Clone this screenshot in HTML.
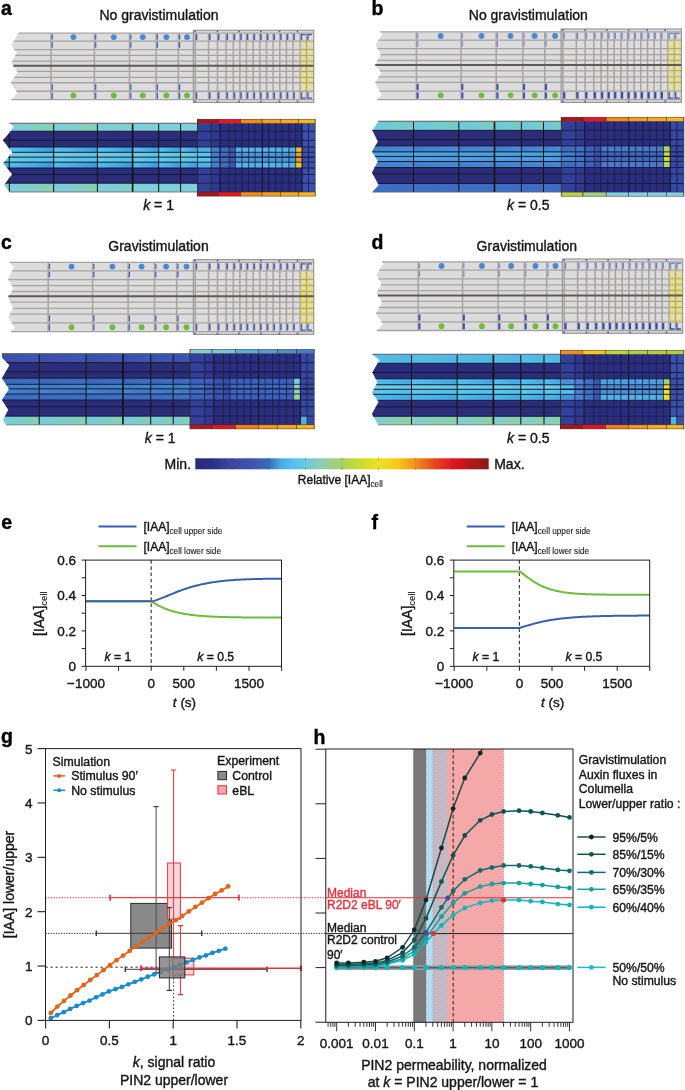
<!DOCTYPE html><html><head><meta charset="utf-8"><style>html,body{margin:0;padding:0;background:#fff}svg{display:block;will-change:transform}</style></head><body><svg width="685" height="1090" viewBox="0 0 685 1090" font-family="Liberation Sans, sans-serif">
<rect x="0" y="0" width="685" height="1090" fill="#ffffff" />
<text x="1" y="15" font-size="19.5" text-anchor="start" fill="#000" stroke="#000" stroke-width="0.38" font-weight="bold">a</text>
<text x="371.5" y="15" font-size="19.5" text-anchor="start" fill="#000" stroke="#000" stroke-width="0.38" font-weight="bold">b</text>
<text x="1" y="248.7" font-size="19.5" text-anchor="start" fill="#000" stroke="#000" stroke-width="0.38" font-weight="bold">c</text>
<text x="371.5" y="248.7" font-size="19.5" text-anchor="start" fill="#000" stroke="#000" stroke-width="0.38" font-weight="bold">d</text>
<text x="1.2" y="528.6" font-size="19.5" text-anchor="start" fill="#000" stroke="#000" stroke-width="0.38" font-weight="bold">e</text>
<text x="371.5" y="528.6" font-size="19.5" text-anchor="start" fill="#000" stroke="#000" stroke-width="0.38" font-weight="bold">f</text>
<text x="1" y="743" font-size="19.5" text-anchor="start" fill="#000" stroke="#000" stroke-width="0.38" font-weight="bold">g</text>
<text x="313.5" y="743.9" font-size="19.5" text-anchor="start" fill="#000" stroke="#000" stroke-width="0.38" font-weight="bold">h</text>
<text x="159" y="19.7" font-size="14" text-anchor="middle" fill="#161616" stroke="#161616" stroke-width="0.38" >No gravistimulation</text>
<text x="528.3" y="19.7" font-size="14" text-anchor="middle" fill="#161616" stroke="#161616" stroke-width="0.38" >No gravistimulation</text>
<text x="158.5" y="251.3" font-size="14" text-anchor="middle" fill="#161616" stroke="#161616" stroke-width="0.38" >Gravistimulation</text>
<text x="526.8" y="251.3" font-size="14" text-anchor="middle" fill="#161616" stroke="#161616" stroke-width="0.38" >Gravistimulation</text>
<polygon points="18.4,33.06 11.4,45 16.6,53 11.4,62.7 17.5,72.3 11,82.8 17.5,93.3 11.4,99.66 193.4,99.66 193.4,33.06" fill="#dcdcdc"/>
<rect x="193.4" y="30.26" width="120.3" height="72.2" fill="#dcdcdc" />
<line x1="18.4" y1="33.06" x2="313.7" y2="33.06" stroke="#a7a3a3" stroke-width="1.3" />
<line x1="13.65" y1="41.16" x2="313.7" y2="41.16" stroke="#a7a3a3" stroke-width="1.3" />
<line x1="14.36" y1="49.56" x2="313.7" y2="49.56" stroke="#a7a3a3" stroke-width="1.3" />
<line x1="15.28" y1="55.46" x2="313.7" y2="55.46" stroke="#a7a3a3" stroke-width="1.3" />
<line x1="12.28" y1="61.06" x2="313.7" y2="61.06" stroke="#a7a3a3" stroke-width="1.3" />
<line x1="16.9" y1="71.36" x2="313.7" y2="71.36" stroke="#a7a3a3" stroke-width="1.3" />
<line x1="14.37" y1="77.36" x2="313.7" y2="77.36" stroke="#a7a3a3" stroke-width="1.3" />
<line x1="11.02" y1="82.76" x2="313.7" y2="82.76" stroke="#a7a3a3" stroke-width="1.3" />
<line x1="16.24" y1="91.26" x2="313.7" y2="91.26" stroke="#a7a3a3" stroke-width="1.3" />
<line x1="11.4" y1="99.66" x2="313.7" y2="99.66" stroke="#a7a3a3" stroke-width="1.3" />
<line x1="51" y1="33.06" x2="51" y2="99.66" stroke="#a7a3a3" stroke-width="1.5" />
<line x1="94.4" y1="33.06" x2="94.4" y2="99.66" stroke="#a7a3a3" stroke-width="1.5" />
<line x1="129.5" y1="33.06" x2="129.5" y2="99.66" stroke="#a7a3a3" stroke-width="1.5" />
<line x1="156.1" y1="33.06" x2="156.1" y2="99.66" stroke="#a7a3a3" stroke-width="1.5" />
<line x1="178.3" y1="33.06" x2="178.3" y2="99.66" stroke="#a7a3a3" stroke-width="1.5" />
<line x1="195.3" y1="33.06" x2="195.3" y2="99.66" stroke="#a7a3a3" stroke-width="1.5" />
<line x1="208.6" y1="33.06" x2="208.6" y2="99.66" stroke="#a7a3a3" stroke-width="1.5" />
<line x1="217.5" y1="33.06" x2="217.5" y2="99.66" stroke="#a7a3a3" stroke-width="1.5" />
<line x1="226.1" y1="33.06" x2="226.1" y2="99.66" stroke="#a7a3a3" stroke-width="1.5" />
<line x1="233.3" y1="33.06" x2="233.3" y2="99.66" stroke="#a7a3a3" stroke-width="1.5" />
<line x1="239.9" y1="33.06" x2="239.9" y2="99.66" stroke="#a7a3a3" stroke-width="1.5" />
<line x1="246.4" y1="33.06" x2="246.4" y2="99.66" stroke="#a7a3a3" stroke-width="1.5" />
<line x1="253.2" y1="33.06" x2="253.2" y2="99.66" stroke="#a7a3a3" stroke-width="1.5" />
<line x1="259.8" y1="33.06" x2="259.8" y2="99.66" stroke="#a7a3a3" stroke-width="1.5" />
<line x1="266.5" y1="33.06" x2="266.5" y2="99.66" stroke="#a7a3a3" stroke-width="1.5" />
<line x1="273.1" y1="33.06" x2="273.1" y2="99.66" stroke="#a7a3a3" stroke-width="1.5" />
<line x1="279.8" y1="33.06" x2="279.8" y2="99.66" stroke="#a7a3a3" stroke-width="1.5" />
<line x1="286.4" y1="33.06" x2="286.4" y2="99.66" stroke="#a7a3a3" stroke-width="1.5" />
<line x1="293" y1="33.06" x2="293" y2="99.66" stroke="#a7a3a3" stroke-width="1.5" />
<line x1="300.1" y1="33.06" x2="300.1" y2="99.66" stroke="#a7a3a3" stroke-width="1.5" />
<line x1="306.5" y1="33.06" x2="306.5" y2="99.66" stroke="#a7a3a3" stroke-width="1.5" />
<rect x="193.4" y="30.26" width="120.3" height="72.2" fill="none" stroke="#9a9696" stroke-width="1.2"/>
<rect x="301.25" y="42.31" width="4.1" height="6.1" fill="none" stroke="#ece040" stroke-width="0.95"/>
<rect x="301.25" y="50.71" width="4.1" height="3.6" fill="none" stroke="#ece040" stroke-width="0.95"/>
<rect x="301.25" y="56.61" width="4.1" height="3.3" fill="none" stroke="#ece040" stroke-width="0.95"/>
<rect x="301.25" y="62.21" width="4.1" height="2.3" fill="none" stroke="#ece040" stroke-width="0.95"/>
<rect x="301.25" y="66.81" width="4.1" height="3.4" fill="none" stroke="#ece040" stroke-width="0.95"/>
<rect x="301.25" y="72.51" width="4.1" height="3.7" fill="none" stroke="#ece040" stroke-width="0.95"/>
<rect x="301.25" y="78.51" width="4.1" height="3.1" fill="none" stroke="#ece040" stroke-width="0.95"/>
<rect x="301.25" y="83.91" width="4.1" height="6.2" fill="none" stroke="#ece040" stroke-width="0.95"/>
<rect x="307.65" y="42.31" width="4.2" height="6.1" fill="none" stroke="#ece040" stroke-width="0.95"/>
<rect x="307.65" y="50.71" width="4.2" height="3.6" fill="none" stroke="#ece040" stroke-width="0.95"/>
<rect x="307.65" y="56.61" width="4.2" height="3.3" fill="none" stroke="#ece040" stroke-width="0.95"/>
<rect x="307.65" y="62.21" width="4.2" height="2.3" fill="none" stroke="#ece040" stroke-width="0.95"/>
<rect x="307.65" y="66.81" width="4.2" height="3.4" fill="none" stroke="#ece040" stroke-width="0.95"/>
<rect x="307.65" y="72.51" width="4.2" height="3.7" fill="none" stroke="#ece040" stroke-width="0.95"/>
<rect x="307.65" y="78.51" width="4.2" height="3.1" fill="none" stroke="#ece040" stroke-width="0.95"/>
<rect x="307.65" y="83.91" width="4.2" height="6.2" fill="none" stroke="#ece040" stroke-width="0.95"/>
<line x1="13.28" y1="65.66" x2="313.7" y2="65.66" stroke="#5e5a5a" stroke-width="2" />
<line x1="52.3" y1="34.56" x2="52.3" y2="39.56" stroke="#4656b4" stroke-width="1.2" />
<line x1="52.3" y1="42.16" x2="52.3" y2="47.66" stroke="#4656b4" stroke-width="1.2" />
<line x1="52.3" y1="84.26" x2="52.3" y2="90.26" stroke="#4656b4" stroke-width="1.2" />
<line x1="52.3" y1="92.76" x2="52.3" y2="98.76" stroke="#4656b4" stroke-width="1.2" />
<line x1="95.7" y1="34.56" x2="95.7" y2="39.56" stroke="#4656b4" stroke-width="1.2" />
<line x1="95.7" y1="42.16" x2="95.7" y2="47.66" stroke="#4656b4" stroke-width="1.2" />
<line x1="95.7" y1="84.26" x2="95.7" y2="90.26" stroke="#4656b4" stroke-width="1.2" />
<line x1="95.7" y1="92.76" x2="95.7" y2="98.76" stroke="#4656b4" stroke-width="1.2" />
<line x1="130.8" y1="34.56" x2="130.8" y2="39.56" stroke="#4656b4" stroke-width="1.2" />
<line x1="130.8" y1="42.16" x2="130.8" y2="47.66" stroke="#4656b4" stroke-width="1.2" />
<line x1="130.8" y1="84.26" x2="130.8" y2="90.26" stroke="#4656b4" stroke-width="1.2" />
<line x1="130.8" y1="92.76" x2="130.8" y2="98.76" stroke="#4656b4" stroke-width="1.2" />
<line x1="157.4" y1="34.56" x2="157.4" y2="39.56" stroke="#4656b4" stroke-width="1.2" />
<line x1="157.4" y1="42.16" x2="157.4" y2="47.66" stroke="#4656b4" stroke-width="1.2" />
<line x1="157.4" y1="84.26" x2="157.4" y2="90.26" stroke="#4656b4" stroke-width="1.2" />
<line x1="157.4" y1="92.76" x2="157.4" y2="98.76" stroke="#4656b4" stroke-width="1.2" />
<line x1="179.6" y1="34.56" x2="179.6" y2="39.56" stroke="#4656b4" stroke-width="1.2" />
<line x1="179.6" y1="42.16" x2="179.6" y2="47.66" stroke="#4656b4" stroke-width="1.2" />
<line x1="179.6" y1="84.26" x2="179.6" y2="90.26" stroke="#4656b4" stroke-width="1.2" />
<line x1="179.6" y1="92.76" x2="179.6" y2="98.76" stroke="#4656b4" stroke-width="1.2" />
<line x1="196.5" y1="34.06" x2="196.5" y2="40.06" stroke="#4656b4" stroke-width="1.5" />
<line x1="196.5" y1="92.26" x2="196.5" y2="98.76" stroke="#4656b4" stroke-width="1.5" />
<line x1="209.8" y1="34.06" x2="209.8" y2="40.06" stroke="#4656b4" stroke-width="1.5" />
<line x1="209.8" y1="92.26" x2="209.8" y2="98.76" stroke="#4656b4" stroke-width="1.5" />
<line x1="218.7" y1="34.06" x2="218.7" y2="40.06" stroke="#4656b4" stroke-width="1.5" />
<line x1="218.7" y1="92.26" x2="218.7" y2="98.76" stroke="#4656b4" stroke-width="1.5" />
<line x1="227.3" y1="34.06" x2="227.3" y2="40.06" stroke="#4656b4" stroke-width="1.5" />
<line x1="227.3" y1="92.26" x2="227.3" y2="98.76" stroke="#4656b4" stroke-width="1.5" />
<line x1="234.5" y1="34.06" x2="234.5" y2="40.06" stroke="#4656b4" stroke-width="1.5" />
<line x1="234.5" y1="92.26" x2="234.5" y2="98.76" stroke="#4656b4" stroke-width="1.5" />
<line x1="241.1" y1="34.06" x2="241.1" y2="40.06" stroke="#4656b4" stroke-width="1.5" />
<line x1="241.1" y1="92.26" x2="241.1" y2="98.76" stroke="#4656b4" stroke-width="1.5" />
<line x1="247.6" y1="34.06" x2="247.6" y2="40.06" stroke="#4656b4" stroke-width="1.5" />
<line x1="247.6" y1="92.26" x2="247.6" y2="98.76" stroke="#4656b4" stroke-width="1.5" />
<line x1="254.4" y1="34.06" x2="254.4" y2="40.06" stroke="#4656b4" stroke-width="1.5" />
<line x1="254.4" y1="92.26" x2="254.4" y2="98.76" stroke="#4656b4" stroke-width="1.5" />
<line x1="261" y1="34.06" x2="261" y2="40.06" stroke="#4656b4" stroke-width="1.5" />
<line x1="261" y1="92.26" x2="261" y2="98.76" stroke="#4656b4" stroke-width="1.5" />
<line x1="267.7" y1="34.06" x2="267.7" y2="40.06" stroke="#4656b4" stroke-width="1.5" />
<line x1="267.7" y1="92.26" x2="267.7" y2="98.76" stroke="#4656b4" stroke-width="1.5" />
<line x1="274.3" y1="34.06" x2="274.3" y2="40.06" stroke="#4656b4" stroke-width="1.5" />
<line x1="274.3" y1="92.26" x2="274.3" y2="98.76" stroke="#4656b4" stroke-width="1.5" />
<line x1="281" y1="34.06" x2="281" y2="40.06" stroke="#4656b4" stroke-width="1.5" />
<line x1="281" y1="92.26" x2="281" y2="98.76" stroke="#4656b4" stroke-width="1.5" />
<line x1="287.6" y1="34.06" x2="287.6" y2="40.06" stroke="#4656b4" stroke-width="1.5" />
<line x1="287.6" y1="92.26" x2="287.6" y2="98.76" stroke="#4656b4" stroke-width="1.5" />
<line x1="294.2" y1="34.06" x2="294.2" y2="40.06" stroke="#4656b4" stroke-width="1.5" />
<line x1="294.2" y1="92.26" x2="294.2" y2="98.76" stroke="#4656b4" stroke-width="1.5" />
<path d="M301.5,40.16 V34.56 H305.5" stroke="#4656b4" stroke-width="1.3" fill="none"/>
<path d="M301.5,92.26 V98.16 H305.5" stroke="#4656b4" stroke-width="1.3" fill="none"/>
<path d="M307.9,40.16 V34.56 H311.9" stroke="#4656b4" stroke-width="1.3" fill="none"/>
<path d="M307.9,92.26 V98.16 H311.9" stroke="#4656b4" stroke-width="1.3" fill="none"/>
<rect x="194.3" y="30.56" width="1.6" height="1.6" fill="#4656b4" />
<rect x="194.3" y="100.66" width="1.6" height="1.6" fill="#4656b4" />
<rect x="216.7" y="30.56" width="1.6" height="1.6" fill="#4656b4" />
<rect x="216.7" y="100.66" width="1.6" height="1.6" fill="#4656b4" />
<rect x="238.3" y="30.56" width="1.6" height="1.6" fill="#4656b4" />
<rect x="238.3" y="100.66" width="1.6" height="1.6" fill="#4656b4" />
<rect x="260.2" y="30.56" width="1.6" height="1.6" fill="#4656b4" />
<rect x="260.2" y="100.66" width="1.6" height="1.6" fill="#4656b4" />
<rect x="278.7" y="30.56" width="1.6" height="1.6" fill="#4656b4" />
<rect x="278.7" y="100.66" width="1.6" height="1.6" fill="#4656b4" />
<rect x="296.7" y="30.56" width="1.6" height="1.6" fill="#4656b4" />
<rect x="296.7" y="100.66" width="1.6" height="1.6" fill="#4656b4" />
<circle cx="73.4" cy="37.11" r="2.9" fill="#4a88d2"/>
<circle cx="73.4" cy="95.46" r="2.9" fill="#6cbd3c"/>
<circle cx="113.8" cy="37.11" r="2.9" fill="#4a88d2"/>
<circle cx="113.8" cy="95.46" r="2.9" fill="#6cbd3c"/>
<circle cx="142.8" cy="37.11" r="2.9" fill="#4a88d2"/>
<circle cx="142.8" cy="95.46" r="2.9" fill="#6cbd3c"/>
<circle cx="166.4" cy="37.11" r="2.9" fill="#4a88d2"/>
<circle cx="166.4" cy="95.46" r="2.9" fill="#6cbd3c"/>
<circle cx="187" cy="37.11" r="2.9" fill="#4a88d2"/>
<circle cx="187" cy="95.46" r="2.9" fill="#6cbd3c"/>
<polygon points="379.9,31.8 382.5,33.8 375.5,45.1 380.8,53.9 375.1,64.8 381.2,72.7 375.1,82.8 381.6,95 377.3,99.6 561.1,99.6 561.1,31.8" fill="#dcdcdc"/>
<rect x="561.1" y="29" width="120.3" height="73.4" fill="#dcdcdc" />
<line x1="379.9" y1="31.8" x2="681.4" y2="31.8" stroke="#a7a3a3" stroke-width="1.3" />
<line x1="378.63" y1="40.05" x2="681.4" y2="40.05" stroke="#a7a3a3" stroke-width="1.3" />
<line x1="377.61" y1="48.6" x2="681.4" y2="48.6" stroke="#a7a3a3" stroke-width="1.3" />
<line x1="380.43" y1="54.6" x2="681.4" y2="54.6" stroke="#a7a3a3" stroke-width="1.3" />
<line x1="377.45" y1="60.3" x2="681.4" y2="60.3" stroke="#a7a3a3" stroke-width="1.3" />
<line x1="379.73" y1="70.79" x2="681.4" y2="70.79" stroke="#a7a3a3" stroke-width="1.3" />
<line x1="378.66" y1="76.9" x2="681.4" y2="76.9" stroke="#a7a3a3" stroke-width="1.3" />
<line x1="375.34" y1="82.4" x2="681.4" y2="82.4" stroke="#a7a3a3" stroke-width="1.3" />
<line x1="379.49" y1="91.05" x2="681.4" y2="91.05" stroke="#a7a3a3" stroke-width="1.3" />
<line x1="377.3" y1="99.6" x2="681.4" y2="99.6" stroke="#a7a3a3" stroke-width="1.3" />
<line x1="416.4" y1="31.8" x2="416.4" y2="99.6" stroke="#a7a3a3" stroke-width="1.5" />
<line x1="461.1" y1="31.8" x2="461.1" y2="99.6" stroke="#a7a3a3" stroke-width="1.5" />
<line x1="496.2" y1="31.8" x2="496.2" y2="99.6" stroke="#a7a3a3" stroke-width="1.5" />
<line x1="522.8" y1="31.8" x2="522.8" y2="99.6" stroke="#a7a3a3" stroke-width="1.5" />
<line x1="544.8" y1="31.8" x2="544.8" y2="99.6" stroke="#a7a3a3" stroke-width="1.5" />
<line x1="563" y1="31.8" x2="563" y2="99.6" stroke="#a7a3a3" stroke-width="1.5" />
<line x1="576.3" y1="31.8" x2="576.3" y2="99.6" stroke="#a7a3a3" stroke-width="1.5" />
<line x1="585.2" y1="31.8" x2="585.2" y2="99.6" stroke="#a7a3a3" stroke-width="1.5" />
<line x1="593.8" y1="31.8" x2="593.8" y2="99.6" stroke="#a7a3a3" stroke-width="1.5" />
<line x1="601" y1="31.8" x2="601" y2="99.6" stroke="#a7a3a3" stroke-width="1.5" />
<line x1="607.6" y1="31.8" x2="607.6" y2="99.6" stroke="#a7a3a3" stroke-width="1.5" />
<line x1="614.1" y1="31.8" x2="614.1" y2="99.6" stroke="#a7a3a3" stroke-width="1.5" />
<line x1="620.9" y1="31.8" x2="620.9" y2="99.6" stroke="#a7a3a3" stroke-width="1.5" />
<line x1="627.5" y1="31.8" x2="627.5" y2="99.6" stroke="#a7a3a3" stroke-width="1.5" />
<line x1="634.2" y1="31.8" x2="634.2" y2="99.6" stroke="#a7a3a3" stroke-width="1.5" />
<line x1="640.8" y1="31.8" x2="640.8" y2="99.6" stroke="#a7a3a3" stroke-width="1.5" />
<line x1="647.5" y1="31.8" x2="647.5" y2="99.6" stroke="#a7a3a3" stroke-width="1.5" />
<line x1="654.1" y1="31.8" x2="654.1" y2="99.6" stroke="#a7a3a3" stroke-width="1.5" />
<line x1="660.7" y1="31.8" x2="660.7" y2="99.6" stroke="#a7a3a3" stroke-width="1.5" />
<line x1="667.8" y1="31.8" x2="667.8" y2="99.6" stroke="#a7a3a3" stroke-width="1.5" />
<line x1="674.2" y1="31.8" x2="674.2" y2="99.6" stroke="#a7a3a3" stroke-width="1.5" />
<rect x="561.1" y="29" width="120.3" height="73.4" fill="none" stroke="#9a9696" stroke-width="1.2"/>
<rect x="668.95" y="41.2" width="4.1" height="6.25" fill="none" stroke="#ece040" stroke-width="0.95"/>
<rect x="668.95" y="49.75" width="4.1" height="3.71" fill="none" stroke="#ece040" stroke-width="0.95"/>
<rect x="668.95" y="55.75" width="4.1" height="3.4" fill="none" stroke="#ece040" stroke-width="0.95"/>
<rect x="668.95" y="61.45" width="4.1" height="2.38" fill="none" stroke="#ece040" stroke-width="0.95"/>
<rect x="668.95" y="66.14" width="4.1" height="3.5" fill="none" stroke="#ece040" stroke-width="0.95"/>
<rect x="668.95" y="71.94" width="4.1" height="3.81" fill="none" stroke="#ece040" stroke-width="0.95"/>
<rect x="668.95" y="78.05" width="4.1" height="3.2" fill="none" stroke="#ece040" stroke-width="0.95"/>
<rect x="668.95" y="83.55" width="4.1" height="6.35" fill="none" stroke="#ece040" stroke-width="0.95"/>
<rect x="675.35" y="41.2" width="4.2" height="6.25" fill="none" stroke="#ece040" stroke-width="0.95"/>
<rect x="675.35" y="49.75" width="4.2" height="3.71" fill="none" stroke="#ece040" stroke-width="0.95"/>
<rect x="675.35" y="55.75" width="4.2" height="3.4" fill="none" stroke="#ece040" stroke-width="0.95"/>
<rect x="675.35" y="61.45" width="4.2" height="2.38" fill="none" stroke="#ece040" stroke-width="0.95"/>
<rect x="675.35" y="66.14" width="4.2" height="3.5" fill="none" stroke="#ece040" stroke-width="0.95"/>
<rect x="675.35" y="71.94" width="4.2" height="3.81" fill="none" stroke="#ece040" stroke-width="0.95"/>
<rect x="675.35" y="78.05" width="4.2" height="3.2" fill="none" stroke="#ece040" stroke-width="0.95"/>
<rect x="675.35" y="83.55" width="4.2" height="6.35" fill="none" stroke="#ece040" stroke-width="0.95"/>
<line x1="375.24" y1="64.99" x2="681.4" y2="64.99" stroke="#5e5a5a" stroke-width="2" />
<line x1="417.7" y1="33.3" x2="417.7" y2="38.3" stroke="#7080cc" stroke-width="1" />
<line x1="417.7" y1="41.05" x2="417.7" y2="46.55" stroke="#7080cc" stroke-width="1" />
<line x1="417.7" y1="83.9" x2="417.7" y2="89.9" stroke="#3a4ab0" stroke-width="1.9" />
<line x1="417.7" y1="92.55" x2="417.7" y2="98.55" stroke="#3a4ab0" stroke-width="1.9" />
<line x1="462.4" y1="33.3" x2="462.4" y2="38.3" stroke="#7080cc" stroke-width="1" />
<line x1="462.4" y1="41.05" x2="462.4" y2="46.55" stroke="#7080cc" stroke-width="1" />
<line x1="462.4" y1="83.9" x2="462.4" y2="89.9" stroke="#3a4ab0" stroke-width="1.9" />
<line x1="462.4" y1="92.55" x2="462.4" y2="98.55" stroke="#3a4ab0" stroke-width="1.9" />
<line x1="497.5" y1="33.3" x2="497.5" y2="38.3" stroke="#7080cc" stroke-width="1" />
<line x1="497.5" y1="41.05" x2="497.5" y2="46.55" stroke="#7080cc" stroke-width="1" />
<line x1="497.5" y1="83.9" x2="497.5" y2="89.9" stroke="#3a4ab0" stroke-width="1.9" />
<line x1="497.5" y1="92.55" x2="497.5" y2="98.55" stroke="#3a4ab0" stroke-width="1.9" />
<line x1="524.1" y1="33.3" x2="524.1" y2="38.3" stroke="#7080cc" stroke-width="1" />
<line x1="524.1" y1="41.05" x2="524.1" y2="46.55" stroke="#7080cc" stroke-width="1" />
<line x1="524.1" y1="83.9" x2="524.1" y2="89.9" stroke="#3a4ab0" stroke-width="1.9" />
<line x1="524.1" y1="92.55" x2="524.1" y2="98.55" stroke="#3a4ab0" stroke-width="1.9" />
<line x1="546.1" y1="33.3" x2="546.1" y2="38.3" stroke="#7080cc" stroke-width="1" />
<line x1="546.1" y1="41.05" x2="546.1" y2="46.55" stroke="#7080cc" stroke-width="1" />
<line x1="546.1" y1="83.9" x2="546.1" y2="89.9" stroke="#3a4ab0" stroke-width="1.9" />
<line x1="546.1" y1="92.55" x2="546.1" y2="98.55" stroke="#3a4ab0" stroke-width="1.9" />
<line x1="564.2" y1="32.8" x2="564.2" y2="38.8" stroke="#7080cc" stroke-width="1.3" />
<line x1="564.2" y1="92.05" x2="564.2" y2="98.55" stroke="#3a4ab0" stroke-width="2.2" />
<line x1="577.5" y1="32.8" x2="577.5" y2="38.8" stroke="#7080cc" stroke-width="1.3" />
<line x1="577.5" y1="92.05" x2="577.5" y2="98.55" stroke="#3a4ab0" stroke-width="2.2" />
<line x1="586.4" y1="32.8" x2="586.4" y2="38.8" stroke="#7080cc" stroke-width="1.3" />
<line x1="586.4" y1="92.05" x2="586.4" y2="98.55" stroke="#3a4ab0" stroke-width="2.2" />
<line x1="595" y1="32.8" x2="595" y2="38.8" stroke="#7080cc" stroke-width="1.3" />
<line x1="595" y1="92.05" x2="595" y2="98.55" stroke="#3a4ab0" stroke-width="2.2" />
<line x1="602.2" y1="32.8" x2="602.2" y2="38.8" stroke="#7080cc" stroke-width="1.3" />
<line x1="602.2" y1="92.05" x2="602.2" y2="98.55" stroke="#3a4ab0" stroke-width="2.2" />
<line x1="608.8" y1="32.8" x2="608.8" y2="38.8" stroke="#7080cc" stroke-width="1.3" />
<line x1="608.8" y1="92.05" x2="608.8" y2="98.55" stroke="#3a4ab0" stroke-width="2.2" />
<line x1="615.3" y1="32.8" x2="615.3" y2="38.8" stroke="#7080cc" stroke-width="1.3" />
<line x1="615.3" y1="92.05" x2="615.3" y2="98.55" stroke="#3a4ab0" stroke-width="2.2" />
<line x1="622.1" y1="32.8" x2="622.1" y2="38.8" stroke="#7080cc" stroke-width="1.3" />
<line x1="622.1" y1="92.05" x2="622.1" y2="98.55" stroke="#3a4ab0" stroke-width="2.2" />
<line x1="628.7" y1="32.8" x2="628.7" y2="38.8" stroke="#7080cc" stroke-width="1.3" />
<line x1="628.7" y1="92.05" x2="628.7" y2="98.55" stroke="#3a4ab0" stroke-width="2.2" />
<line x1="635.4" y1="32.8" x2="635.4" y2="38.8" stroke="#7080cc" stroke-width="1.3" />
<line x1="635.4" y1="92.05" x2="635.4" y2="98.55" stroke="#3a4ab0" stroke-width="2.2" />
<line x1="642" y1="32.8" x2="642" y2="38.8" stroke="#7080cc" stroke-width="1.3" />
<line x1="642" y1="92.05" x2="642" y2="98.55" stroke="#3a4ab0" stroke-width="2.2" />
<line x1="648.7" y1="32.8" x2="648.7" y2="38.8" stroke="#7080cc" stroke-width="1.3" />
<line x1="648.7" y1="92.05" x2="648.7" y2="98.55" stroke="#3a4ab0" stroke-width="2.2" />
<line x1="655.3" y1="32.8" x2="655.3" y2="38.8" stroke="#7080cc" stroke-width="1.3" />
<line x1="655.3" y1="92.05" x2="655.3" y2="98.55" stroke="#3a4ab0" stroke-width="2.2" />
<line x1="661.9" y1="32.8" x2="661.9" y2="38.8" stroke="#7080cc" stroke-width="1.3" />
<line x1="661.9" y1="92.05" x2="661.9" y2="98.55" stroke="#3a4ab0" stroke-width="2.2" />
<path d="M669.2,39.05 V33.3 H673.2" stroke="#7080cc" stroke-width="1.3" fill="none"/>
<path d="M669.2,92.05 V98.1 H673.2" stroke="#3a4ab0" stroke-width="1.3" fill="none"/>
<path d="M675.6,39.05 V33.3 H679.6" stroke="#7080cc" stroke-width="1.3" fill="none"/>
<path d="M675.6,92.05 V98.1 H679.6" stroke="#3a4ab0" stroke-width="1.3" fill="none"/>
<rect x="562" y="29.3" width="1.6" height="1.6" fill="#4656b4" />
<rect x="562" y="100.6" width="1.6" height="1.6" fill="#4656b4" />
<rect x="584.4" y="29.3" width="1.6" height="1.6" fill="#4656b4" />
<rect x="584.4" y="100.6" width="1.6" height="1.6" fill="#4656b4" />
<rect x="606" y="29.3" width="1.6" height="1.6" fill="#4656b4" />
<rect x="606" y="100.6" width="1.6" height="1.6" fill="#4656b4" />
<rect x="627.9" y="29.3" width="1.6" height="1.6" fill="#4656b4" />
<rect x="627.9" y="100.6" width="1.6" height="1.6" fill="#4656b4" />
<rect x="646.4" y="29.3" width="1.6" height="1.6" fill="#4656b4" />
<rect x="646.4" y="100.6" width="1.6" height="1.6" fill="#4656b4" />
<rect x="664.4" y="29.3" width="1.6" height="1.6" fill="#4656b4" />
<rect x="664.4" y="100.6" width="1.6" height="1.6" fill="#4656b4" />
<circle cx="440.7" cy="35.92" r="2.9" fill="#4a88d2"/>
<circle cx="440.7" cy="95.32" r="2.9" fill="#6cbd3c"/>
<circle cx="481.5" cy="35.92" r="2.9" fill="#4a88d2"/>
<circle cx="481.5" cy="95.32" r="2.9" fill="#6cbd3c"/>
<circle cx="510.5" cy="35.92" r="2.9" fill="#4a88d2"/>
<circle cx="510.5" cy="95.32" r="2.9" fill="#6cbd3c"/>
<circle cx="534.6" cy="35.92" r="2.9" fill="#4a88d2"/>
<circle cx="534.6" cy="95.32" r="2.9" fill="#6cbd3c"/>
<circle cx="555.1" cy="35.92" r="2.9" fill="#4a88d2"/>
<circle cx="555.1" cy="95.32" r="2.9" fill="#6cbd3c"/>
<polygon points="9.6,262.4 14,267.3 7.9,279.1 13.6,288.7 7.9,297 13.1,308 8.3,317.2 14.9,327.7 10.9,331.6 193.4,331.6 193.4,262.4" fill="#dcdcdc"/>
<rect x="193.4" y="259.6" width="120.3" height="74.8" fill="#dcdcdc" />
<line x1="9.6" y1="262.4" x2="313.7" y2="262.4" stroke="#a7a3a3" stroke-width="1.3" />
<line x1="12.18" y1="270.82" x2="313.7" y2="270.82" stroke="#a7a3a3" stroke-width="1.3" />
<line x1="8.16" y1="279.54" x2="313.7" y2="279.54" stroke="#a7a3a3" stroke-width="1.3" />
<line x1="11.8" y1="285.67" x2="313.7" y2="285.67" stroke="#a7a3a3" stroke-width="1.3" />
<line x1="11.68" y1="291.49" x2="313.7" y2="291.49" stroke="#a7a3a3" stroke-width="1.3" />
<line x1="10.36" y1="302.2" x2="313.7" y2="302.2" stroke="#a7a3a3" stroke-width="1.3" />
<line x1="12.88" y1="308.43" x2="313.7" y2="308.43" stroke="#a7a3a3" stroke-width="1.3" />
<line x1="9.95" y1="314.04" x2="313.7" y2="314.04" stroke="#a7a3a3" stroke-width="1.3" />
<line x1="11.87" y1="322.87" x2="313.7" y2="322.87" stroke="#a7a3a3" stroke-width="1.3" />
<line x1="10.9" y1="331.6" x2="313.7" y2="331.6" stroke="#a7a3a3" stroke-width="1.3" />
<line x1="48.2" y1="262.4" x2="48.2" y2="331.6" stroke="#a7a3a3" stroke-width="1.5" />
<line x1="92.6" y1="262.4" x2="92.6" y2="331.6" stroke="#a7a3a3" stroke-width="1.5" />
<line x1="128.1" y1="262.4" x2="128.1" y2="331.6" stroke="#a7a3a3" stroke-width="1.5" />
<line x1="154.5" y1="262.4" x2="154.5" y2="331.6" stroke="#a7a3a3" stroke-width="1.5" />
<line x1="176.7" y1="262.4" x2="176.7" y2="331.6" stroke="#a7a3a3" stroke-width="1.5" />
<line x1="195.3" y1="262.4" x2="195.3" y2="331.6" stroke="#a7a3a3" stroke-width="1.5" />
<line x1="208.6" y1="262.4" x2="208.6" y2="331.6" stroke="#a7a3a3" stroke-width="1.5" />
<line x1="217.5" y1="262.4" x2="217.5" y2="331.6" stroke="#a7a3a3" stroke-width="1.5" />
<line x1="226.1" y1="262.4" x2="226.1" y2="331.6" stroke="#a7a3a3" stroke-width="1.5" />
<line x1="233.3" y1="262.4" x2="233.3" y2="331.6" stroke="#a7a3a3" stroke-width="1.5" />
<line x1="239.9" y1="262.4" x2="239.9" y2="331.6" stroke="#a7a3a3" stroke-width="1.5" />
<line x1="246.4" y1="262.4" x2="246.4" y2="331.6" stroke="#a7a3a3" stroke-width="1.5" />
<line x1="253.2" y1="262.4" x2="253.2" y2="331.6" stroke="#a7a3a3" stroke-width="1.5" />
<line x1="259.8" y1="262.4" x2="259.8" y2="331.6" stroke="#a7a3a3" stroke-width="1.5" />
<line x1="266.5" y1="262.4" x2="266.5" y2="331.6" stroke="#a7a3a3" stroke-width="1.5" />
<line x1="273.1" y1="262.4" x2="273.1" y2="331.6" stroke="#a7a3a3" stroke-width="1.5" />
<line x1="279.8" y1="262.4" x2="279.8" y2="331.6" stroke="#a7a3a3" stroke-width="1.5" />
<line x1="286.4" y1="262.4" x2="286.4" y2="331.6" stroke="#a7a3a3" stroke-width="1.5" />
<line x1="293" y1="262.4" x2="293" y2="331.6" stroke="#a7a3a3" stroke-width="1.5" />
<line x1="300.1" y1="262.4" x2="300.1" y2="331.6" stroke="#a7a3a3" stroke-width="1.5" />
<line x1="306.5" y1="262.4" x2="306.5" y2="331.6" stroke="#a7a3a3" stroke-width="1.5" />
<rect x="193.4" y="259.6" width="120.3" height="74.8" fill="none" stroke="#9a9696" stroke-width="1.2"/>
<rect x="301.25" y="271.97" width="4.1" height="6.43" fill="none" stroke="#ece040" stroke-width="0.95"/>
<rect x="300.85" y="277.39" width="4.9" height="1.4" fill="#f2da2a" />
<rect x="301.25" y="280.69" width="4.1" height="3.83" fill="none" stroke="#ece040" stroke-width="0.95"/>
<rect x="300.85" y="283.52" width="4.9" height="1.4" fill="#f2da2a" />
<rect x="301.25" y="286.82" width="4.1" height="3.52" fill="none" stroke="#ece040" stroke-width="0.95"/>
<rect x="300.85" y="289.34" width="4.9" height="1.4" fill="#f2da2a" />
<rect x="301.25" y="292.64" width="4.1" height="2.48" fill="none" stroke="#ece040" stroke-width="0.95"/>
<rect x="300.85" y="294.12" width="4.9" height="1.4" fill="#f2da2a" />
<rect x="301.25" y="297.42" width="4.1" height="3.62" fill="none" stroke="#ece040" stroke-width="0.95"/>
<rect x="300.85" y="300.05" width="4.9" height="1.4" fill="#f2da2a" />
<rect x="301.25" y="303.35" width="4.1" height="3.93" fill="none" stroke="#ece040" stroke-width="0.95"/>
<rect x="300.85" y="306.28" width="4.9" height="1.4" fill="#f2da2a" />
<rect x="301.25" y="309.58" width="4.1" height="3.31" fill="none" stroke="#ece040" stroke-width="0.95"/>
<rect x="300.85" y="311.89" width="4.9" height="1.4" fill="#f2da2a" />
<rect x="301.25" y="315.19" width="4.1" height="6.53" fill="none" stroke="#ece040" stroke-width="0.95"/>
<rect x="300.85" y="320.72" width="4.9" height="1.4" fill="#f2da2a" />
<rect x="307.65" y="271.97" width="4.2" height="6.43" fill="none" stroke="#ece040" stroke-width="0.95"/>
<rect x="307.25" y="277.39" width="5" height="1.4" fill="#f2da2a" />
<rect x="307.65" y="280.69" width="4.2" height="3.83" fill="none" stroke="#ece040" stroke-width="0.95"/>
<rect x="307.25" y="283.52" width="5" height="1.4" fill="#f2da2a" />
<rect x="307.65" y="286.82" width="4.2" height="3.52" fill="none" stroke="#ece040" stroke-width="0.95"/>
<rect x="307.25" y="289.34" width="5" height="1.4" fill="#f2da2a" />
<rect x="307.65" y="292.64" width="4.2" height="2.48" fill="none" stroke="#ece040" stroke-width="0.95"/>
<rect x="307.25" y="294.12" width="5" height="1.4" fill="#f2da2a" />
<rect x="307.65" y="297.42" width="4.2" height="3.62" fill="none" stroke="#ece040" stroke-width="0.95"/>
<rect x="307.25" y="300.05" width="5" height="1.4" fill="#f2da2a" />
<rect x="307.65" y="303.35" width="4.2" height="3.93" fill="none" stroke="#ece040" stroke-width="0.95"/>
<rect x="307.25" y="306.28" width="5" height="1.4" fill="#f2da2a" />
<rect x="307.65" y="309.58" width="4.2" height="3.31" fill="none" stroke="#ece040" stroke-width="0.95"/>
<rect x="307.25" y="311.89" width="5" height="1.4" fill="#f2da2a" />
<rect x="307.65" y="315.19" width="4.2" height="6.53" fill="none" stroke="#ece040" stroke-width="0.95"/>
<rect x="307.25" y="320.72" width="5" height="1.4" fill="#f2da2a" />
<line x1="8.4" y1="296.27" x2="313.7" y2="296.27" stroke="#5e5a5a" stroke-width="2" />
<line x1="49.5" y1="263.9" x2="49.5" y2="268.9" stroke="#4656b4" stroke-width="1.2" />
<line x1="49.5" y1="271.82" x2="49.5" y2="277.32" stroke="#4656b4" stroke-width="1.2" />
<line x1="49.5" y1="315.54" x2="49.5" y2="321.54" stroke="#4656b4" stroke-width="1.2" />
<line x1="49.5" y1="324.37" x2="49.5" y2="330.37" stroke="#4656b4" stroke-width="1.2" />
<line x1="93.9" y1="263.9" x2="93.9" y2="268.9" stroke="#4656b4" stroke-width="1.2" />
<line x1="93.9" y1="271.82" x2="93.9" y2="277.32" stroke="#4656b4" stroke-width="1.2" />
<line x1="93.9" y1="315.54" x2="93.9" y2="321.54" stroke="#4656b4" stroke-width="1.2" />
<line x1="93.9" y1="324.37" x2="93.9" y2="330.37" stroke="#4656b4" stroke-width="1.2" />
<line x1="129.4" y1="263.9" x2="129.4" y2="268.9" stroke="#4656b4" stroke-width="1.2" />
<line x1="129.4" y1="271.82" x2="129.4" y2="277.32" stroke="#4656b4" stroke-width="1.2" />
<line x1="129.4" y1="315.54" x2="129.4" y2="321.54" stroke="#4656b4" stroke-width="1.2" />
<line x1="129.4" y1="324.37" x2="129.4" y2="330.37" stroke="#4656b4" stroke-width="1.2" />
<line x1="155.8" y1="263.9" x2="155.8" y2="268.9" stroke="#4656b4" stroke-width="1.2" />
<line x1="155.8" y1="271.82" x2="155.8" y2="277.32" stroke="#4656b4" stroke-width="1.2" />
<line x1="155.8" y1="315.54" x2="155.8" y2="321.54" stroke="#4656b4" stroke-width="1.2" />
<line x1="155.8" y1="324.37" x2="155.8" y2="330.37" stroke="#4656b4" stroke-width="1.2" />
<line x1="178" y1="263.9" x2="178" y2="268.9" stroke="#4656b4" stroke-width="1.2" />
<line x1="178" y1="271.82" x2="178" y2="277.32" stroke="#4656b4" stroke-width="1.2" />
<line x1="178" y1="315.54" x2="178" y2="321.54" stroke="#4656b4" stroke-width="1.2" />
<line x1="178" y1="324.37" x2="178" y2="330.37" stroke="#4656b4" stroke-width="1.2" />
<line x1="196.5" y1="263.4" x2="196.5" y2="269.4" stroke="#4656b4" stroke-width="1.5" />
<line x1="196.5" y1="323.87" x2="196.5" y2="330.37" stroke="#4656b4" stroke-width="1.5" />
<line x1="209.8" y1="263.4" x2="209.8" y2="269.4" stroke="#4656b4" stroke-width="1.5" />
<line x1="209.8" y1="323.87" x2="209.8" y2="330.37" stroke="#4656b4" stroke-width="1.5" />
<line x1="218.7" y1="263.4" x2="218.7" y2="269.4" stroke="#4656b4" stroke-width="1.5" />
<line x1="218.7" y1="323.87" x2="218.7" y2="330.37" stroke="#4656b4" stroke-width="1.5" />
<line x1="227.3" y1="263.4" x2="227.3" y2="269.4" stroke="#4656b4" stroke-width="1.5" />
<line x1="227.3" y1="323.87" x2="227.3" y2="330.37" stroke="#4656b4" stroke-width="1.5" />
<line x1="234.5" y1="263.4" x2="234.5" y2="269.4" stroke="#4656b4" stroke-width="1.5" />
<line x1="234.5" y1="323.87" x2="234.5" y2="330.37" stroke="#4656b4" stroke-width="1.5" />
<line x1="241.1" y1="263.4" x2="241.1" y2="269.4" stroke="#4656b4" stroke-width="1.5" />
<line x1="241.1" y1="323.87" x2="241.1" y2="330.37" stroke="#4656b4" stroke-width="1.5" />
<line x1="247.6" y1="263.4" x2="247.6" y2="269.4" stroke="#4656b4" stroke-width="1.5" />
<line x1="247.6" y1="323.87" x2="247.6" y2="330.37" stroke="#4656b4" stroke-width="1.5" />
<line x1="254.4" y1="263.4" x2="254.4" y2="269.4" stroke="#4656b4" stroke-width="1.5" />
<line x1="254.4" y1="323.87" x2="254.4" y2="330.37" stroke="#4656b4" stroke-width="1.5" />
<line x1="261" y1="263.4" x2="261" y2="269.4" stroke="#4656b4" stroke-width="1.5" />
<line x1="261" y1="323.87" x2="261" y2="330.37" stroke="#4656b4" stroke-width="1.5" />
<line x1="267.7" y1="263.4" x2="267.7" y2="269.4" stroke="#4656b4" stroke-width="1.5" />
<line x1="267.7" y1="323.87" x2="267.7" y2="330.37" stroke="#4656b4" stroke-width="1.5" />
<line x1="274.3" y1="263.4" x2="274.3" y2="269.4" stroke="#4656b4" stroke-width="1.5" />
<line x1="274.3" y1="323.87" x2="274.3" y2="330.37" stroke="#4656b4" stroke-width="1.5" />
<line x1="281" y1="263.4" x2="281" y2="269.4" stroke="#4656b4" stroke-width="1.5" />
<line x1="281" y1="323.87" x2="281" y2="330.37" stroke="#4656b4" stroke-width="1.5" />
<line x1="287.6" y1="263.4" x2="287.6" y2="269.4" stroke="#4656b4" stroke-width="1.5" />
<line x1="287.6" y1="323.87" x2="287.6" y2="330.37" stroke="#4656b4" stroke-width="1.5" />
<line x1="294.2" y1="263.4" x2="294.2" y2="269.4" stroke="#4656b4" stroke-width="1.5" />
<line x1="294.2" y1="323.87" x2="294.2" y2="330.37" stroke="#4656b4" stroke-width="1.5" />
<path d="M301.5,269.82 V263.9 H305.5" stroke="#4656b4" stroke-width="1.3" fill="none"/>
<path d="M301.5,323.87 V330.1 H305.5" stroke="#4656b4" stroke-width="1.3" fill="none"/>
<path d="M307.9,269.82 V263.9 H311.9" stroke="#4656b4" stroke-width="1.3" fill="none"/>
<path d="M307.9,323.87 V330.1 H311.9" stroke="#4656b4" stroke-width="1.3" fill="none"/>
<rect x="194.3" y="259.9" width="1.6" height="1.6" fill="#4656b4" />
<rect x="194.3" y="332.6" width="1.6" height="1.6" fill="#4656b4" />
<rect x="216.7" y="259.9" width="1.6" height="1.6" fill="#4656b4" />
<rect x="216.7" y="332.6" width="1.6" height="1.6" fill="#4656b4" />
<rect x="238.3" y="259.9" width="1.6" height="1.6" fill="#4656b4" />
<rect x="238.3" y="332.6" width="1.6" height="1.6" fill="#4656b4" />
<rect x="260.2" y="259.9" width="1.6" height="1.6" fill="#4656b4" />
<rect x="260.2" y="332.6" width="1.6" height="1.6" fill="#4656b4" />
<rect x="278.7" y="259.9" width="1.6" height="1.6" fill="#4656b4" />
<rect x="278.7" y="332.6" width="1.6" height="1.6" fill="#4656b4" />
<rect x="296.7" y="259.9" width="1.6" height="1.6" fill="#4656b4" />
<rect x="296.7" y="332.6" width="1.6" height="1.6" fill="#4656b4" />
<circle cx="71.5" cy="266.61" r="2.9" fill="#4a88d2"/>
<circle cx="71.5" cy="327.24" r="2.9" fill="#6cbd3c"/>
<circle cx="112.4" cy="266.61" r="2.9" fill="#4a88d2"/>
<circle cx="112.4" cy="327.24" r="2.9" fill="#6cbd3c"/>
<circle cx="141.6" cy="266.61" r="2.9" fill="#4a88d2"/>
<circle cx="141.6" cy="327.24" r="2.9" fill="#6cbd3c"/>
<circle cx="166.1" cy="266.61" r="2.9" fill="#4a88d2"/>
<circle cx="166.1" cy="327.24" r="2.9" fill="#6cbd3c"/>
<circle cx="186.5" cy="266.61" r="2.9" fill="#4a88d2"/>
<circle cx="186.5" cy="327.24" r="2.9" fill="#6cbd3c"/>
<polygon points="382.1,261.8 383.4,263.3 376.4,274.7 381.6,283.9 376.4,293.1 382.1,302.3 375.9,313.2 383,324.2 376.8,330.5 562.4,330.5 562.4,261.8" fill="#dcdcdc"/>
<rect x="562.4" y="259" width="120.3" height="74.3" fill="#dcdcdc" />
<line x1="382.1" y1="261.8" x2="682.7" y2="261.8" stroke="#a7a3a3" stroke-width="1.3" />
<line x1="379.19" y1="270.16" x2="682.7" y2="270.16" stroke="#a7a3a3" stroke-width="1.3" />
<line x1="378.73" y1="278.82" x2="682.7" y2="278.82" stroke="#a7a3a3" stroke-width="1.3" />
<line x1="381.03" y1="284.91" x2="682.7" y2="284.91" stroke="#a7a3a3" stroke-width="1.3" />
<line x1="377.77" y1="290.68" x2="682.7" y2="290.68" stroke="#a7a3a3" stroke-width="1.3" />
<line x1="381.49" y1="301.31" x2="682.7" y2="301.31" stroke="#a7a3a3" stroke-width="1.3" />
<line x1="379.14" y1="307.5" x2="682.7" y2="307.5" stroke="#a7a3a3" stroke-width="1.3" />
<line x1="375.98" y1="313.07" x2="682.7" y2="313.07" stroke="#a7a3a3" stroke-width="1.3" />
<line x1="381.47" y1="321.84" x2="682.7" y2="321.84" stroke="#a7a3a3" stroke-width="1.3" />
<line x1="376.8" y1="330.5" x2="682.7" y2="330.5" stroke="#a7a3a3" stroke-width="1.3" />
<line x1="418.2" y1="261.8" x2="418.2" y2="330.5" stroke="#a7a3a3" stroke-width="1.5" />
<line x1="462.6" y1="261.8" x2="462.6" y2="330.5" stroke="#a7a3a3" stroke-width="1.5" />
<line x1="498.1" y1="261.8" x2="498.1" y2="330.5" stroke="#a7a3a3" stroke-width="1.5" />
<line x1="524.5" y1="261.8" x2="524.5" y2="330.5" stroke="#a7a3a3" stroke-width="1.5" />
<line x1="546.7" y1="261.8" x2="546.7" y2="330.5" stroke="#a7a3a3" stroke-width="1.5" />
<line x1="564.3" y1="261.8" x2="564.3" y2="330.5" stroke="#a7a3a3" stroke-width="1.5" />
<line x1="577.6" y1="261.8" x2="577.6" y2="330.5" stroke="#a7a3a3" stroke-width="1.5" />
<line x1="586.5" y1="261.8" x2="586.5" y2="330.5" stroke="#a7a3a3" stroke-width="1.5" />
<line x1="595.1" y1="261.8" x2="595.1" y2="330.5" stroke="#a7a3a3" stroke-width="1.5" />
<line x1="602.3" y1="261.8" x2="602.3" y2="330.5" stroke="#a7a3a3" stroke-width="1.5" />
<line x1="608.9" y1="261.8" x2="608.9" y2="330.5" stroke="#a7a3a3" stroke-width="1.5" />
<line x1="615.4" y1="261.8" x2="615.4" y2="330.5" stroke="#a7a3a3" stroke-width="1.5" />
<line x1="622.2" y1="261.8" x2="622.2" y2="330.5" stroke="#a7a3a3" stroke-width="1.5" />
<line x1="628.8" y1="261.8" x2="628.8" y2="330.5" stroke="#a7a3a3" stroke-width="1.5" />
<line x1="635.5" y1="261.8" x2="635.5" y2="330.5" stroke="#a7a3a3" stroke-width="1.5" />
<line x1="642.1" y1="261.8" x2="642.1" y2="330.5" stroke="#a7a3a3" stroke-width="1.5" />
<line x1="648.8" y1="261.8" x2="648.8" y2="330.5" stroke="#a7a3a3" stroke-width="1.5" />
<line x1="655.4" y1="261.8" x2="655.4" y2="330.5" stroke="#a7a3a3" stroke-width="1.5" />
<line x1="662" y1="261.8" x2="662" y2="330.5" stroke="#a7a3a3" stroke-width="1.5" />
<line x1="669.1" y1="261.8" x2="669.1" y2="330.5" stroke="#a7a3a3" stroke-width="1.5" />
<line x1="675.5" y1="261.8" x2="675.5" y2="330.5" stroke="#a7a3a3" stroke-width="1.5" />
<rect x="562.4" y="259" width="120.3" height="74.3" fill="none" stroke="#9a9696" stroke-width="1.2"/>
<rect x="670.25" y="271.31" width="4.1" height="6.36" fill="none" stroke="#ece040" stroke-width="0.95"/>
<rect x="669.85" y="276.67" width="4.9" height="1.4" fill="#f2da2a" />
<rect x="670.25" y="279.97" width="4.1" height="3.79" fill="none" stroke="#ece040" stroke-width="0.95"/>
<rect x="669.85" y="282.76" width="4.9" height="1.4" fill="#f2da2a" />
<rect x="670.25" y="286.06" width="4.1" height="3.48" fill="none" stroke="#ece040" stroke-width="0.95"/>
<rect x="669.85" y="288.53" width="4.9" height="1.4" fill="#f2da2a" />
<rect x="670.25" y="291.83" width="4.1" height="2.45" fill="none" stroke="#ece040" stroke-width="0.95"/>
<rect x="669.85" y="293.28" width="4.9" height="1.4" fill="#f2da2a" />
<rect x="670.25" y="296.58" width="4.1" height="3.58" fill="none" stroke="#ece040" stroke-width="0.95"/>
<rect x="669.85" y="299.16" width="4.9" height="1.4" fill="#f2da2a" />
<rect x="670.25" y="302.46" width="4.1" height="3.89" fill="none" stroke="#ece040" stroke-width="0.95"/>
<rect x="669.85" y="305.35" width="4.9" height="1.4" fill="#f2da2a" />
<rect x="670.25" y="308.65" width="4.1" height="3.27" fill="none" stroke="#ece040" stroke-width="0.95"/>
<rect x="669.85" y="310.92" width="4.9" height="1.4" fill="#f2da2a" />
<rect x="670.25" y="314.22" width="4.1" height="6.47" fill="none" stroke="#ece040" stroke-width="0.95"/>
<rect x="669.85" y="319.69" width="4.9" height="1.4" fill="#f2da2a" />
<rect x="676.65" y="271.31" width="4.2" height="6.36" fill="none" stroke="#ece040" stroke-width="0.95"/>
<rect x="676.25" y="276.67" width="5" height="1.4" fill="#f2da2a" />
<rect x="676.65" y="279.97" width="4.2" height="3.79" fill="none" stroke="#ece040" stroke-width="0.95"/>
<rect x="676.25" y="282.76" width="5" height="1.4" fill="#f2da2a" />
<rect x="676.65" y="286.06" width="4.2" height="3.48" fill="none" stroke="#ece040" stroke-width="0.95"/>
<rect x="676.25" y="288.53" width="5" height="1.4" fill="#f2da2a" />
<rect x="676.65" y="291.83" width="4.2" height="2.45" fill="none" stroke="#ece040" stroke-width="0.95"/>
<rect x="676.25" y="293.28" width="5" height="1.4" fill="#f2da2a" />
<rect x="676.65" y="296.58" width="4.2" height="3.58" fill="none" stroke="#ece040" stroke-width="0.95"/>
<rect x="676.25" y="299.16" width="5" height="1.4" fill="#f2da2a" />
<rect x="676.65" y="302.46" width="4.2" height="3.89" fill="none" stroke="#ece040" stroke-width="0.95"/>
<rect x="676.25" y="305.35" width="5" height="1.4" fill="#f2da2a" />
<rect x="676.65" y="308.65" width="4.2" height="3.27" fill="none" stroke="#ece040" stroke-width="0.95"/>
<rect x="676.25" y="310.92" width="5" height="1.4" fill="#f2da2a" />
<rect x="676.65" y="314.22" width="4.2" height="6.47" fill="none" stroke="#ece040" stroke-width="0.95"/>
<rect x="676.25" y="319.69" width="5" height="1.4" fill="#f2da2a" />
<line x1="377.84" y1="295.43" x2="682.7" y2="295.43" stroke="#5e5a5a" stroke-width="2" />
<line x1="419.5" y1="263.3" x2="419.5" y2="268.3" stroke="#7080cc" stroke-width="1" />
<line x1="419.5" y1="271.16" x2="419.5" y2="276.66" stroke="#7080cc" stroke-width="1" />
<line x1="419.5" y1="314.57" x2="419.5" y2="320.57" stroke="#3a4ab0" stroke-width="1.9" />
<line x1="419.5" y1="323.34" x2="419.5" y2="329.34" stroke="#3a4ab0" stroke-width="1.9" />
<line x1="463.9" y1="263.3" x2="463.9" y2="268.3" stroke="#7080cc" stroke-width="1" />
<line x1="463.9" y1="271.16" x2="463.9" y2="276.66" stroke="#7080cc" stroke-width="1" />
<line x1="463.9" y1="314.57" x2="463.9" y2="320.57" stroke="#3a4ab0" stroke-width="1.9" />
<line x1="463.9" y1="323.34" x2="463.9" y2="329.34" stroke="#3a4ab0" stroke-width="1.9" />
<line x1="499.4" y1="263.3" x2="499.4" y2="268.3" stroke="#7080cc" stroke-width="1" />
<line x1="499.4" y1="271.16" x2="499.4" y2="276.66" stroke="#7080cc" stroke-width="1" />
<line x1="499.4" y1="314.57" x2="499.4" y2="320.57" stroke="#3a4ab0" stroke-width="1.9" />
<line x1="499.4" y1="323.34" x2="499.4" y2="329.34" stroke="#3a4ab0" stroke-width="1.9" />
<line x1="525.8" y1="263.3" x2="525.8" y2="268.3" stroke="#7080cc" stroke-width="1" />
<line x1="525.8" y1="271.16" x2="525.8" y2="276.66" stroke="#7080cc" stroke-width="1" />
<line x1="525.8" y1="314.57" x2="525.8" y2="320.57" stroke="#3a4ab0" stroke-width="1.9" />
<line x1="525.8" y1="323.34" x2="525.8" y2="329.34" stroke="#3a4ab0" stroke-width="1.9" />
<line x1="548" y1="263.3" x2="548" y2="268.3" stroke="#7080cc" stroke-width="1" />
<line x1="548" y1="271.16" x2="548" y2="276.66" stroke="#7080cc" stroke-width="1" />
<line x1="548" y1="314.57" x2="548" y2="320.57" stroke="#3a4ab0" stroke-width="1.9" />
<line x1="548" y1="323.34" x2="548" y2="329.34" stroke="#3a4ab0" stroke-width="1.9" />
<line x1="565.5" y1="262.8" x2="565.5" y2="268.8" stroke="#7080cc" stroke-width="1.3" />
<line x1="565.5" y1="322.84" x2="565.5" y2="329.34" stroke="#3a4ab0" stroke-width="2.2" />
<line x1="578.8" y1="262.8" x2="578.8" y2="268.8" stroke="#7080cc" stroke-width="1.3" />
<line x1="578.8" y1="322.84" x2="578.8" y2="329.34" stroke="#3a4ab0" stroke-width="2.2" />
<line x1="587.7" y1="262.8" x2="587.7" y2="268.8" stroke="#7080cc" stroke-width="1.3" />
<line x1="587.7" y1="322.84" x2="587.7" y2="329.34" stroke="#3a4ab0" stroke-width="2.2" />
<line x1="596.3" y1="262.8" x2="596.3" y2="268.8" stroke="#7080cc" stroke-width="1.3" />
<line x1="596.3" y1="322.84" x2="596.3" y2="329.34" stroke="#3a4ab0" stroke-width="2.2" />
<line x1="603.5" y1="262.8" x2="603.5" y2="268.8" stroke="#7080cc" stroke-width="1.3" />
<line x1="603.5" y1="322.84" x2="603.5" y2="329.34" stroke="#3a4ab0" stroke-width="2.2" />
<line x1="610.1" y1="262.8" x2="610.1" y2="268.8" stroke="#7080cc" stroke-width="1.3" />
<line x1="610.1" y1="322.84" x2="610.1" y2="329.34" stroke="#3a4ab0" stroke-width="2.2" />
<line x1="616.6" y1="262.8" x2="616.6" y2="268.8" stroke="#7080cc" stroke-width="1.3" />
<line x1="616.6" y1="322.84" x2="616.6" y2="329.34" stroke="#3a4ab0" stroke-width="2.2" />
<line x1="623.4" y1="262.8" x2="623.4" y2="268.8" stroke="#7080cc" stroke-width="1.3" />
<line x1="623.4" y1="322.84" x2="623.4" y2="329.34" stroke="#3a4ab0" stroke-width="2.2" />
<line x1="630" y1="262.8" x2="630" y2="268.8" stroke="#7080cc" stroke-width="1.3" />
<line x1="630" y1="322.84" x2="630" y2="329.34" stroke="#3a4ab0" stroke-width="2.2" />
<line x1="636.7" y1="262.8" x2="636.7" y2="268.8" stroke="#7080cc" stroke-width="1.3" />
<line x1="636.7" y1="322.84" x2="636.7" y2="329.34" stroke="#3a4ab0" stroke-width="2.2" />
<line x1="643.3" y1="262.8" x2="643.3" y2="268.8" stroke="#7080cc" stroke-width="1.3" />
<line x1="643.3" y1="322.84" x2="643.3" y2="329.34" stroke="#3a4ab0" stroke-width="2.2" />
<line x1="650" y1="262.8" x2="650" y2="268.8" stroke="#7080cc" stroke-width="1.3" />
<line x1="650" y1="322.84" x2="650" y2="329.34" stroke="#3a4ab0" stroke-width="2.2" />
<line x1="656.6" y1="262.8" x2="656.6" y2="268.8" stroke="#7080cc" stroke-width="1.3" />
<line x1="656.6" y1="322.84" x2="656.6" y2="329.34" stroke="#3a4ab0" stroke-width="2.2" />
<line x1="663.2" y1="262.8" x2="663.2" y2="268.8" stroke="#7080cc" stroke-width="1.3" />
<line x1="663.2" y1="322.84" x2="663.2" y2="329.34" stroke="#3a4ab0" stroke-width="2.2" />
<path d="M670.5,269.16 V263.3 H674.5" stroke="#7080cc" stroke-width="1.3" fill="none"/>
<path d="M670.5,322.84 V329 H674.5" stroke="#3a4ab0" stroke-width="1.3" fill="none"/>
<path d="M676.9,269.16 V263.3 H680.9" stroke="#7080cc" stroke-width="1.3" fill="none"/>
<path d="M676.9,322.84 V329 H680.9" stroke="#3a4ab0" stroke-width="1.3" fill="none"/>
<rect x="563.3" y="259.3" width="1.6" height="1.6" fill="#4656b4" />
<rect x="563.3" y="331.5" width="1.6" height="1.6" fill="#4656b4" />
<rect x="585.7" y="259.3" width="1.6" height="1.6" fill="#4656b4" />
<rect x="585.7" y="331.5" width="1.6" height="1.6" fill="#4656b4" />
<rect x="607.3" y="259.3" width="1.6" height="1.6" fill="#4656b4" />
<rect x="607.3" y="331.5" width="1.6" height="1.6" fill="#4656b4" />
<rect x="629.2" y="259.3" width="1.6" height="1.6" fill="#4656b4" />
<rect x="629.2" y="331.5" width="1.6" height="1.6" fill="#4656b4" />
<rect x="647.7" y="259.3" width="1.6" height="1.6" fill="#4656b4" />
<rect x="647.7" y="331.5" width="1.6" height="1.6" fill="#4656b4" />
<rect x="665.7" y="259.3" width="1.6" height="1.6" fill="#4656b4" />
<rect x="665.7" y="331.5" width="1.6" height="1.6" fill="#4656b4" />
<circle cx="441.5" cy="265.98" r="2.9" fill="#4a88d2"/>
<circle cx="441.5" cy="326.17" r="2.9" fill="#6cbd3c"/>
<circle cx="481.9" cy="265.98" r="2.9" fill="#4a88d2"/>
<circle cx="481.9" cy="326.17" r="2.9" fill="#6cbd3c"/>
<circle cx="511.1" cy="265.98" r="2.9" fill="#4a88d2"/>
<circle cx="511.1" cy="326.17" r="2.9" fill="#6cbd3c"/>
<circle cx="535.4" cy="265.98" r="2.9" fill="#4a88d2"/>
<circle cx="535.4" cy="326.17" r="2.9" fill="#6cbd3c"/>
<circle cx="555.5" cy="265.98" r="2.9" fill="#4a88d2"/>
<circle cx="555.5" cy="326.17" r="2.9" fill="#6cbd3c"/>
<defs>
<linearGradient id="g1" x1="0" x2="1" y1="0" y2="0"><stop offset="0" stop-color="#7acde2"/><stop offset="1" stop-color="#88d0ae"/></linearGradient>
<linearGradient id="g2" x1="0" x2="1" y1="0" y2="0"><stop offset="0" stop-color="#7ccde0"/><stop offset="1" stop-color="#82d0c6"/></linearGradient>
<linearGradient id="g3" x1="0" x2="1" y1="0" y2="0"><stop offset="0" stop-color="#7ccfe0"/><stop offset="1" stop-color="#7ecfd8"/></linearGradient>
<linearGradient id="g4" x1="0" x2="1" y1="0" y2="0"><stop offset="0" stop-color="#7ccfe0"/><stop offset="1" stop-color="#80d0e0"/></linearGradient>
<linearGradient id="g5" x1="0" x2="1" y1="0" y2="0"><stop offset="0" stop-color="#52c6f0"/><stop offset="1" stop-color="#3c9edc"/></linearGradient>
<linearGradient id="g6" x1="0" x2="1" y1="0" y2="0"><stop offset="0" stop-color="#72cee6"/><stop offset="1" stop-color="#5cc4ea"/></linearGradient>
<linearGradient id="g7" x1="0" x2="1" y1="0" y2="0"><stop offset="0" stop-color="#66cbe8"/><stop offset="1" stop-color="#50c0ec"/></linearGradient>
<linearGradient id="g8" x1="0" x2="1" y1="0" y2="0"><stop offset="0" stop-color="#4cc0ee"/><stop offset="1" stop-color="#3a9cdc"/></linearGradient>
<linearGradient id="g9" x1="0" x2="1" y1="0" y2="0"><stop offset="0" stop-color="#7acde2"/><stop offset="1" stop-color="#88d0ae"/></linearGradient>
<linearGradient id="g10" x1="0" x2="1" y1="0" y2="0"><stop offset="0" stop-color="#7ccde0"/><stop offset="1" stop-color="#82d0c6"/></linearGradient>
<linearGradient id="g11" x1="0" x2="1" y1="0" y2="0"><stop offset="0" stop-color="#7ccfe0"/><stop offset="1" stop-color="#7ecfd8"/></linearGradient>
<linearGradient id="g12" x1="0" x2="1" y1="0" y2="0"><stop offset="0" stop-color="#7ccfe0"/><stop offset="1" stop-color="#80d0e0"/></linearGradient>
</defs>
<clipPath id="clip140639241011584"><polygon points="9.7,123.3 13.7,126.5 10.5,131.4 2.8,140.3 12.5,152.4 3.2,162.9 12.1,174.2 4,185.1 9.3,192 198.5,192 198.5,123.3"/></clipPath>
<g clip-path="url(#clip140639241011584)">
<rect x="2.3" y="123.3" width="7.3" height="8.27" fill="url(#g1)" />
<rect x="9.3" y="123.3" width="44.7" height="8.27" fill="url(#g1)" />
<rect x="53.7" y="123.3" width="44" height="8.27" fill="url(#g1)" />
<rect x="97.4" y="123.3" width="35.5" height="8.27" fill="url(#g2)" />
<rect x="132.6" y="123.3" width="26.4" height="8.27" fill="url(#g3)" />
<rect x="158.7" y="123.3" width="22.2" height="8.27" fill="url(#g3)" />
<rect x="180.6" y="123.3" width="17.2" height="8.27" fill="url(#g4)" />
<rect x="2.3" y="131.27" width="7.3" height="9.37" fill="#2b2c7a" />
<rect x="9.3" y="131.27" width="44.7" height="9.37" fill="#2b2c7a" />
<rect x="53.7" y="131.27" width="44" height="9.37" fill="#2b2c7a" />
<rect x="97.4" y="131.27" width="35.5" height="9.37" fill="#2b2c7a" />
<rect x="132.6" y="131.27" width="26.4" height="9.37" fill="#2b2c7a" />
<rect x="158.7" y="131.27" width="22.2" height="9.37" fill="#2b2c7a" />
<rect x="180.6" y="131.27" width="17.2" height="9.37" fill="#2b2c7a" />
<rect x="2.3" y="140.34" width="7.3" height="6.96" fill="#2b2c7a" />
<rect x="9.3" y="140.34" width="44.7" height="6.96" fill="#2b2c7a" />
<rect x="53.7" y="140.34" width="44" height="6.96" fill="#2b2c7a" />
<rect x="97.4" y="140.34" width="35.5" height="6.96" fill="#2b2c7a" />
<rect x="132.6" y="140.34" width="26.4" height="6.96" fill="#2b2c7a" />
<rect x="158.7" y="140.34" width="22.2" height="6.96" fill="#2b2c7a" />
<rect x="180.6" y="140.34" width="17.2" height="6.96" fill="#2b2c7a" />
<rect x="2.3" y="147" width="7.3" height="5.59" fill="url(#g5)" />
<rect x="9.3" y="147" width="44.7" height="5.59" fill="url(#g5)" />
<rect x="53.7" y="147" width="44" height="5.59" fill="url(#g5)" />
<rect x="97.4" y="147" width="35.5" height="5.59" fill="url(#g5)" />
<rect x="132.6" y="147" width="26.4" height="5.59" fill="url(#g5)" />
<rect x="158.7" y="147" width="22.2" height="5.59" fill="url(#g5)" />
<rect x="180.6" y="147" width="17.2" height="5.59" fill="url(#g5)" />
<rect x="2.3" y="152.29" width="7.3" height="5.11" fill="url(#g6)" />
<rect x="9.3" y="152.29" width="44.7" height="5.11" fill="url(#g6)" />
<rect x="53.7" y="152.29" width="44" height="5.11" fill="url(#g6)" />
<rect x="97.4" y="152.29" width="35.5" height="5.11" fill="url(#g6)" />
<rect x="132.6" y="152.29" width="26.4" height="5.11" fill="url(#g6)" />
<rect x="158.7" y="152.29" width="22.2" height="5.11" fill="url(#g6)" />
<rect x="180.6" y="152.29" width="17.2" height="5.11" fill="url(#g6)" />
<rect x="2.3" y="157.1" width="7.3" height="5.38" fill="url(#g7)" />
<rect x="9.3" y="157.1" width="44.7" height="5.38" fill="url(#g7)" />
<rect x="53.7" y="157.1" width="44" height="5.38" fill="url(#g7)" />
<rect x="97.4" y="157.1" width="35.5" height="5.38" fill="url(#g7)" />
<rect x="132.6" y="157.1" width="26.4" height="5.38" fill="url(#g7)" />
<rect x="158.7" y="157.1" width="22.2" height="5.38" fill="url(#g7)" />
<rect x="180.6" y="157.1" width="17.2" height="5.38" fill="url(#g7)" />
<rect x="2.3" y="162.18" width="7.3" height="6.14" fill="url(#g8)" />
<rect x="9.3" y="162.18" width="44.7" height="6.14" fill="url(#g8)" />
<rect x="53.7" y="162.18" width="44" height="6.14" fill="url(#g8)" />
<rect x="97.4" y="162.18" width="35.5" height="6.14" fill="url(#g8)" />
<rect x="132.6" y="162.18" width="26.4" height="6.14" fill="url(#g8)" />
<rect x="158.7" y="162.18" width="22.2" height="6.14" fill="url(#g8)" />
<rect x="180.6" y="162.18" width="17.2" height="6.14" fill="url(#g8)" />
<rect x="2.3" y="168.02" width="7.3" height="6.76" fill="#2b2c7a" />
<rect x="9.3" y="168.02" width="44.7" height="6.76" fill="#2b2c7a" />
<rect x="53.7" y="168.02" width="44" height="6.76" fill="#2b2c7a" />
<rect x="97.4" y="168.02" width="35.5" height="6.76" fill="#2b2c7a" />
<rect x="132.6" y="168.02" width="26.4" height="6.76" fill="#2b2c7a" />
<rect x="158.7" y="168.02" width="22.2" height="6.76" fill="#2b2c7a" />
<rect x="180.6" y="168.02" width="17.2" height="6.76" fill="#2b2c7a" />
<rect x="2.3" y="174.48" width="7.3" height="9.02" fill="#2b2c7a" />
<rect x="9.3" y="174.48" width="44.7" height="9.02" fill="#2b2c7a" />
<rect x="53.7" y="174.48" width="44" height="9.02" fill="#2b2c7a" />
<rect x="97.4" y="174.48" width="35.5" height="9.02" fill="#2b2c7a" />
<rect x="132.6" y="174.48" width="26.4" height="9.02" fill="#2b2c7a" />
<rect x="158.7" y="174.48" width="22.2" height="9.02" fill="#2b2c7a" />
<rect x="180.6" y="174.48" width="17.2" height="9.02" fill="#2b2c7a" />
<rect x="2.3" y="183.21" width="7.3" height="9.09" fill="url(#g9)" />
<rect x="9.3" y="183.21" width="44.7" height="9.09" fill="url(#g9)" />
<rect x="53.7" y="183.21" width="44" height="9.09" fill="url(#g9)" />
<rect x="97.4" y="183.21" width="35.5" height="9.09" fill="url(#g10)" />
<rect x="132.6" y="183.21" width="26.4" height="9.09" fill="url(#g11)" />
<rect x="158.7" y="183.21" width="22.2" height="9.09" fill="url(#g11)" />
<rect x="180.6" y="183.21" width="17.2" height="9.09" fill="url(#g12)" />
<line x1="0" y1="131.27" x2="197.5" y2="131.27" stroke="#18182c" stroke-width="1" />
<line x1="0" y1="140.34" x2="197.5" y2="140.34" stroke="#18182c" stroke-width="1" />
<line x1="0" y1="147" x2="197.5" y2="147" stroke="#18182c" stroke-width="1" />
<line x1="0" y1="152.29" x2="197.5" y2="152.29" stroke="#18182c" stroke-width="1" />
<line x1="0" y1="157.1" x2="197.5" y2="157.1" stroke="#18182c" stroke-width="1" />
<line x1="0" y1="162.18" x2="197.5" y2="162.18" stroke="#18182c" stroke-width="1" />
<line x1="0" y1="168.02" x2="197.5" y2="168.02" stroke="#18182c" stroke-width="1" />
<line x1="0" y1="174.48" x2="197.5" y2="174.48" stroke="#18182c" stroke-width="1" />
<line x1="0" y1="183.21" x2="197.5" y2="183.21" stroke="#18182c" stroke-width="1" />
<line x1="9.3" y1="123.3" x2="9.3" y2="192" stroke="#111" stroke-width="1" />
<line x1="53.7" y1="123.3" x2="53.7" y2="192" stroke="#111" stroke-width="1" />
<line x1="97.4" y1="123.3" x2="97.4" y2="192" stroke="#111" stroke-width="1" />
<line x1="132.6" y1="123.3" x2="132.6" y2="192" stroke="#111" stroke-width="1.6" />
<line x1="158.7" y1="123.3" x2="158.7" y2="192" stroke="#111" stroke-width="1" />
<line x1="180.6" y1="123.3" x2="180.6" y2="192" stroke="#111" stroke-width="1" />
</g>
<polyline points="9.7,123.3 197.5,123.3" fill="none" stroke="#555" stroke-width="0.6"/>
<line x1="9.7" y1="123.3" x2="197.5" y2="123.3" stroke="#666" stroke-width="0.8" />
<line x1="9.3" y1="192" x2="197.5" y2="192" stroke="#666" stroke-width="0.8" />
<rect x="197.5" y="123.3" width="13.92" height="8.17" fill="#32409c" />
<rect x="211.22" y="123.3" width="9.01" height="8.17" fill="#2e3890" />
<rect x="220.04" y="123.3" width="9.32" height="8.17" fill="#2a2e82" />
<rect x="229.15" y="123.3" width="6.41" height="8.17" fill="#2a2e82" />
<rect x="235.36" y="123.3" width="6.81" height="8.17" fill="#2a2e82" />
<rect x="241.98" y="123.3" width="6.91" height="8.17" fill="#2a2e82" />
<rect x="248.69" y="123.3" width="6.61" height="8.17" fill="#2a2e82" />
<rect x="255.1" y="123.3" width="7.51" height="8.17" fill="#2a2e82" />
<rect x="262.41" y="123.3" width="6.61" height="8.17" fill="#2a2e82" />
<rect x="268.82" y="123.3" width="7.11" height="8.17" fill="#2a2e82" />
<rect x="275.73" y="123.3" width="6.61" height="8.17" fill="#2a2e82" />
<rect x="282.14" y="123.3" width="7.01" height="8.17" fill="#2a2e82" />
<rect x="288.96" y="123.3" width="6.91" height="8.17" fill="#2a2e82" />
<rect x="295.67" y="123.3" width="6.61" height="8.17" fill="#2a2e82" />
<rect x="302.08" y="123.3" width="6.61" height="8.17" fill="#3a50b0" />
<rect x="308.49" y="123.3" width="6.81" height="8.17" fill="#3a50b0" />
<rect x="197.5" y="131.27" width="13.92" height="9.27" fill="#32409c" />
<rect x="211.22" y="131.27" width="9.01" height="9.27" fill="#2e3890" />
<rect x="220.04" y="131.27" width="9.32" height="9.27" fill="#2a2e82" />
<rect x="229.15" y="131.27" width="6.41" height="9.27" fill="#2a2e82" />
<rect x="235.36" y="131.27" width="6.81" height="9.27" fill="#2a2e82" />
<rect x="241.98" y="131.27" width="6.91" height="9.27" fill="#2a2e82" />
<rect x="248.69" y="131.27" width="6.61" height="9.27" fill="#2a2e82" />
<rect x="255.1" y="131.27" width="7.51" height="9.27" fill="#2a2e82" />
<rect x="262.41" y="131.27" width="6.61" height="9.27" fill="#2a2e82" />
<rect x="268.82" y="131.27" width="7.11" height="9.27" fill="#2a2e82" />
<rect x="275.73" y="131.27" width="6.61" height="9.27" fill="#2a2e82" />
<rect x="282.14" y="131.27" width="7.01" height="9.27" fill="#2a2e82" />
<rect x="288.96" y="131.27" width="6.91" height="9.27" fill="#2a2e82" />
<rect x="295.67" y="131.27" width="6.61" height="9.27" fill="#2a2e82" />
<rect x="302.08" y="131.27" width="6.61" height="9.27" fill="#3a50b0" />
<rect x="308.49" y="131.27" width="6.81" height="9.27" fill="#3a50b0" />
<rect x="197.5" y="140.34" width="13.92" height="6.86" fill="#32409c" />
<rect x="211.22" y="140.34" width="9.01" height="6.86" fill="#2e3890" />
<rect x="220.04" y="140.34" width="9.32" height="6.86" fill="#2a2e82" />
<rect x="229.15" y="140.34" width="6.41" height="6.86" fill="#2a2e82" />
<rect x="235.36" y="140.34" width="6.81" height="6.86" fill="#2a2e82" />
<rect x="241.98" y="140.34" width="6.91" height="6.86" fill="#2a2e82" />
<rect x="248.69" y="140.34" width="6.61" height="6.86" fill="#2a2e82" />
<rect x="255.1" y="140.34" width="7.51" height="6.86" fill="#2a2e82" />
<rect x="262.41" y="140.34" width="6.61" height="6.86" fill="#2a2e82" />
<rect x="268.82" y="140.34" width="7.11" height="6.86" fill="#2a2e82" />
<rect x="275.73" y="140.34" width="6.61" height="6.86" fill="#2a2e82" />
<rect x="282.14" y="140.34" width="7.01" height="6.86" fill="#2a2e82" />
<rect x="288.96" y="140.34" width="6.91" height="6.86" fill="#2a2e82" />
<rect x="295.67" y="140.34" width="6.61" height="6.86" fill="#2a2e82" />
<rect x="302.08" y="140.34" width="6.61" height="6.86" fill="#3a50b0" />
<rect x="308.49" y="140.34" width="6.81" height="6.86" fill="#3a50b0" />
<rect x="197.5" y="147" width="13.92" height="5.49" fill="#50b0e6" />
<rect x="211.22" y="147" width="9.01" height="5.49" fill="#4480cc" />
<rect x="220.04" y="147" width="9.32" height="5.49" fill="#3e6cc2" />
<rect x="229.15" y="147" width="6.41" height="5.49" fill="#3a56b2" />
<rect x="235.36" y="147" width="6.81" height="5.49" fill="#50b4ea" />
<rect x="241.98" y="147" width="6.91" height="5.49" fill="#50b4ea" />
<rect x="248.69" y="147" width="6.61" height="5.49" fill="#50b4ea" />
<rect x="255.1" y="147" width="7.51" height="5.49" fill="#50b4ea" />
<rect x="262.41" y="147" width="6.61" height="5.49" fill="#50b4ea" />
<rect x="268.82" y="147" width="7.11" height="5.49" fill="#50b4ea" />
<rect x="275.73" y="147" width="6.61" height="5.49" fill="#50b4ea" />
<rect x="282.14" y="147" width="7.01" height="5.49" fill="#50b4ea" />
<rect x="288.96" y="147" width="6.91" height="5.49" fill="#50b4ea" />
<rect x="295.67" y="147" width="6.61" height="5.49" fill="#f6c21c" />
<rect x="302.08" y="147" width="6.61" height="5.49" fill="#3a50b0" />
<rect x="308.49" y="147" width="6.81" height="5.49" fill="#3a50b0" />
<rect x="197.5" y="152.29" width="13.92" height="5.01" fill="#58c4f0" />
<rect x="211.22" y="152.29" width="9.01" height="5.01" fill="#4480cc" />
<rect x="220.04" y="152.29" width="9.32" height="5.01" fill="#3e6cc2" />
<rect x="229.15" y="152.29" width="6.41" height="5.01" fill="#3a56b2" />
<rect x="235.36" y="152.29" width="6.81" height="5.01" fill="#4a98dc" />
<rect x="241.98" y="152.29" width="6.91" height="5.01" fill="#4a98dc" />
<rect x="248.69" y="152.29" width="6.61" height="5.01" fill="#4a98dc" />
<rect x="255.1" y="152.29" width="7.51" height="5.01" fill="#4a98dc" />
<rect x="262.41" y="152.29" width="6.61" height="5.01" fill="#4a98dc" />
<rect x="268.82" y="152.29" width="7.11" height="5.01" fill="#4a98dc" />
<rect x="275.73" y="152.29" width="6.61" height="5.01" fill="#4a98dc" />
<rect x="282.14" y="152.29" width="7.01" height="5.01" fill="#4a98dc" />
<rect x="288.96" y="152.29" width="6.91" height="5.01" fill="#4a98dc" />
<rect x="295.67" y="152.29" width="6.61" height="5.01" fill="#f0a01c" />
<rect x="302.08" y="152.29" width="6.61" height="5.01" fill="#3a50b0" />
<rect x="308.49" y="152.29" width="6.81" height="5.01" fill="#3a50b0" />
<rect x="197.5" y="157.1" width="13.92" height="5.28" fill="#58c4f0" />
<rect x="211.22" y="157.1" width="9.01" height="5.28" fill="#4480cc" />
<rect x="220.04" y="157.1" width="9.32" height="5.28" fill="#3e6cc2" />
<rect x="229.15" y="157.1" width="6.41" height="5.28" fill="#3a56b2" />
<rect x="235.36" y="157.1" width="6.81" height="5.28" fill="#4a98dc" />
<rect x="241.98" y="157.1" width="6.91" height="5.28" fill="#4a98dc" />
<rect x="248.69" y="157.1" width="6.61" height="5.28" fill="#4a98dc" />
<rect x="255.1" y="157.1" width="7.51" height="5.28" fill="#4a98dc" />
<rect x="262.41" y="157.1" width="6.61" height="5.28" fill="#4a98dc" />
<rect x="268.82" y="157.1" width="7.11" height="5.28" fill="#4a98dc" />
<rect x="275.73" y="157.1" width="6.61" height="5.28" fill="#4a98dc" />
<rect x="282.14" y="157.1" width="7.01" height="5.28" fill="#4a98dc" />
<rect x="288.96" y="157.1" width="6.91" height="5.28" fill="#4a98dc" />
<rect x="295.67" y="157.1" width="6.61" height="5.28" fill="#f0a01c" />
<rect x="302.08" y="157.1" width="6.61" height="5.28" fill="#3a50b0" />
<rect x="308.49" y="157.1" width="6.81" height="5.28" fill="#3a50b0" />
<rect x="197.5" y="162.18" width="13.92" height="6.04" fill="#50b0e6" />
<rect x="211.22" y="162.18" width="9.01" height="6.04" fill="#4480cc" />
<rect x="220.04" y="162.18" width="9.32" height="6.04" fill="#3e6cc2" />
<rect x="229.15" y="162.18" width="6.41" height="6.04" fill="#3a56b2" />
<rect x="235.36" y="162.18" width="6.81" height="6.04" fill="#50b4ea" />
<rect x="241.98" y="162.18" width="6.91" height="6.04" fill="#50b4ea" />
<rect x="248.69" y="162.18" width="6.61" height="6.04" fill="#50b4ea" />
<rect x="255.1" y="162.18" width="7.51" height="6.04" fill="#50b4ea" />
<rect x="262.41" y="162.18" width="6.61" height="6.04" fill="#50b4ea" />
<rect x="268.82" y="162.18" width="7.11" height="6.04" fill="#50b4ea" />
<rect x="275.73" y="162.18" width="6.61" height="6.04" fill="#50b4ea" />
<rect x="282.14" y="162.18" width="7.01" height="6.04" fill="#50b4ea" />
<rect x="288.96" y="162.18" width="6.91" height="6.04" fill="#50b4ea" />
<rect x="295.67" y="162.18" width="6.61" height="6.04" fill="#f6c21c" />
<rect x="302.08" y="162.18" width="6.61" height="6.04" fill="#3a50b0" />
<rect x="308.49" y="162.18" width="6.81" height="6.04" fill="#3a50b0" />
<rect x="197.5" y="168.02" width="13.92" height="6.66" fill="#32409c" />
<rect x="211.22" y="168.02" width="9.01" height="6.66" fill="#2e3890" />
<rect x="220.04" y="168.02" width="9.32" height="6.66" fill="#2a2e82" />
<rect x="229.15" y="168.02" width="6.41" height="6.66" fill="#2a2e82" />
<rect x="235.36" y="168.02" width="6.81" height="6.66" fill="#2a2e82" />
<rect x="241.98" y="168.02" width="6.91" height="6.66" fill="#2a2e82" />
<rect x="248.69" y="168.02" width="6.61" height="6.66" fill="#2a2e82" />
<rect x="255.1" y="168.02" width="7.51" height="6.66" fill="#2a2e82" />
<rect x="262.41" y="168.02" width="6.61" height="6.66" fill="#2a2e82" />
<rect x="268.82" y="168.02" width="7.11" height="6.66" fill="#2a2e82" />
<rect x="275.73" y="168.02" width="6.61" height="6.66" fill="#2a2e82" />
<rect x="282.14" y="168.02" width="7.01" height="6.66" fill="#2a2e82" />
<rect x="288.96" y="168.02" width="6.91" height="6.66" fill="#2a2e82" />
<rect x="295.67" y="168.02" width="6.61" height="6.66" fill="#2a2e82" />
<rect x="302.08" y="168.02" width="6.61" height="6.66" fill="#3a50b0" />
<rect x="308.49" y="168.02" width="6.81" height="6.66" fill="#3a50b0" />
<rect x="197.5" y="174.48" width="13.92" height="8.92" fill="#32409c" />
<rect x="211.22" y="174.48" width="9.01" height="8.92" fill="#2e3890" />
<rect x="220.04" y="174.48" width="9.32" height="8.92" fill="#2a2e82" />
<rect x="229.15" y="174.48" width="6.41" height="8.92" fill="#2a2e82" />
<rect x="235.36" y="174.48" width="6.81" height="8.92" fill="#2a2e82" />
<rect x="241.98" y="174.48" width="6.91" height="8.92" fill="#2a2e82" />
<rect x="248.69" y="174.48" width="6.61" height="8.92" fill="#2a2e82" />
<rect x="255.1" y="174.48" width="7.51" height="8.92" fill="#2a2e82" />
<rect x="262.41" y="174.48" width="6.61" height="8.92" fill="#2a2e82" />
<rect x="268.82" y="174.48" width="7.11" height="8.92" fill="#2a2e82" />
<rect x="275.73" y="174.48" width="6.61" height="8.92" fill="#2a2e82" />
<rect x="282.14" y="174.48" width="7.01" height="8.92" fill="#2a2e82" />
<rect x="288.96" y="174.48" width="6.91" height="8.92" fill="#2a2e82" />
<rect x="295.67" y="174.48" width="6.61" height="8.92" fill="#2a2e82" />
<rect x="302.08" y="174.48" width="6.61" height="8.92" fill="#3a50b0" />
<rect x="308.49" y="174.48" width="6.81" height="8.92" fill="#3a50b0" />
<rect x="197.5" y="183.21" width="13.92" height="8.99" fill="#32409c" />
<rect x="211.22" y="183.21" width="9.01" height="8.99" fill="#2e3890" />
<rect x="220.04" y="183.21" width="9.32" height="8.99" fill="#2a2e82" />
<rect x="229.15" y="183.21" width="6.41" height="8.99" fill="#2a2e82" />
<rect x="235.36" y="183.21" width="6.81" height="8.99" fill="#2a2e82" />
<rect x="241.98" y="183.21" width="6.91" height="8.99" fill="#2a2e82" />
<rect x="248.69" y="183.21" width="6.61" height="8.99" fill="#2a2e82" />
<rect x="255.1" y="183.21" width="7.51" height="8.99" fill="#2a2e82" />
<rect x="262.41" y="183.21" width="6.61" height="8.99" fill="#2a2e82" />
<rect x="268.82" y="183.21" width="7.11" height="8.99" fill="#2a2e82" />
<rect x="275.73" y="183.21" width="6.61" height="8.99" fill="#2a2e82" />
<rect x="282.14" y="183.21" width="7.01" height="8.99" fill="#2a2e82" />
<rect x="288.96" y="183.21" width="6.91" height="8.99" fill="#2a2e82" />
<rect x="295.67" y="183.21" width="6.61" height="8.99" fill="#2a2e82" />
<rect x="302.08" y="183.21" width="6.61" height="8.99" fill="#3a50b0" />
<rect x="308.49" y="183.21" width="6.81" height="8.99" fill="#3a50b0" />
<line x1="197.5" y1="131.27" x2="315.1" y2="131.27" stroke="#16162e" stroke-width="0.9" />
<line x1="197.5" y1="140.34" x2="315.1" y2="140.34" stroke="#16162e" stroke-width="0.9" />
<line x1="197.5" y1="147" x2="315.1" y2="147" stroke="#16162e" stroke-width="0.9" />
<line x1="197.5" y1="152.29" x2="315.1" y2="152.29" stroke="#16162e" stroke-width="0.9" />
<line x1="197.5" y1="157.1" x2="315.1" y2="157.1" stroke="#16162e" stroke-width="1.3" />
<line x1="197.5" y1="162.18" x2="315.1" y2="162.18" stroke="#16162e" stroke-width="0.9" />
<line x1="197.5" y1="168.02" x2="315.1" y2="168.02" stroke="#16162e" stroke-width="0.9" />
<line x1="197.5" y1="174.48" x2="315.1" y2="174.48" stroke="#16162e" stroke-width="0.9" />
<line x1="197.5" y1="183.21" x2="315.1" y2="183.21" stroke="#16162e" stroke-width="0.9" />
<line x1="211.22" y1="123.3" x2="211.22" y2="192" stroke="#16162e" stroke-width="0.8" />
<line x1="220.04" y1="123.3" x2="220.04" y2="192" stroke="#16162e" stroke-width="1.2" />
<line x1="229.15" y1="123.3" x2="229.15" y2="192" stroke="#16162e" stroke-width="0.8" />
<line x1="235.36" y1="123.3" x2="235.36" y2="192" stroke="#16162e" stroke-width="0.8" />
<line x1="241.98" y1="123.3" x2="241.98" y2="192" stroke="#16162e" stroke-width="0.8" />
<line x1="248.69" y1="123.3" x2="248.69" y2="192" stroke="#16162e" stroke-width="0.8" />
<line x1="255.1" y1="123.3" x2="255.1" y2="192" stroke="#16162e" stroke-width="0.8" />
<line x1="262.41" y1="123.3" x2="262.41" y2="192" stroke="#16162e" stroke-width="1.2" />
<line x1="268.82" y1="123.3" x2="268.82" y2="192" stroke="#16162e" stroke-width="0.8" />
<line x1="275.73" y1="123.3" x2="275.73" y2="192" stroke="#16162e" stroke-width="0.8" />
<line x1="282.14" y1="123.3" x2="282.14" y2="192" stroke="#16162e" stroke-width="0.8" />
<line x1="288.96" y1="123.3" x2="288.96" y2="192" stroke="#16162e" stroke-width="0.8" />
<line x1="295.67" y1="123.3" x2="295.67" y2="192" stroke="#16162e" stroke-width="0.8" />
<line x1="302.08" y1="123.3" x2="302.08" y2="192" stroke="#16162e" stroke-width="1.2" />
<line x1="308.49" y1="123.3" x2="308.49" y2="192" stroke="#16162e" stroke-width="0.8" />
<line x1="197.5" y1="119.1" x2="197.5" y2="196.2" stroke="#222" stroke-width="0.8" />
<line x1="315.1" y1="119.1" x2="315.1" y2="196.2" stroke="#444" stroke-width="0.8" />
<rect x="197.5" y="119.2" width="20.74" height="4.1" fill="#a8161c" stroke="#3a2020" stroke-width="0.5"/>
<rect x="197.5" y="192" width="20.74" height="4.1" fill="#a8161c" stroke="#3a2020" stroke-width="0.5"/>
<rect x="218.24" y="119.2" width="22.24" height="4.1" fill="#e4161e" stroke="#3a2020" stroke-width="0.5"/>
<rect x="218.24" y="192" width="22.24" height="4.1" fill="#e4161e" stroke="#3a2020" stroke-width="0.5"/>
<rect x="240.47" y="119.2" width="21.64" height="4.1" fill="#f28c14" stroke="#3a2020" stroke-width="0.5"/>
<rect x="240.47" y="192" width="21.64" height="4.1" fill="#f28c14" stroke="#3a2020" stroke-width="0.5"/>
<rect x="262.11" y="119.2" width="18.23" height="4.1" fill="#f4a014" stroke="#3a2020" stroke-width="0.5"/>
<rect x="262.11" y="192" width="18.23" height="4.1" fill="#f4a014" stroke="#3a2020" stroke-width="0.5"/>
<rect x="280.34" y="119.2" width="18.23" height="4.1" fill="#f4aa16" stroke="#3a2020" stroke-width="0.5"/>
<rect x="280.34" y="192" width="18.23" height="4.1" fill="#f4aa16" stroke="#3a2020" stroke-width="0.5"/>
<rect x="298.57" y="119.2" width="16.53" height="4.1" fill="#f6b818" stroke="#3a2020" stroke-width="0.5"/>
<rect x="298.57" y="192" width="16.53" height="4.1" fill="#f6b818" stroke="#3a2020" stroke-width="0.5"/>
<defs>
<linearGradient id="g13" x1="0" x2="1" y1="0" y2="0"><stop offset="0" stop-color="#6ac8e0"/><stop offset="1" stop-color="#78ccc0"/></linearGradient>
<linearGradient id="g14" x1="0" x2="1" y1="0" y2="0"><stop offset="0" stop-color="#3f7fd0"/><stop offset="1" stop-color="#4a8ad6"/></linearGradient>
<linearGradient id="g15" x1="0" x2="1" y1="0" y2="0"><stop offset="0" stop-color="#50a8e2"/><stop offset="1" stop-color="#4aa0e0"/></linearGradient>
<linearGradient id="g16" x1="0" x2="1" y1="0" y2="0"><stop offset="0" stop-color="#4aa0e0"/><stop offset="1" stop-color="#4c98dc"/></linearGradient>
<linearGradient id="g17" x1="0" x2="1" y1="0" y2="0"><stop offset="0" stop-color="#3f7fd0"/><stop offset="1" stop-color="#4a88d4"/></linearGradient>
<linearGradient id="g18" x1="0" x2="1" y1="0" y2="0"><stop offset="0" stop-color="#3a70c8"/><stop offset="1" stop-color="#3f6cc4"/></linearGradient>
</defs>
<clipPath id="clip140639241012800"><polygon points="378.3,121.3 372.3,130.6 377.9,141.5 371.9,151.6 377.9,161.3 371.9,172.6 378.7,185.1 372.3,192.1 562.4,192.1 562.4,121.3"/></clipPath>
<g clip-path="url(#clip140639241012800)">
<rect x="371.4" y="121.3" width="42.4" height="9.36" fill="url(#g13)" />
<rect x="413.5" y="121.3" width="45.6" height="9.36" fill="url(#g13)" />
<rect x="458.8" y="121.3" width="36" height="9.36" fill="url(#g13)" />
<rect x="494.5" y="121.3" width="27.2" height="9.36" fill="url(#g13)" />
<rect x="521.4" y="121.3" width="22.4" height="9.36" fill="url(#g13)" />
<rect x="543.5" y="121.3" width="18.2" height="9.36" fill="url(#g13)" />
<rect x="371.4" y="130.36" width="42.4" height="9.5" fill="#2b2c7a" />
<rect x="413.5" y="130.36" width="45.6" height="9.5" fill="#2b2c7a" />
<rect x="458.8" y="130.36" width="36" height="9.5" fill="#2b2c7a" />
<rect x="494.5" y="130.36" width="27.2" height="9.5" fill="#2b2c7a" />
<rect x="521.4" y="130.36" width="22.4" height="9.5" fill="#2b2c7a" />
<rect x="543.5" y="130.36" width="18.2" height="9.5" fill="#2b2c7a" />
<rect x="371.4" y="139.57" width="42.4" height="6.6" fill="#2b2c7a" />
<rect x="413.5" y="139.57" width="45.6" height="6.6" fill="#2b2c7a" />
<rect x="458.8" y="139.57" width="36" height="6.6" fill="#2b2c7a" />
<rect x="494.5" y="139.57" width="27.2" height="6.6" fill="#2b2c7a" />
<rect x="521.4" y="139.57" width="22.4" height="6.6" fill="#2b2c7a" />
<rect x="543.5" y="139.57" width="18.2" height="6.6" fill="#2b2c7a" />
<rect x="371.4" y="145.87" width="42.4" height="6.32" fill="url(#g14)" />
<rect x="413.5" y="145.87" width="45.6" height="6.32" fill="url(#g14)" />
<rect x="458.8" y="145.87" width="36" height="6.32" fill="url(#g14)" />
<rect x="494.5" y="145.87" width="27.2" height="6.32" fill="url(#g14)" />
<rect x="521.4" y="145.87" width="22.4" height="6.32" fill="url(#g14)" />
<rect x="543.5" y="145.87" width="18.2" height="6.32" fill="url(#g14)" />
<rect x="371.4" y="151.89" width="42.4" height="4.83" fill="url(#g15)" />
<rect x="413.5" y="151.89" width="45.6" height="4.83" fill="url(#g15)" />
<rect x="458.8" y="151.89" width="36" height="4.83" fill="url(#g15)" />
<rect x="494.5" y="151.89" width="27.2" height="4.83" fill="url(#g15)" />
<rect x="521.4" y="151.89" width="22.4" height="4.83" fill="url(#g15)" />
<rect x="543.5" y="151.89" width="18.2" height="4.83" fill="url(#g15)" />
<rect x="371.4" y="156.42" width="42.4" height="5.4" fill="url(#g16)" />
<rect x="413.5" y="156.42" width="45.6" height="5.4" fill="url(#g16)" />
<rect x="458.8" y="156.42" width="36" height="5.4" fill="url(#g16)" />
<rect x="494.5" y="156.42" width="27.2" height="5.4" fill="url(#g16)" />
<rect x="521.4" y="156.42" width="22.4" height="5.4" fill="url(#g16)" />
<rect x="543.5" y="156.42" width="18.2" height="5.4" fill="url(#g16)" />
<rect x="371.4" y="161.51" width="42.4" height="6.32" fill="url(#g17)" />
<rect x="413.5" y="161.51" width="45.6" height="6.32" fill="url(#g17)" />
<rect x="458.8" y="161.51" width="36" height="6.32" fill="url(#g17)" />
<rect x="494.5" y="161.51" width="27.2" height="6.32" fill="url(#g17)" />
<rect x="521.4" y="161.51" width="22.4" height="6.32" fill="url(#g17)" />
<rect x="543.5" y="161.51" width="18.2" height="6.32" fill="url(#g17)" />
<rect x="371.4" y="167.53" width="42.4" height="6.88" fill="#2b2c7a" />
<rect x="413.5" y="167.53" width="45.6" height="6.88" fill="#2b2c7a" />
<rect x="458.8" y="167.53" width="36" height="6.88" fill="#2b2c7a" />
<rect x="494.5" y="167.53" width="27.2" height="6.88" fill="#2b2c7a" />
<rect x="521.4" y="167.53" width="22.4" height="6.88" fill="#2b2c7a" />
<rect x="543.5" y="167.53" width="18.2" height="6.88" fill="#2b2c7a" />
<rect x="371.4" y="174.12" width="42.4" height="9.72" fill="#2b2c7a" />
<rect x="413.5" y="174.12" width="45.6" height="9.72" fill="#2b2c7a" />
<rect x="458.8" y="174.12" width="36" height="9.72" fill="#2b2c7a" />
<rect x="494.5" y="174.12" width="27.2" height="9.72" fill="#2b2c7a" />
<rect x="521.4" y="174.12" width="22.4" height="9.72" fill="#2b2c7a" />
<rect x="543.5" y="174.12" width="18.2" height="9.72" fill="#2b2c7a" />
<rect x="371.4" y="183.53" width="42.4" height="8.87" fill="url(#g18)" />
<rect x="413.5" y="183.53" width="45.6" height="8.87" fill="url(#g18)" />
<rect x="458.8" y="183.53" width="36" height="8.87" fill="url(#g18)" />
<rect x="494.5" y="183.53" width="27.2" height="8.87" fill="url(#g18)" />
<rect x="521.4" y="183.53" width="22.4" height="8.87" fill="url(#g18)" />
<rect x="543.5" y="183.53" width="18.2" height="8.87" fill="url(#g18)" />
<line x1="0" y1="130.36" x2="561.4" y2="130.36" stroke="#18182c" stroke-width="1" />
<line x1="0" y1="139.57" x2="561.4" y2="139.57" stroke="#18182c" stroke-width="1" />
<line x1="0" y1="145.87" x2="561.4" y2="145.87" stroke="#18182c" stroke-width="1" />
<line x1="0" y1="151.89" x2="561.4" y2="151.89" stroke="#18182c" stroke-width="1" />
<line x1="0" y1="156.42" x2="561.4" y2="156.42" stroke="#18182c" stroke-width="1" />
<line x1="0" y1="161.51" x2="561.4" y2="161.51" stroke="#18182c" stroke-width="1" />
<line x1="0" y1="167.53" x2="561.4" y2="167.53" stroke="#18182c" stroke-width="1" />
<line x1="0" y1="174.12" x2="561.4" y2="174.12" stroke="#18182c" stroke-width="1" />
<line x1="0" y1="183.53" x2="561.4" y2="183.53" stroke="#18182c" stroke-width="1" />
<line x1="413.5" y1="121.3" x2="413.5" y2="192.1" stroke="#111" stroke-width="1" />
<line x1="458.8" y1="121.3" x2="458.8" y2="192.1" stroke="#111" stroke-width="1" />
<line x1="494.5" y1="121.3" x2="494.5" y2="192.1" stroke="#111" stroke-width="1.6" />
<line x1="521.4" y1="121.3" x2="521.4" y2="192.1" stroke="#111" stroke-width="1" />
<line x1="543.5" y1="121.3" x2="543.5" y2="192.1" stroke="#111" stroke-width="1" />
</g>
<polyline points="378.3,121.3 561.4,121.3" fill="none" stroke="#555" stroke-width="0.6"/>
<line x1="378.3" y1="121.3" x2="561.4" y2="121.3" stroke="#666" stroke-width="0.8" />
<line x1="372.3" y1="192.1" x2="561.4" y2="192.1" stroke="#666" stroke-width="0.8" />
<rect x="561.4" y="121.3" width="14.48" height="9.26" fill="#32409c" />
<rect x="575.68" y="121.3" width="9.37" height="9.26" fill="#2e3890" />
<rect x="584.86" y="121.3" width="9.69" height="9.26" fill="#2a2e82" />
<rect x="594.35" y="121.3" width="6.66" height="9.26" fill="#2a2e82" />
<rect x="600.81" y="121.3" width="7.08" height="9.26" fill="#2a2e82" />
<rect x="607.69" y="121.3" width="7.19" height="9.26" fill="#2a2e82" />
<rect x="614.68" y="121.3" width="6.87" height="9.26" fill="#2a2e82" />
<rect x="621.35" y="121.3" width="7.81" height="9.26" fill="#2a2e82" />
<rect x="628.96" y="121.3" width="6.87" height="9.26" fill="#2a2e82" />
<rect x="635.63" y="121.3" width="7.39" height="9.26" fill="#2a2e82" />
<rect x="642.83" y="121.3" width="6.87" height="9.26" fill="#2a2e82" />
<rect x="649.5" y="121.3" width="7.29" height="9.26" fill="#2a2e82" />
<rect x="656.59" y="121.3" width="7.19" height="9.26" fill="#2a2e82" />
<rect x="663.57" y="121.3" width="6.87" height="9.26" fill="#2a2e82" />
<rect x="670.25" y="121.3" width="6.87" height="9.26" fill="#3448a8" />
<rect x="676.92" y="121.3" width="7.08" height="9.26" fill="#3448a8" />
<rect x="561.4" y="130.36" width="14.48" height="9.4" fill="#32409c" />
<rect x="575.68" y="130.36" width="9.37" height="9.4" fill="#2e3890" />
<rect x="584.86" y="130.36" width="9.69" height="9.4" fill="#2a2e82" />
<rect x="594.35" y="130.36" width="6.66" height="9.4" fill="#2a2e82" />
<rect x="600.81" y="130.36" width="7.08" height="9.4" fill="#2a2e82" />
<rect x="607.69" y="130.36" width="7.19" height="9.4" fill="#2a2e82" />
<rect x="614.68" y="130.36" width="6.87" height="9.4" fill="#2a2e82" />
<rect x="621.35" y="130.36" width="7.81" height="9.4" fill="#2a2e82" />
<rect x="628.96" y="130.36" width="6.87" height="9.4" fill="#2a2e82" />
<rect x="635.63" y="130.36" width="7.39" height="9.4" fill="#2a2e82" />
<rect x="642.83" y="130.36" width="6.87" height="9.4" fill="#2a2e82" />
<rect x="649.5" y="130.36" width="7.29" height="9.4" fill="#2a2e82" />
<rect x="656.59" y="130.36" width="7.19" height="9.4" fill="#2a2e82" />
<rect x="663.57" y="130.36" width="6.87" height="9.4" fill="#2a2e82" />
<rect x="670.25" y="130.36" width="6.87" height="9.4" fill="#3448a8" />
<rect x="676.92" y="130.36" width="7.08" height="9.4" fill="#3448a8" />
<rect x="561.4" y="139.57" width="14.48" height="6.5" fill="#32409c" />
<rect x="575.68" y="139.57" width="9.37" height="6.5" fill="#2e3890" />
<rect x="584.86" y="139.57" width="9.69" height="6.5" fill="#2a2e82" />
<rect x="594.35" y="139.57" width="6.66" height="6.5" fill="#2a2e82" />
<rect x="600.81" y="139.57" width="7.08" height="6.5" fill="#2a2e82" />
<rect x="607.69" y="139.57" width="7.19" height="6.5" fill="#2a2e82" />
<rect x="614.68" y="139.57" width="6.87" height="6.5" fill="#2a2e82" />
<rect x="621.35" y="139.57" width="7.81" height="6.5" fill="#2a2e82" />
<rect x="628.96" y="139.57" width="6.87" height="6.5" fill="#2a2e82" />
<rect x="635.63" y="139.57" width="7.39" height="6.5" fill="#2a2e82" />
<rect x="642.83" y="139.57" width="6.87" height="6.5" fill="#2a2e82" />
<rect x="649.5" y="139.57" width="7.29" height="6.5" fill="#2a2e82" />
<rect x="656.59" y="139.57" width="7.19" height="6.5" fill="#2a2e82" />
<rect x="663.57" y="139.57" width="6.87" height="6.5" fill="#2a2e82" />
<rect x="670.25" y="139.57" width="6.87" height="6.5" fill="#3448a8" />
<rect x="676.92" y="139.57" width="7.08" height="6.5" fill="#3448a8" />
<rect x="561.4" y="145.87" width="14.48" height="6.22" fill="#3c6cc0" />
<rect x="575.68" y="145.87" width="9.37" height="6.22" fill="#4070c8" />
<rect x="584.86" y="145.87" width="9.69" height="6.22" fill="#3c60c0" />
<rect x="594.35" y="145.87" width="6.66" height="6.22" fill="#3850b0" />
<rect x="600.81" y="145.87" width="7.08" height="6.22" fill="#4a78cc" />
<rect x="607.69" y="145.87" width="7.19" height="6.22" fill="#4a78cc" />
<rect x="614.68" y="145.87" width="6.87" height="6.22" fill="#4a78cc" />
<rect x="621.35" y="145.87" width="7.81" height="6.22" fill="#4a78cc" />
<rect x="628.96" y="145.87" width="6.87" height="6.22" fill="#4a78cc" />
<rect x="635.63" y="145.87" width="7.39" height="6.22" fill="#4a78cc" />
<rect x="642.83" y="145.87" width="6.87" height="6.22" fill="#4a78cc" />
<rect x="649.5" y="145.87" width="7.29" height="6.22" fill="#4a78cc" />
<rect x="656.59" y="145.87" width="7.19" height="6.22" fill="#4a78cc" />
<rect x="663.57" y="145.87" width="6.87" height="6.22" fill="#b0d860" />
<rect x="670.25" y="145.87" width="6.87" height="6.22" fill="#3448a8" />
<rect x="676.92" y="145.87" width="7.08" height="6.22" fill="#3448a8" />
<rect x="561.4" y="151.89" width="14.48" height="4.73" fill="#4080d0" />
<rect x="575.68" y="151.89" width="9.37" height="4.73" fill="#4070c8" />
<rect x="584.86" y="151.89" width="9.69" height="4.73" fill="#3c60c0" />
<rect x="594.35" y="151.89" width="6.66" height="4.73" fill="#3850b0" />
<rect x="600.81" y="151.89" width="7.08" height="4.73" fill="#3e68c0" />
<rect x="607.69" y="151.89" width="7.19" height="4.73" fill="#3e68c0" />
<rect x="614.68" y="151.89" width="6.87" height="4.73" fill="#3e68c0" />
<rect x="621.35" y="151.89" width="7.81" height="4.73" fill="#3e68c0" />
<rect x="628.96" y="151.89" width="6.87" height="4.73" fill="#3e68c0" />
<rect x="635.63" y="151.89" width="7.39" height="4.73" fill="#3e68c0" />
<rect x="642.83" y="151.89" width="6.87" height="4.73" fill="#3e68c0" />
<rect x="649.5" y="151.89" width="7.29" height="4.73" fill="#3e68c0" />
<rect x="656.59" y="151.89" width="7.19" height="4.73" fill="#3e68c0" />
<rect x="663.57" y="151.89" width="6.87" height="4.73" fill="#c8dc38" />
<rect x="670.25" y="151.89" width="6.87" height="4.73" fill="#3448a8" />
<rect x="676.92" y="151.89" width="7.08" height="4.73" fill="#3448a8" />
<rect x="561.4" y="156.42" width="14.48" height="5.3" fill="#4080d0" />
<rect x="575.68" y="156.42" width="9.37" height="5.3" fill="#4070c8" />
<rect x="584.86" y="156.42" width="9.69" height="5.3" fill="#3c60c0" />
<rect x="594.35" y="156.42" width="6.66" height="5.3" fill="#3850b0" />
<rect x="600.81" y="156.42" width="7.08" height="5.3" fill="#3e68c0" />
<rect x="607.69" y="156.42" width="7.19" height="5.3" fill="#3e68c0" />
<rect x="614.68" y="156.42" width="6.87" height="5.3" fill="#3e68c0" />
<rect x="621.35" y="156.42" width="7.81" height="5.3" fill="#3e68c0" />
<rect x="628.96" y="156.42" width="6.87" height="5.3" fill="#3e68c0" />
<rect x="635.63" y="156.42" width="7.39" height="5.3" fill="#3e68c0" />
<rect x="642.83" y="156.42" width="6.87" height="5.3" fill="#3e68c0" />
<rect x="649.5" y="156.42" width="7.29" height="5.3" fill="#3e68c0" />
<rect x="656.59" y="156.42" width="7.19" height="5.3" fill="#3e68c0" />
<rect x="663.57" y="156.42" width="6.87" height="5.3" fill="#c8dc38" />
<rect x="670.25" y="156.42" width="6.87" height="5.3" fill="#3448a8" />
<rect x="676.92" y="156.42" width="7.08" height="5.3" fill="#3448a8" />
<rect x="561.4" y="161.51" width="14.48" height="6.22" fill="#3c6cc0" />
<rect x="575.68" y="161.51" width="9.37" height="6.22" fill="#4070c8" />
<rect x="584.86" y="161.51" width="9.69" height="6.22" fill="#3c60c0" />
<rect x="594.35" y="161.51" width="6.66" height="6.22" fill="#3850b0" />
<rect x="600.81" y="161.51" width="7.08" height="6.22" fill="#4a78cc" />
<rect x="607.69" y="161.51" width="7.19" height="6.22" fill="#4a78cc" />
<rect x="614.68" y="161.51" width="6.87" height="6.22" fill="#4a78cc" />
<rect x="621.35" y="161.51" width="7.81" height="6.22" fill="#4a78cc" />
<rect x="628.96" y="161.51" width="6.87" height="6.22" fill="#4a78cc" />
<rect x="635.63" y="161.51" width="7.39" height="6.22" fill="#4a78cc" />
<rect x="642.83" y="161.51" width="6.87" height="6.22" fill="#4a78cc" />
<rect x="649.5" y="161.51" width="7.29" height="6.22" fill="#4a78cc" />
<rect x="656.59" y="161.51" width="7.19" height="6.22" fill="#4a78cc" />
<rect x="663.57" y="161.51" width="6.87" height="6.22" fill="#b0d860" />
<rect x="670.25" y="161.51" width="6.87" height="6.22" fill="#3448a8" />
<rect x="676.92" y="161.51" width="7.08" height="6.22" fill="#3448a8" />
<rect x="561.4" y="167.53" width="14.48" height="6.78" fill="#32409c" />
<rect x="575.68" y="167.53" width="9.37" height="6.78" fill="#2e3890" />
<rect x="584.86" y="167.53" width="9.69" height="6.78" fill="#2a2e82" />
<rect x="594.35" y="167.53" width="6.66" height="6.78" fill="#2a2e82" />
<rect x="600.81" y="167.53" width="7.08" height="6.78" fill="#2a2e82" />
<rect x="607.69" y="167.53" width="7.19" height="6.78" fill="#2a2e82" />
<rect x="614.68" y="167.53" width="6.87" height="6.78" fill="#2a2e82" />
<rect x="621.35" y="167.53" width="7.81" height="6.78" fill="#2a2e82" />
<rect x="628.96" y="167.53" width="6.87" height="6.78" fill="#2a2e82" />
<rect x="635.63" y="167.53" width="7.39" height="6.78" fill="#2a2e82" />
<rect x="642.83" y="167.53" width="6.87" height="6.78" fill="#2a2e82" />
<rect x="649.5" y="167.53" width="7.29" height="6.78" fill="#2a2e82" />
<rect x="656.59" y="167.53" width="7.19" height="6.78" fill="#2a2e82" />
<rect x="663.57" y="167.53" width="6.87" height="6.78" fill="#2a2e82" />
<rect x="670.25" y="167.53" width="6.87" height="6.78" fill="#3448a8" />
<rect x="676.92" y="167.53" width="7.08" height="6.78" fill="#3448a8" />
<rect x="561.4" y="174.12" width="14.48" height="9.62" fill="#32409c" />
<rect x="575.68" y="174.12" width="9.37" height="9.62" fill="#2e3890" />
<rect x="584.86" y="174.12" width="9.69" height="9.62" fill="#2a2e82" />
<rect x="594.35" y="174.12" width="6.66" height="9.62" fill="#2a2e82" />
<rect x="600.81" y="174.12" width="7.08" height="9.62" fill="#2a2e82" />
<rect x="607.69" y="174.12" width="7.19" height="9.62" fill="#2a2e82" />
<rect x="614.68" y="174.12" width="6.87" height="9.62" fill="#2a2e82" />
<rect x="621.35" y="174.12" width="7.81" height="9.62" fill="#2a2e82" />
<rect x="628.96" y="174.12" width="6.87" height="9.62" fill="#2a2e82" />
<rect x="635.63" y="174.12" width="7.39" height="9.62" fill="#2a2e82" />
<rect x="642.83" y="174.12" width="6.87" height="9.62" fill="#2a2e82" />
<rect x="649.5" y="174.12" width="7.29" height="9.62" fill="#2a2e82" />
<rect x="656.59" y="174.12" width="7.19" height="9.62" fill="#2a2e82" />
<rect x="663.57" y="174.12" width="6.87" height="9.62" fill="#2a2e82" />
<rect x="670.25" y="174.12" width="6.87" height="9.62" fill="#3448a8" />
<rect x="676.92" y="174.12" width="7.08" height="9.62" fill="#3448a8" />
<rect x="561.4" y="183.53" width="14.48" height="8.77" fill="#32409c" />
<rect x="575.68" y="183.53" width="9.37" height="8.77" fill="#2e3890" />
<rect x="584.86" y="183.53" width="9.69" height="8.77" fill="#2a2e82" />
<rect x="594.35" y="183.53" width="6.66" height="8.77" fill="#2a2e82" />
<rect x="600.81" y="183.53" width="7.08" height="8.77" fill="#2a2e82" />
<rect x="607.69" y="183.53" width="7.19" height="8.77" fill="#2a2e82" />
<rect x="614.68" y="183.53" width="6.87" height="8.77" fill="#2a2e82" />
<rect x="621.35" y="183.53" width="7.81" height="8.77" fill="#2a2e82" />
<rect x="628.96" y="183.53" width="6.87" height="8.77" fill="#2a2e82" />
<rect x="635.63" y="183.53" width="7.39" height="8.77" fill="#2a2e82" />
<rect x="642.83" y="183.53" width="6.87" height="8.77" fill="#2a2e82" />
<rect x="649.5" y="183.53" width="7.29" height="8.77" fill="#2a2e82" />
<rect x="656.59" y="183.53" width="7.19" height="8.77" fill="#2a2e82" />
<rect x="663.57" y="183.53" width="6.87" height="8.77" fill="#2a2e82" />
<rect x="670.25" y="183.53" width="6.87" height="8.77" fill="#3448a8" />
<rect x="676.92" y="183.53" width="7.08" height="8.77" fill="#3448a8" />
<line x1="561.4" y1="130.36" x2="683.8" y2="130.36" stroke="#16162e" stroke-width="0.9" />
<line x1="561.4" y1="139.57" x2="683.8" y2="139.57" stroke="#16162e" stroke-width="0.9" />
<line x1="561.4" y1="145.87" x2="683.8" y2="145.87" stroke="#16162e" stroke-width="0.9" />
<line x1="561.4" y1="151.89" x2="683.8" y2="151.89" stroke="#16162e" stroke-width="0.9" />
<line x1="561.4" y1="156.42" x2="683.8" y2="156.42" stroke="#16162e" stroke-width="1.3" />
<line x1="561.4" y1="161.51" x2="683.8" y2="161.51" stroke="#16162e" stroke-width="0.9" />
<line x1="561.4" y1="167.53" x2="683.8" y2="167.53" stroke="#16162e" stroke-width="0.9" />
<line x1="561.4" y1="174.12" x2="683.8" y2="174.12" stroke="#16162e" stroke-width="0.9" />
<line x1="561.4" y1="183.53" x2="683.8" y2="183.53" stroke="#16162e" stroke-width="0.9" />
<line x1="575.68" y1="121.3" x2="575.68" y2="192.1" stroke="#16162e" stroke-width="0.8" />
<line x1="584.86" y1="121.3" x2="584.86" y2="192.1" stroke="#16162e" stroke-width="1.2" />
<line x1="594.35" y1="121.3" x2="594.35" y2="192.1" stroke="#16162e" stroke-width="0.8" />
<line x1="600.81" y1="121.3" x2="600.81" y2="192.1" stroke="#16162e" stroke-width="0.8" />
<line x1="607.69" y1="121.3" x2="607.69" y2="192.1" stroke="#16162e" stroke-width="0.8" />
<line x1="614.68" y1="121.3" x2="614.68" y2="192.1" stroke="#16162e" stroke-width="0.8" />
<line x1="621.35" y1="121.3" x2="621.35" y2="192.1" stroke="#16162e" stroke-width="0.8" />
<line x1="628.96" y1="121.3" x2="628.96" y2="192.1" stroke="#16162e" stroke-width="1.2" />
<line x1="635.63" y1="121.3" x2="635.63" y2="192.1" stroke="#16162e" stroke-width="0.8" />
<line x1="642.83" y1="121.3" x2="642.83" y2="192.1" stroke="#16162e" stroke-width="0.8" />
<line x1="649.5" y1="121.3" x2="649.5" y2="192.1" stroke="#16162e" stroke-width="0.8" />
<line x1="656.59" y1="121.3" x2="656.59" y2="192.1" stroke="#16162e" stroke-width="0.8" />
<line x1="663.57" y1="121.3" x2="663.57" y2="192.1" stroke="#16162e" stroke-width="0.8" />
<line x1="670.25" y1="121.3" x2="670.25" y2="192.1" stroke="#16162e" stroke-width="1.2" />
<line x1="676.92" y1="121.3" x2="676.92" y2="192.1" stroke="#16162e" stroke-width="0.8" />
<line x1="561.4" y1="117.1" x2="561.4" y2="196.3" stroke="#222" stroke-width="0.8" />
<line x1="683.8" y1="117.1" x2="683.8" y2="196.3" stroke="#444" stroke-width="0.8" />
<rect x="561.4" y="117.2" width="21.58" height="4.1" fill="#a8161c" stroke="#3a2020" stroke-width="0.5"/>
<rect x="561.4" y="192.1" width="21.58" height="4.1" fill="#b8d444" stroke="#3a2020" stroke-width="0.5"/>
<rect x="582.98" y="117.2" width="23.15" height="4.1" fill="#e4161e" stroke="#3a2020" stroke-width="0.5"/>
<rect x="582.98" y="192.1" width="23.15" height="4.1" fill="#a4d080" stroke="#3a2020" stroke-width="0.5"/>
<rect x="606.13" y="117.2" width="22.52" height="4.1" fill="#f28c14" stroke="#3a2020" stroke-width="0.5"/>
<rect x="606.13" y="192.1" width="22.52" height="4.1" fill="#80d0e0" stroke="#3a2020" stroke-width="0.5"/>
<rect x="628.65" y="117.2" width="18.98" height="4.1" fill="#f4a014" stroke="#3a2020" stroke-width="0.5"/>
<rect x="628.65" y="192.1" width="18.98" height="4.1" fill="#80d0e8" stroke="#3a2020" stroke-width="0.5"/>
<rect x="647.62" y="117.2" width="18.98" height="4.1" fill="#f4aa16" stroke="#3a2020" stroke-width="0.5"/>
<rect x="647.62" y="192.1" width="18.98" height="4.1" fill="#80d0e8" stroke="#3a2020" stroke-width="0.5"/>
<rect x="666.6" y="117.2" width="17.2" height="4.1" fill="#f6b818" stroke="#3a2020" stroke-width="0.5"/>
<rect x="666.6" y="192.1" width="17.2" height="4.1" fill="#80d0e8" stroke="#3a2020" stroke-width="0.5"/>
<defs>
<linearGradient id="g19" x1="0" x2="1" y1="0" y2="0"><stop offset="0" stop-color="#3a4ea8"/><stop offset="1" stop-color="#3e58b0"/></linearGradient>
<linearGradient id="g20" x1="0" x2="1" y1="0" y2="0"><stop offset="0" stop-color="#3a68bc"/><stop offset="1" stop-color="#3c70c4"/></linearGradient>
<linearGradient id="g21" x1="0" x2="1" y1="0" y2="0"><stop offset="0" stop-color="#3e7ccc"/><stop offset="1" stop-color="#4088d0"/></linearGradient>
<linearGradient id="g22" x1="0" x2="1" y1="0" y2="0"><stop offset="0" stop-color="#4288d4"/><stop offset="1" stop-color="#3c78c8"/></linearGradient>
<linearGradient id="g23" x1="0" x2="1" y1="0" y2="0"><stop offset="0" stop-color="#3a6cc2"/><stop offset="1" stop-color="#3c70c4"/></linearGradient>
<linearGradient id="g24" x1="0" x2="1" y1="0" y2="0"><stop offset="0" stop-color="#74cde0"/><stop offset="1" stop-color="#84d0b0"/></linearGradient>
</defs>
<clipPath id="clip140639241011840"><polygon points="1.9,353.5 1.9,357.5 9.4,365.3 1.9,378.2 9,389.1 1.9,400 8.2,409.7 3.1,419.9 6.2,424.8 191.1,424.8 191.1,353.5"/></clipPath>
<g clip-path="url(#clip140639241011840)">
<rect x="1.4" y="353.5" width="38.1" height="9.43" fill="url(#g19)" />
<rect x="39.2" y="353.5" width="47.2" height="9.43" fill="url(#g19)" />
<rect x="86.1" y="353.5" width="37.1" height="9.43" fill="url(#g19)" />
<rect x="122.9" y="353.5" width="28.1" height="9.43" fill="url(#g19)" />
<rect x="150.7" y="353.5" width="22.8" height="9.43" fill="url(#g19)" />
<rect x="173.2" y="353.5" width="17.2" height="9.43" fill="url(#g19)" />
<rect x="1.4" y="362.63" width="38.1" height="9.57" fill="#2b2c7a" />
<rect x="39.2" y="362.63" width="47.2" height="9.57" fill="#2b2c7a" />
<rect x="86.1" y="362.63" width="37.1" height="9.57" fill="#2b2c7a" />
<rect x="122.9" y="362.63" width="28.1" height="9.57" fill="#2b2c7a" />
<rect x="150.7" y="362.63" width="22.8" height="9.57" fill="#2b2c7a" />
<rect x="173.2" y="362.63" width="17.2" height="9.57" fill="#2b2c7a" />
<rect x="1.4" y="371.9" width="38.1" height="6.65" fill="#2b2c7a" />
<rect x="39.2" y="371.9" width="47.2" height="6.65" fill="#2b2c7a" />
<rect x="86.1" y="371.9" width="37.1" height="6.65" fill="#2b2c7a" />
<rect x="122.9" y="371.9" width="28.1" height="6.65" fill="#2b2c7a" />
<rect x="150.7" y="371.9" width="22.8" height="6.65" fill="#2b2c7a" />
<rect x="173.2" y="371.9" width="17.2" height="6.65" fill="#2b2c7a" />
<rect x="1.4" y="378.24" width="38.1" height="6.36" fill="url(#g20)" />
<rect x="39.2" y="378.24" width="47.2" height="6.36" fill="url(#g20)" />
<rect x="86.1" y="378.24" width="37.1" height="6.36" fill="url(#g20)" />
<rect x="122.9" y="378.24" width="28.1" height="6.36" fill="url(#g20)" />
<rect x="150.7" y="378.24" width="22.8" height="6.36" fill="url(#g20)" />
<rect x="173.2" y="378.24" width="17.2" height="6.36" fill="url(#g20)" />
<rect x="1.4" y="384.3" width="38.1" height="4.86" fill="url(#g21)" />
<rect x="39.2" y="384.3" width="47.2" height="4.86" fill="url(#g21)" />
<rect x="86.1" y="384.3" width="37.1" height="4.86" fill="url(#g21)" />
<rect x="122.9" y="384.3" width="28.1" height="4.86" fill="url(#g21)" />
<rect x="150.7" y="384.3" width="22.8" height="4.86" fill="url(#g21)" />
<rect x="173.2" y="384.3" width="17.2" height="4.86" fill="url(#g21)" />
<rect x="1.4" y="388.86" width="38.1" height="5.43" fill="url(#g22)" />
<rect x="39.2" y="388.86" width="47.2" height="5.43" fill="url(#g22)" />
<rect x="86.1" y="388.86" width="37.1" height="5.43" fill="url(#g22)" />
<rect x="122.9" y="388.86" width="28.1" height="5.43" fill="url(#g22)" />
<rect x="150.7" y="388.86" width="22.8" height="5.43" fill="url(#g22)" />
<rect x="173.2" y="388.86" width="17.2" height="5.43" fill="url(#g22)" />
<rect x="1.4" y="394" width="38.1" height="6.36" fill="url(#g23)" />
<rect x="39.2" y="394" width="47.2" height="6.36" fill="url(#g23)" />
<rect x="86.1" y="394" width="37.1" height="6.36" fill="url(#g23)" />
<rect x="122.9" y="394" width="28.1" height="6.36" fill="url(#g23)" />
<rect x="150.7" y="394" width="22.8" height="6.36" fill="url(#g23)" />
<rect x="173.2" y="394" width="17.2" height="6.36" fill="url(#g23)" />
<rect x="1.4" y="400.06" width="38.1" height="6.93" fill="#2b2c7a" />
<rect x="39.2" y="400.06" width="47.2" height="6.93" fill="#2b2c7a" />
<rect x="86.1" y="400.06" width="37.1" height="6.93" fill="#2b2c7a" />
<rect x="122.9" y="400.06" width="28.1" height="6.93" fill="#2b2c7a" />
<rect x="150.7" y="400.06" width="22.8" height="6.93" fill="#2b2c7a" />
<rect x="173.2" y="400.06" width="17.2" height="6.93" fill="#2b2c7a" />
<rect x="1.4" y="406.69" width="38.1" height="9.78" fill="#2b2c7a" />
<rect x="39.2" y="406.69" width="47.2" height="9.78" fill="#2b2c7a" />
<rect x="86.1" y="406.69" width="37.1" height="9.78" fill="#2b2c7a" />
<rect x="122.9" y="406.69" width="28.1" height="9.78" fill="#2b2c7a" />
<rect x="150.7" y="406.69" width="22.8" height="9.78" fill="#2b2c7a" />
<rect x="173.2" y="406.69" width="17.2" height="9.78" fill="#2b2c7a" />
<rect x="1.4" y="416.17" width="38.1" height="8.93" fill="url(#g24)" />
<rect x="39.2" y="416.17" width="47.2" height="8.93" fill="url(#g24)" />
<rect x="86.1" y="416.17" width="37.1" height="8.93" fill="url(#g24)" />
<rect x="122.9" y="416.17" width="28.1" height="8.93" fill="url(#g24)" />
<rect x="150.7" y="416.17" width="22.8" height="8.93" fill="url(#g24)" />
<rect x="173.2" y="416.17" width="17.2" height="8.93" fill="url(#g24)" />
<line x1="0" y1="362.63" x2="190.1" y2="362.63" stroke="#18182c" stroke-width="1" />
<line x1="0" y1="371.9" x2="190.1" y2="371.9" stroke="#18182c" stroke-width="1" />
<line x1="0" y1="378.24" x2="190.1" y2="378.24" stroke="#18182c" stroke-width="1" />
<line x1="0" y1="384.3" x2="190.1" y2="384.3" stroke="#18182c" stroke-width="1" />
<line x1="0" y1="388.86" x2="190.1" y2="388.86" stroke="#18182c" stroke-width="1" />
<line x1="0" y1="394" x2="190.1" y2="394" stroke="#18182c" stroke-width="1" />
<line x1="0" y1="400.06" x2="190.1" y2="400.06" stroke="#18182c" stroke-width="1" />
<line x1="0" y1="406.69" x2="190.1" y2="406.69" stroke="#18182c" stroke-width="1" />
<line x1="0" y1="416.17" x2="190.1" y2="416.17" stroke="#18182c" stroke-width="1" />
<line x1="39.2" y1="353.5" x2="39.2" y2="424.8" stroke="#111" stroke-width="1" />
<line x1="86.1" y1="353.5" x2="86.1" y2="424.8" stroke="#111" stroke-width="1" />
<line x1="122.9" y1="353.5" x2="122.9" y2="424.8" stroke="#111" stroke-width="1.6" />
<line x1="150.7" y1="353.5" x2="150.7" y2="424.8" stroke="#111" stroke-width="1" />
<line x1="173.2" y1="353.5" x2="173.2" y2="424.8" stroke="#111" stroke-width="1" />
</g>
<polyline points="1.9,353.5 190.1,353.5" fill="none" stroke="#555" stroke-width="0.6"/>
<line x1="1.9" y1="353.5" x2="190.1" y2="353.5" stroke="#666" stroke-width="0.8" />
<line x1="6.2" y1="424.8" x2="190.1" y2="424.8" stroke="#666" stroke-width="0.8" />
<rect x="190.1" y="353.5" width="14.67" height="9.33" fill="#32409c" />
<rect x="204.57" y="353.5" width="9.49" height="9.33" fill="#2e3890" />
<rect x="213.86" y="353.5" width="9.81" height="9.33" fill="#2a2e82" />
<rect x="223.48" y="353.5" width="6.75" height="9.33" fill="#2a2e82" />
<rect x="230.03" y="353.5" width="7.17" height="9.33" fill="#2a2e82" />
<rect x="237" y="353.5" width="7.28" height="9.33" fill="#2a2e82" />
<rect x="244.07" y="353.5" width="6.96" height="9.33" fill="#2a2e82" />
<rect x="250.83" y="353.5" width="7.91" height="9.33" fill="#2a2e82" />
<rect x="258.54" y="353.5" width="6.96" height="9.33" fill="#2a2e82" />
<rect x="265.3" y="353.5" width="7.49" height="9.33" fill="#2a2e82" />
<rect x="272.59" y="353.5" width="6.96" height="9.33" fill="#2a2e82" />
<rect x="279.35" y="353.5" width="7.38" height="9.33" fill="#2a2e82" />
<rect x="286.53" y="353.5" width="7.28" height="9.33" fill="#2a2e82" />
<rect x="293.61" y="353.5" width="6.96" height="9.33" fill="#2a2e82" />
<rect x="300.37" y="353.5" width="6.96" height="9.33" fill="#3448a8" />
<rect x="307.13" y="353.5" width="7.17" height="9.33" fill="#3448a8" />
<rect x="190.1" y="362.63" width="14.67" height="9.47" fill="#32409c" />
<rect x="204.57" y="362.63" width="9.49" height="9.47" fill="#2e3890" />
<rect x="213.86" y="362.63" width="9.81" height="9.47" fill="#2a2e82" />
<rect x="223.48" y="362.63" width="6.75" height="9.47" fill="#2a2e82" />
<rect x="230.03" y="362.63" width="7.17" height="9.47" fill="#2a2e82" />
<rect x="237" y="362.63" width="7.28" height="9.47" fill="#2a2e82" />
<rect x="244.07" y="362.63" width="6.96" height="9.47" fill="#2a2e82" />
<rect x="250.83" y="362.63" width="7.91" height="9.47" fill="#2a2e82" />
<rect x="258.54" y="362.63" width="6.96" height="9.47" fill="#2a2e82" />
<rect x="265.3" y="362.63" width="7.49" height="9.47" fill="#2a2e82" />
<rect x="272.59" y="362.63" width="6.96" height="9.47" fill="#2a2e82" />
<rect x="279.35" y="362.63" width="7.38" height="9.47" fill="#2a2e82" />
<rect x="286.53" y="362.63" width="7.28" height="9.47" fill="#2a2e82" />
<rect x="293.61" y="362.63" width="6.96" height="9.47" fill="#2a2e82" />
<rect x="300.37" y="362.63" width="6.96" height="9.47" fill="#3448a8" />
<rect x="307.13" y="362.63" width="7.17" height="9.47" fill="#3448a8" />
<rect x="190.1" y="371.9" width="14.67" height="6.55" fill="#32409c" />
<rect x="204.57" y="371.9" width="9.49" height="6.55" fill="#2e3890" />
<rect x="213.86" y="371.9" width="9.81" height="6.55" fill="#2a2e82" />
<rect x="223.48" y="371.9" width="6.75" height="6.55" fill="#2a2e82" />
<rect x="230.03" y="371.9" width="7.17" height="6.55" fill="#2a2e82" />
<rect x="237" y="371.9" width="7.28" height="6.55" fill="#2a2e82" />
<rect x="244.07" y="371.9" width="6.96" height="6.55" fill="#2a2e82" />
<rect x="250.83" y="371.9" width="7.91" height="6.55" fill="#2a2e82" />
<rect x="258.54" y="371.9" width="6.96" height="6.55" fill="#2a2e82" />
<rect x="265.3" y="371.9" width="7.49" height="6.55" fill="#2a2e82" />
<rect x="272.59" y="371.9" width="6.96" height="6.55" fill="#2a2e82" />
<rect x="279.35" y="371.9" width="7.38" height="6.55" fill="#2a2e82" />
<rect x="286.53" y="371.9" width="7.28" height="6.55" fill="#2a2e82" />
<rect x="293.61" y="371.9" width="6.96" height="6.55" fill="#2a2e82" />
<rect x="300.37" y="371.9" width="6.96" height="6.55" fill="#3448a8" />
<rect x="307.13" y="371.9" width="7.17" height="6.55" fill="#3448a8" />
<rect x="190.1" y="378.24" width="14.67" height="6.26" fill="#3a60c0" />
<rect x="204.57" y="378.24" width="9.49" height="6.26" fill="#3a5cbc" />
<rect x="213.86" y="378.24" width="9.81" height="6.26" fill="#3854b4" />
<rect x="223.48" y="378.24" width="6.75" height="6.26" fill="#364cae" />
<rect x="230.03" y="378.24" width="7.17" height="6.26" fill="#3a60c0" />
<rect x="237" y="378.24" width="7.28" height="6.26" fill="#3a60c0" />
<rect x="244.07" y="378.24" width="6.96" height="6.26" fill="#3a60c0" />
<rect x="250.83" y="378.24" width="7.91" height="6.26" fill="#3a60c0" />
<rect x="258.54" y="378.24" width="6.96" height="6.26" fill="#3a60c0" />
<rect x="265.3" y="378.24" width="7.49" height="6.26" fill="#3a60c0" />
<rect x="272.59" y="378.24" width="6.96" height="6.26" fill="#3a60c0" />
<rect x="279.35" y="378.24" width="7.38" height="6.26" fill="#3a60c0" />
<rect x="286.53" y="378.24" width="7.28" height="6.26" fill="#3a60c0" />
<rect x="293.61" y="378.24" width="6.96" height="6.26" fill="#78d0e0" />
<rect x="300.37" y="378.24" width="6.96" height="6.26" fill="#3448a8" />
<rect x="307.13" y="378.24" width="7.17" height="6.26" fill="#3448a8" />
<rect x="190.1" y="384.3" width="14.67" height="4.76" fill="#3c70c8" />
<rect x="204.57" y="384.3" width="9.49" height="4.76" fill="#3a5cbc" />
<rect x="213.86" y="384.3" width="9.81" height="4.76" fill="#3854b4" />
<rect x="223.48" y="384.3" width="6.75" height="4.76" fill="#364cae" />
<rect x="230.03" y="384.3" width="7.17" height="4.76" fill="#3c68c4" />
<rect x="237" y="384.3" width="7.28" height="4.76" fill="#3c68c4" />
<rect x="244.07" y="384.3" width="6.96" height="4.76" fill="#3c68c4" />
<rect x="250.83" y="384.3" width="7.91" height="4.76" fill="#3c68c4" />
<rect x="258.54" y="384.3" width="6.96" height="4.76" fill="#3c68c4" />
<rect x="265.3" y="384.3" width="7.49" height="4.76" fill="#3c68c4" />
<rect x="272.59" y="384.3" width="6.96" height="4.76" fill="#3c68c4" />
<rect x="279.35" y="384.3" width="7.38" height="4.76" fill="#3c68c4" />
<rect x="286.53" y="384.3" width="7.28" height="4.76" fill="#3c68c4" />
<rect x="293.61" y="384.3" width="6.96" height="4.76" fill="#90d4c0" />
<rect x="300.37" y="384.3" width="6.96" height="4.76" fill="#3448a8" />
<rect x="307.13" y="384.3" width="7.17" height="4.76" fill="#3448a8" />
<rect x="190.1" y="388.86" width="14.67" height="5.33" fill="#3c70c8" />
<rect x="204.57" y="388.86" width="9.49" height="5.33" fill="#3a5cbc" />
<rect x="213.86" y="388.86" width="9.81" height="5.33" fill="#3854b4" />
<rect x="223.48" y="388.86" width="6.75" height="5.33" fill="#364cae" />
<rect x="230.03" y="388.86" width="7.17" height="5.33" fill="#3c68c4" />
<rect x="237" y="388.86" width="7.28" height="5.33" fill="#3c68c4" />
<rect x="244.07" y="388.86" width="6.96" height="5.33" fill="#3c68c4" />
<rect x="250.83" y="388.86" width="7.91" height="5.33" fill="#3c68c4" />
<rect x="258.54" y="388.86" width="6.96" height="5.33" fill="#3c68c4" />
<rect x="265.3" y="388.86" width="7.49" height="5.33" fill="#3c68c4" />
<rect x="272.59" y="388.86" width="6.96" height="5.33" fill="#3c68c4" />
<rect x="279.35" y="388.86" width="7.38" height="5.33" fill="#3c68c4" />
<rect x="286.53" y="388.86" width="7.28" height="5.33" fill="#3c68c4" />
<rect x="293.61" y="388.86" width="6.96" height="5.33" fill="#90d4b8" />
<rect x="300.37" y="388.86" width="6.96" height="5.33" fill="#3448a8" />
<rect x="307.13" y="388.86" width="7.17" height="5.33" fill="#3448a8" />
<rect x="190.1" y="394" width="14.67" height="6.26" fill="#3a60c0" />
<rect x="204.57" y="394" width="9.49" height="6.26" fill="#3a5cbc" />
<rect x="213.86" y="394" width="9.81" height="6.26" fill="#3854b4" />
<rect x="223.48" y="394" width="6.75" height="6.26" fill="#364cae" />
<rect x="230.03" y="394" width="7.17" height="6.26" fill="#3a60c0" />
<rect x="237" y="394" width="7.28" height="6.26" fill="#3a60c0" />
<rect x="244.07" y="394" width="6.96" height="6.26" fill="#3a60c0" />
<rect x="250.83" y="394" width="7.91" height="6.26" fill="#3a60c0" />
<rect x="258.54" y="394" width="6.96" height="6.26" fill="#3a60c0" />
<rect x="265.3" y="394" width="7.49" height="6.26" fill="#3a60c0" />
<rect x="272.59" y="394" width="6.96" height="6.26" fill="#3a60c0" />
<rect x="279.35" y="394" width="7.38" height="6.26" fill="#3a60c0" />
<rect x="286.53" y="394" width="7.28" height="6.26" fill="#3a60c0" />
<rect x="293.61" y="394" width="6.96" height="6.26" fill="#a0d8a0" />
<rect x="300.37" y="394" width="6.96" height="6.26" fill="#3448a8" />
<rect x="307.13" y="394" width="7.17" height="6.26" fill="#3448a8" />
<rect x="190.1" y="400.06" width="14.67" height="6.83" fill="#32409c" />
<rect x="204.57" y="400.06" width="9.49" height="6.83" fill="#2e3890" />
<rect x="213.86" y="400.06" width="9.81" height="6.83" fill="#2a2e82" />
<rect x="223.48" y="400.06" width="6.75" height="6.83" fill="#2a2e82" />
<rect x="230.03" y="400.06" width="7.17" height="6.83" fill="#2a2e82" />
<rect x="237" y="400.06" width="7.28" height="6.83" fill="#2a2e82" />
<rect x="244.07" y="400.06" width="6.96" height="6.83" fill="#2a2e82" />
<rect x="250.83" y="400.06" width="7.91" height="6.83" fill="#2a2e82" />
<rect x="258.54" y="400.06" width="6.96" height="6.83" fill="#2a2e82" />
<rect x="265.3" y="400.06" width="7.49" height="6.83" fill="#2a2e82" />
<rect x="272.59" y="400.06" width="6.96" height="6.83" fill="#2a2e82" />
<rect x="279.35" y="400.06" width="7.38" height="6.83" fill="#2a2e82" />
<rect x="286.53" y="400.06" width="7.28" height="6.83" fill="#2a2e82" />
<rect x="293.61" y="400.06" width="6.96" height="6.83" fill="#2a2e82" />
<rect x="300.37" y="400.06" width="6.96" height="6.83" fill="#3448a8" />
<rect x="307.13" y="400.06" width="7.17" height="6.83" fill="#3448a8" />
<rect x="190.1" y="406.69" width="14.67" height="9.68" fill="#32409c" />
<rect x="204.57" y="406.69" width="9.49" height="9.68" fill="#2e3890" />
<rect x="213.86" y="406.69" width="9.81" height="9.68" fill="#2a2e82" />
<rect x="223.48" y="406.69" width="6.75" height="9.68" fill="#2a2e82" />
<rect x="230.03" y="406.69" width="7.17" height="9.68" fill="#2a2e82" />
<rect x="237" y="406.69" width="7.28" height="9.68" fill="#2a2e82" />
<rect x="244.07" y="406.69" width="6.96" height="9.68" fill="#2a2e82" />
<rect x="250.83" y="406.69" width="7.91" height="9.68" fill="#2a2e82" />
<rect x="258.54" y="406.69" width="6.96" height="9.68" fill="#2a2e82" />
<rect x="265.3" y="406.69" width="7.49" height="9.68" fill="#2a2e82" />
<rect x="272.59" y="406.69" width="6.96" height="9.68" fill="#2a2e82" />
<rect x="279.35" y="406.69" width="7.38" height="9.68" fill="#2a2e82" />
<rect x="286.53" y="406.69" width="7.28" height="9.68" fill="#2a2e82" />
<rect x="293.61" y="406.69" width="6.96" height="9.68" fill="#2a2e82" />
<rect x="300.37" y="406.69" width="6.96" height="9.68" fill="#3448a8" />
<rect x="307.13" y="406.69" width="7.17" height="9.68" fill="#3448a8" />
<rect x="190.1" y="416.17" width="14.67" height="8.83" fill="#32409c" />
<rect x="204.57" y="416.17" width="9.49" height="8.83" fill="#2e3890" />
<rect x="213.86" y="416.17" width="9.81" height="8.83" fill="#2a2e82" />
<rect x="223.48" y="416.17" width="6.75" height="8.83" fill="#2a2e82" />
<rect x="230.03" y="416.17" width="7.17" height="8.83" fill="#2a2e82" />
<rect x="237" y="416.17" width="7.28" height="8.83" fill="#2a2e82" />
<rect x="244.07" y="416.17" width="6.96" height="8.83" fill="#2a2e82" />
<rect x="250.83" y="416.17" width="7.91" height="8.83" fill="#2a2e82" />
<rect x="258.54" y="416.17" width="6.96" height="8.83" fill="#2a2e82" />
<rect x="265.3" y="416.17" width="7.49" height="8.83" fill="#2a2e82" />
<rect x="272.59" y="416.17" width="6.96" height="8.83" fill="#2a2e82" />
<rect x="279.35" y="416.17" width="7.38" height="8.83" fill="#2a2e82" />
<rect x="286.53" y="416.17" width="7.28" height="8.83" fill="#2a2e82" />
<rect x="293.61" y="416.17" width="6.96" height="8.83" fill="#2a2e82" />
<rect x="300.37" y="416.17" width="6.96" height="8.83" fill="#50b0e0" />
<rect x="307.13" y="416.17" width="7.17" height="8.83" fill="#3448a8" />
<line x1="190.1" y1="362.63" x2="314.1" y2="362.63" stroke="#16162e" stroke-width="0.9" />
<line x1="190.1" y1="371.9" x2="314.1" y2="371.9" stroke="#16162e" stroke-width="0.9" />
<line x1="190.1" y1="378.24" x2="314.1" y2="378.24" stroke="#16162e" stroke-width="0.9" />
<line x1="190.1" y1="384.3" x2="314.1" y2="384.3" stroke="#16162e" stroke-width="0.9" />
<line x1="190.1" y1="388.86" x2="314.1" y2="388.86" stroke="#16162e" stroke-width="1.3" />
<line x1="190.1" y1="394" x2="314.1" y2="394" stroke="#16162e" stroke-width="0.9" />
<line x1="190.1" y1="400.06" x2="314.1" y2="400.06" stroke="#16162e" stroke-width="0.9" />
<line x1="190.1" y1="406.69" x2="314.1" y2="406.69" stroke="#16162e" stroke-width="0.9" />
<line x1="190.1" y1="416.17" x2="314.1" y2="416.17" stroke="#16162e" stroke-width="0.9" />
<line x1="204.57" y1="353.5" x2="204.57" y2="424.8" stroke="#16162e" stroke-width="0.8" />
<line x1="213.86" y1="353.5" x2="213.86" y2="424.8" stroke="#16162e" stroke-width="1.2" />
<line x1="223.48" y1="353.5" x2="223.48" y2="424.8" stroke="#16162e" stroke-width="0.8" />
<line x1="230.03" y1="353.5" x2="230.03" y2="424.8" stroke="#16162e" stroke-width="0.8" />
<line x1="237" y1="353.5" x2="237" y2="424.8" stroke="#16162e" stroke-width="0.8" />
<line x1="244.07" y1="353.5" x2="244.07" y2="424.8" stroke="#16162e" stroke-width="0.8" />
<line x1="250.83" y1="353.5" x2="250.83" y2="424.8" stroke="#16162e" stroke-width="0.8" />
<line x1="258.54" y1="353.5" x2="258.54" y2="424.8" stroke="#16162e" stroke-width="1.2" />
<line x1="265.3" y1="353.5" x2="265.3" y2="424.8" stroke="#16162e" stroke-width="0.8" />
<line x1="272.59" y1="353.5" x2="272.59" y2="424.8" stroke="#16162e" stroke-width="0.8" />
<line x1="279.35" y1="353.5" x2="279.35" y2="424.8" stroke="#16162e" stroke-width="0.8" />
<line x1="286.53" y1="353.5" x2="286.53" y2="424.8" stroke="#16162e" stroke-width="0.8" />
<line x1="293.61" y1="353.5" x2="293.61" y2="424.8" stroke="#16162e" stroke-width="0.8" />
<line x1="300.37" y1="353.5" x2="300.37" y2="424.8" stroke="#16162e" stroke-width="1.2" />
<line x1="307.13" y1="353.5" x2="307.13" y2="424.8" stroke="#16162e" stroke-width="0.8" />
<line x1="190.1" y1="349.3" x2="190.1" y2="429" stroke="#222" stroke-width="0.8" />
<line x1="314.1" y1="349.3" x2="314.1" y2="429" stroke="#444" stroke-width="0.8" />
<rect x="190.1" y="349.4" width="21.86" height="4.1" fill="#80d0d0" stroke="#3a2020" stroke-width="0.5"/>
<rect x="190.1" y="424.8" width="21.86" height="4.1" fill="#b01818" stroke="#3a2020" stroke-width="0.5"/>
<rect x="211.96" y="349.4" width="23.45" height="4.1" fill="#70c8e0" stroke="#3a2020" stroke-width="0.5"/>
<rect x="211.96" y="424.8" width="23.45" height="4.1" fill="#e01820" stroke="#3a2020" stroke-width="0.5"/>
<rect x="235.41" y="349.4" width="22.81" height="4.1" fill="#50b0e0" stroke="#3a2020" stroke-width="0.5"/>
<rect x="235.41" y="424.8" width="22.81" height="4.1" fill="#f08010" stroke="#3a2020" stroke-width="0.5"/>
<rect x="258.23" y="349.4" width="19.22" height="4.1" fill="#50a0d8" stroke="#3a2020" stroke-width="0.5"/>
<rect x="258.23" y="424.8" width="19.22" height="4.1" fill="#f59a10" stroke="#3a2020" stroke-width="0.5"/>
<rect x="277.45" y="349.4" width="19.22" height="4.1" fill="#4890d0" stroke="#3a2020" stroke-width="0.5"/>
<rect x="277.45" y="424.8" width="19.22" height="4.1" fill="#f5a818" stroke="#3a2020" stroke-width="0.5"/>
<rect x="296.67" y="349.4" width="17.43" height="4.1" fill="#4080c8" stroke="#3a2020" stroke-width="0.5"/>
<rect x="296.67" y="424.8" width="17.43" height="4.1" fill="#f5b818" stroke="#3a2020" stroke-width="0.5"/>
<defs>
<linearGradient id="g25" x1="0" x2="1" y1="0" y2="0"><stop offset="0" stop-color="#50c0ea"/><stop offset="1" stop-color="#4cb8e8"/></linearGradient>
<linearGradient id="g26" x1="0" x2="1" y1="0" y2="0"><stop offset="0" stop-color="#50c2ee"/><stop offset="1" stop-color="#40a8e2"/></linearGradient>
<linearGradient id="g27" x1="0" x2="1" y1="0" y2="0"><stop offset="0" stop-color="#72d0e8"/><stop offset="1" stop-color="#60c8ea"/></linearGradient>
<linearGradient id="g28" x1="0" x2="1" y1="0" y2="0"><stop offset="0" stop-color="#5ec8ea"/><stop offset="1" stop-color="#50c0ec"/></linearGradient>
<linearGradient id="g29" x1="0" x2="1" y1="0" y2="0"><stop offset="0" stop-color="#4cbcee"/><stop offset="1" stop-color="#40a8e2"/></linearGradient>
<linearGradient id="g30" x1="0" x2="1" y1="0" y2="0"><stop offset="0" stop-color="#7ccfd2"/><stop offset="1" stop-color="#8ed0a4"/></linearGradient>
</defs>
<clipPath id="clip140639241012608"><polygon points="372.3,354.3 379.8,360.2 377.4,363.4 372.3,372.6 377.4,382.1 372,392.8 378.6,401.7 371.8,414.1 378.2,424.8 561.5,424.8 561.5,354.3"/></clipPath>
<g clip-path="url(#clip140639241012608)">
<rect x="371.3" y="354.3" width="40.5" height="9.32" fill="url(#g25)" />
<rect x="411.5" y="354.3" width="46" height="9.32" fill="url(#g25)" />
<rect x="457.2" y="354.3" width="36.5" height="9.32" fill="url(#g25)" />
<rect x="493.4" y="354.3" width="27.7" height="9.32" fill="url(#g25)" />
<rect x="520.8" y="354.3" width="23.5" height="9.32" fill="url(#g25)" />
<rect x="544" y="354.3" width="16.8" height="9.32" fill="url(#g25)" />
<rect x="371.3" y="363.32" width="40.5" height="9.47" fill="#2b2c7a" />
<rect x="411.5" y="363.32" width="46" height="9.47" fill="#2b2c7a" />
<rect x="457.2" y="363.32" width="36.5" height="9.47" fill="#2b2c7a" />
<rect x="493.4" y="363.32" width="27.7" height="9.47" fill="#2b2c7a" />
<rect x="520.8" y="363.32" width="23.5" height="9.47" fill="#2b2c7a" />
<rect x="544" y="363.32" width="16.8" height="9.47" fill="#2b2c7a" />
<rect x="371.3" y="372.49" width="40.5" height="6.57" fill="#2b2c7a" />
<rect x="411.5" y="372.49" width="46" height="6.57" fill="#2b2c7a" />
<rect x="457.2" y="372.49" width="36.5" height="6.57" fill="#2b2c7a" />
<rect x="493.4" y="372.49" width="27.7" height="6.57" fill="#2b2c7a" />
<rect x="520.8" y="372.49" width="23.5" height="6.57" fill="#2b2c7a" />
<rect x="544" y="372.49" width="16.8" height="6.57" fill="#2b2c7a" />
<rect x="371.3" y="378.76" width="40.5" height="6.29" fill="url(#g26)" />
<rect x="411.5" y="378.76" width="46" height="6.29" fill="url(#g26)" />
<rect x="457.2" y="378.76" width="36.5" height="6.29" fill="url(#g26)" />
<rect x="493.4" y="378.76" width="27.7" height="6.29" fill="url(#g26)" />
<rect x="520.8" y="378.76" width="23.5" height="6.29" fill="url(#g26)" />
<rect x="544" y="378.76" width="16.8" height="6.29" fill="url(#g26)" />
<rect x="371.3" y="384.76" width="40.5" height="4.81" fill="url(#g27)" />
<rect x="411.5" y="384.76" width="46" height="4.81" fill="url(#g27)" />
<rect x="457.2" y="384.76" width="36.5" height="4.81" fill="url(#g27)" />
<rect x="493.4" y="384.76" width="27.7" height="4.81" fill="url(#g27)" />
<rect x="520.8" y="384.76" width="23.5" height="4.81" fill="url(#g27)" />
<rect x="544" y="384.76" width="16.8" height="4.81" fill="url(#g27)" />
<rect x="371.3" y="389.27" width="40.5" height="5.38" fill="url(#g28)" />
<rect x="411.5" y="389.27" width="46" height="5.38" fill="url(#g28)" />
<rect x="457.2" y="389.27" width="36.5" height="5.38" fill="url(#g28)" />
<rect x="493.4" y="389.27" width="27.7" height="5.38" fill="url(#g28)" />
<rect x="520.8" y="389.27" width="23.5" height="5.38" fill="url(#g28)" />
<rect x="544" y="389.27" width="16.8" height="5.38" fill="url(#g28)" />
<rect x="371.3" y="394.34" width="40.5" height="6.29" fill="url(#g29)" />
<rect x="411.5" y="394.34" width="46" height="6.29" fill="url(#g29)" />
<rect x="457.2" y="394.34" width="36.5" height="6.29" fill="url(#g29)" />
<rect x="493.4" y="394.34" width="27.7" height="6.29" fill="url(#g29)" />
<rect x="520.8" y="394.34" width="23.5" height="6.29" fill="url(#g29)" />
<rect x="544" y="394.34" width="16.8" height="6.29" fill="url(#g29)" />
<rect x="371.3" y="400.34" width="40.5" height="6.86" fill="#2b2c7a" />
<rect x="411.5" y="400.34" width="46" height="6.86" fill="#2b2c7a" />
<rect x="457.2" y="400.34" width="36.5" height="6.86" fill="#2b2c7a" />
<rect x="493.4" y="400.34" width="27.7" height="6.86" fill="#2b2c7a" />
<rect x="520.8" y="400.34" width="23.5" height="6.86" fill="#2b2c7a" />
<rect x="544" y="400.34" width="16.8" height="6.86" fill="#2b2c7a" />
<rect x="371.3" y="406.89" width="40.5" height="9.68" fill="#2b2c7a" />
<rect x="411.5" y="406.89" width="46" height="9.68" fill="#2b2c7a" />
<rect x="457.2" y="406.89" width="36.5" height="9.68" fill="#2b2c7a" />
<rect x="493.4" y="406.89" width="27.7" height="9.68" fill="#2b2c7a" />
<rect x="520.8" y="406.89" width="23.5" height="9.68" fill="#2b2c7a" />
<rect x="544" y="406.89" width="16.8" height="9.68" fill="#2b2c7a" />
<rect x="371.3" y="416.27" width="40.5" height="8.83" fill="url(#g30)" />
<rect x="411.5" y="416.27" width="46" height="8.83" fill="url(#g30)" />
<rect x="457.2" y="416.27" width="36.5" height="8.83" fill="url(#g30)" />
<rect x="493.4" y="416.27" width="27.7" height="8.83" fill="url(#g30)" />
<rect x="520.8" y="416.27" width="23.5" height="8.83" fill="url(#g30)" />
<rect x="544" y="416.27" width="16.8" height="8.83" fill="url(#g30)" />
<line x1="0" y1="363.32" x2="560.5" y2="363.32" stroke="#18182c" stroke-width="1" />
<line x1="0" y1="372.49" x2="560.5" y2="372.49" stroke="#18182c" stroke-width="1" />
<line x1="0" y1="378.76" x2="560.5" y2="378.76" stroke="#18182c" stroke-width="1" />
<line x1="0" y1="384.76" x2="560.5" y2="384.76" stroke="#18182c" stroke-width="1" />
<line x1="0" y1="389.27" x2="560.5" y2="389.27" stroke="#18182c" stroke-width="1" />
<line x1="0" y1="394.34" x2="560.5" y2="394.34" stroke="#18182c" stroke-width="1" />
<line x1="0" y1="400.34" x2="560.5" y2="400.34" stroke="#18182c" stroke-width="1" />
<line x1="0" y1="406.89" x2="560.5" y2="406.89" stroke="#18182c" stroke-width="1" />
<line x1="0" y1="416.27" x2="560.5" y2="416.27" stroke="#18182c" stroke-width="1" />
<line x1="411.5" y1="354.3" x2="411.5" y2="424.8" stroke="#111" stroke-width="1" />
<line x1="457.2" y1="354.3" x2="457.2" y2="424.8" stroke="#111" stroke-width="1" />
<line x1="493.4" y1="354.3" x2="493.4" y2="424.8" stroke="#111" stroke-width="1.6" />
<line x1="520.8" y1="354.3" x2="520.8" y2="424.8" stroke="#111" stroke-width="1" />
<line x1="544" y1="354.3" x2="544" y2="424.8" stroke="#111" stroke-width="1" />
</g>
<polyline points="372.3,354.3 560.5,354.3" fill="none" stroke="#555" stroke-width="0.6"/>
<line x1="372.3" y1="354.3" x2="560.5" y2="354.3" stroke="#666" stroke-width="0.8" />
<line x1="378.2" y1="424.8" x2="560.5" y2="424.8" stroke="#666" stroke-width="0.8" />
<rect x="560.5" y="354.3" width="14.59" height="9.22" fill="#32409c" />
<rect x="574.89" y="354.3" width="9.44" height="9.22" fill="#2e3890" />
<rect x="584.13" y="354.3" width="9.76" height="9.22" fill="#2a2e82" />
<rect x="593.69" y="354.3" width="6.71" height="9.22" fill="#2a2e82" />
<rect x="600.2" y="354.3" width="7.13" height="9.22" fill="#2a2e82" />
<rect x="607.13" y="354.3" width="7.24" height="9.22" fill="#2a2e82" />
<rect x="614.17" y="354.3" width="6.92" height="9.22" fill="#2a2e82" />
<rect x="620.89" y="354.3" width="7.87" height="9.22" fill="#2a2e82" />
<rect x="628.56" y="354.3" width="6.92" height="9.22" fill="#2a2e82" />
<rect x="635.28" y="354.3" width="7.45" height="9.22" fill="#2a2e82" />
<rect x="642.52" y="354.3" width="6.92" height="9.22" fill="#2a2e82" />
<rect x="649.25" y="354.3" width="7.34" height="9.22" fill="#2a2e82" />
<rect x="656.39" y="354.3" width="7.24" height="9.22" fill="#2a2e82" />
<rect x="663.43" y="354.3" width="6.92" height="9.22" fill="#2a2e82" />
<rect x="670.15" y="354.3" width="6.92" height="9.22" fill="#3a50b0" />
<rect x="676.87" y="354.3" width="7.13" height="9.22" fill="#3a50b0" />
<rect x="560.5" y="363.32" width="14.59" height="9.37" fill="#32409c" />
<rect x="574.89" y="363.32" width="9.44" height="9.37" fill="#2e3890" />
<rect x="584.13" y="363.32" width="9.76" height="9.37" fill="#2a2e82" />
<rect x="593.69" y="363.32" width="6.71" height="9.37" fill="#2a2e82" />
<rect x="600.2" y="363.32" width="7.13" height="9.37" fill="#2a2e82" />
<rect x="607.13" y="363.32" width="7.24" height="9.37" fill="#2a2e82" />
<rect x="614.17" y="363.32" width="6.92" height="9.37" fill="#2a2e82" />
<rect x="620.89" y="363.32" width="7.87" height="9.37" fill="#2a2e82" />
<rect x="628.56" y="363.32" width="6.92" height="9.37" fill="#2a2e82" />
<rect x="635.28" y="363.32" width="7.45" height="9.37" fill="#2a2e82" />
<rect x="642.52" y="363.32" width="6.92" height="9.37" fill="#2a2e82" />
<rect x="649.25" y="363.32" width="7.34" height="9.37" fill="#2a2e82" />
<rect x="656.39" y="363.32" width="7.24" height="9.37" fill="#2a2e82" />
<rect x="663.43" y="363.32" width="6.92" height="9.37" fill="#2a2e82" />
<rect x="670.15" y="363.32" width="6.92" height="9.37" fill="#3a50b0" />
<rect x="676.87" y="363.32" width="7.13" height="9.37" fill="#3a50b0" />
<rect x="560.5" y="372.49" width="14.59" height="6.47" fill="#32409c" />
<rect x="574.89" y="372.49" width="9.44" height="6.47" fill="#2e3890" />
<rect x="584.13" y="372.49" width="9.76" height="6.47" fill="#2a2e82" />
<rect x="593.69" y="372.49" width="6.71" height="6.47" fill="#2a2e82" />
<rect x="600.2" y="372.49" width="7.13" height="6.47" fill="#2a2e82" />
<rect x="607.13" y="372.49" width="7.24" height="6.47" fill="#2a2e82" />
<rect x="614.17" y="372.49" width="6.92" height="6.47" fill="#2a2e82" />
<rect x="620.89" y="372.49" width="7.87" height="6.47" fill="#2a2e82" />
<rect x="628.56" y="372.49" width="6.92" height="6.47" fill="#2a2e82" />
<rect x="635.28" y="372.49" width="7.45" height="6.47" fill="#2a2e82" />
<rect x="642.52" y="372.49" width="6.92" height="6.47" fill="#2a2e82" />
<rect x="649.25" y="372.49" width="7.34" height="6.47" fill="#2a2e82" />
<rect x="656.39" y="372.49" width="7.24" height="6.47" fill="#2a2e82" />
<rect x="663.43" y="372.49" width="6.92" height="6.47" fill="#2a2e82" />
<rect x="670.15" y="372.49" width="6.92" height="6.47" fill="#3a50b0" />
<rect x="676.87" y="372.49" width="7.13" height="6.47" fill="#3a50b0" />
<rect x="560.5" y="378.76" width="14.59" height="6.19" fill="#4a90d8" />
<rect x="574.89" y="378.76" width="9.44" height="6.19" fill="#4a80d0" />
<rect x="584.13" y="378.76" width="9.76" height="6.19" fill="#3c70c8" />
<rect x="593.69" y="378.76" width="6.71" height="6.19" fill="#3a58b0" />
<rect x="600.2" y="378.76" width="7.13" height="6.19" fill="#4aa0e0" />
<rect x="607.13" y="378.76" width="7.24" height="6.19" fill="#4aa0e0" />
<rect x="614.17" y="378.76" width="6.92" height="6.19" fill="#4aa0e0" />
<rect x="620.89" y="378.76" width="7.87" height="6.19" fill="#4aa0e0" />
<rect x="628.56" y="378.76" width="6.92" height="6.19" fill="#4aa0e0" />
<rect x="635.28" y="378.76" width="7.45" height="6.19" fill="#4aa0e0" />
<rect x="642.52" y="378.76" width="6.92" height="6.19" fill="#4aa0e0" />
<rect x="649.25" y="378.76" width="7.34" height="6.19" fill="#4aa0e0" />
<rect x="656.39" y="378.76" width="7.24" height="6.19" fill="#4aa0e0" />
<rect x="663.43" y="378.76" width="6.92" height="6.19" fill="#a0d070" />
<rect x="670.15" y="378.76" width="6.92" height="6.19" fill="#3a50b0" />
<rect x="676.87" y="378.76" width="7.13" height="6.19" fill="#3a50b0" />
<rect x="560.5" y="384.76" width="14.59" height="4.71" fill="#50c0f0" />
<rect x="574.89" y="384.76" width="9.44" height="4.71" fill="#4a80d0" />
<rect x="584.13" y="384.76" width="9.76" height="4.71" fill="#3c70c8" />
<rect x="593.69" y="384.76" width="6.71" height="4.71" fill="#3a58b0" />
<rect x="600.2" y="384.76" width="7.13" height="4.71" fill="#4a90d8" />
<rect x="607.13" y="384.76" width="7.24" height="4.71" fill="#4a90d8" />
<rect x="614.17" y="384.76" width="6.92" height="4.71" fill="#4a90d8" />
<rect x="620.89" y="384.76" width="7.87" height="4.71" fill="#4a90d8" />
<rect x="628.56" y="384.76" width="6.92" height="4.71" fill="#4a90d8" />
<rect x="635.28" y="384.76" width="7.45" height="4.71" fill="#4a90d8" />
<rect x="642.52" y="384.76" width="6.92" height="4.71" fill="#4a90d8" />
<rect x="649.25" y="384.76" width="7.34" height="4.71" fill="#4a90d8" />
<rect x="656.39" y="384.76" width="7.24" height="4.71" fill="#4a90d8" />
<rect x="663.43" y="384.76" width="6.92" height="4.71" fill="#f0e020" />
<rect x="670.15" y="384.76" width="6.92" height="4.71" fill="#3a50b0" />
<rect x="676.87" y="384.76" width="7.13" height="4.71" fill="#3a50b0" />
<rect x="560.5" y="389.27" width="14.59" height="5.28" fill="#50c0f0" />
<rect x="574.89" y="389.27" width="9.44" height="5.28" fill="#4a80d0" />
<rect x="584.13" y="389.27" width="9.76" height="5.28" fill="#3c70c8" />
<rect x="593.69" y="389.27" width="6.71" height="5.28" fill="#3a58b0" />
<rect x="600.2" y="389.27" width="7.13" height="5.28" fill="#4a90d8" />
<rect x="607.13" y="389.27" width="7.24" height="5.28" fill="#4a90d8" />
<rect x="614.17" y="389.27" width="6.92" height="5.28" fill="#4a90d8" />
<rect x="620.89" y="389.27" width="7.87" height="5.28" fill="#4a90d8" />
<rect x="628.56" y="389.27" width="6.92" height="5.28" fill="#4a90d8" />
<rect x="635.28" y="389.27" width="7.45" height="5.28" fill="#4a90d8" />
<rect x="642.52" y="389.27" width="6.92" height="5.28" fill="#4a90d8" />
<rect x="649.25" y="389.27" width="7.34" height="5.28" fill="#4a90d8" />
<rect x="656.39" y="389.27" width="7.24" height="5.28" fill="#4a90d8" />
<rect x="663.43" y="389.27" width="6.92" height="5.28" fill="#f0e020" />
<rect x="670.15" y="389.27" width="6.92" height="5.28" fill="#3a50b0" />
<rect x="676.87" y="389.27" width="7.13" height="5.28" fill="#3a50b0" />
<rect x="560.5" y="394.34" width="14.59" height="6.19" fill="#4a90d8" />
<rect x="574.89" y="394.34" width="9.44" height="6.19" fill="#4a80d0" />
<rect x="584.13" y="394.34" width="9.76" height="6.19" fill="#3c70c8" />
<rect x="593.69" y="394.34" width="6.71" height="6.19" fill="#3a58b0" />
<rect x="600.2" y="394.34" width="7.13" height="6.19" fill="#50b0e8" />
<rect x="607.13" y="394.34" width="7.24" height="6.19" fill="#50b0e8" />
<rect x="614.17" y="394.34" width="6.92" height="6.19" fill="#50b0e8" />
<rect x="620.89" y="394.34" width="7.87" height="6.19" fill="#50b0e8" />
<rect x="628.56" y="394.34" width="6.92" height="6.19" fill="#50b0e8" />
<rect x="635.28" y="394.34" width="7.45" height="6.19" fill="#50b0e8" />
<rect x="642.52" y="394.34" width="6.92" height="6.19" fill="#50b0e8" />
<rect x="649.25" y="394.34" width="7.34" height="6.19" fill="#50b0e8" />
<rect x="656.39" y="394.34" width="7.24" height="6.19" fill="#50b0e8" />
<rect x="663.43" y="394.34" width="6.92" height="6.19" fill="#f8e020" />
<rect x="670.15" y="394.34" width="6.92" height="6.19" fill="#3a50b0" />
<rect x="676.87" y="394.34" width="7.13" height="6.19" fill="#3a50b0" />
<rect x="560.5" y="400.34" width="14.59" height="6.76" fill="#32409c" />
<rect x="574.89" y="400.34" width="9.44" height="6.76" fill="#2e3890" />
<rect x="584.13" y="400.34" width="9.76" height="6.76" fill="#2a2e82" />
<rect x="593.69" y="400.34" width="6.71" height="6.76" fill="#2a2e82" />
<rect x="600.2" y="400.34" width="7.13" height="6.76" fill="#2a2e82" />
<rect x="607.13" y="400.34" width="7.24" height="6.76" fill="#2a2e82" />
<rect x="614.17" y="400.34" width="6.92" height="6.76" fill="#2a2e82" />
<rect x="620.89" y="400.34" width="7.87" height="6.76" fill="#2a2e82" />
<rect x="628.56" y="400.34" width="6.92" height="6.76" fill="#2a2e82" />
<rect x="635.28" y="400.34" width="7.45" height="6.76" fill="#2a2e82" />
<rect x="642.52" y="400.34" width="6.92" height="6.76" fill="#2a2e82" />
<rect x="649.25" y="400.34" width="7.34" height="6.76" fill="#2a2e82" />
<rect x="656.39" y="400.34" width="7.24" height="6.76" fill="#2a2e82" />
<rect x="663.43" y="400.34" width="6.92" height="6.76" fill="#2a2e82" />
<rect x="670.15" y="400.34" width="6.92" height="6.76" fill="#3a50b0" />
<rect x="676.87" y="400.34" width="7.13" height="6.76" fill="#3a50b0" />
<rect x="560.5" y="406.89" width="14.59" height="9.58" fill="#32409c" />
<rect x="574.89" y="406.89" width="9.44" height="9.58" fill="#2e3890" />
<rect x="584.13" y="406.89" width="9.76" height="9.58" fill="#2a2e82" />
<rect x="593.69" y="406.89" width="6.71" height="9.58" fill="#2a2e82" />
<rect x="600.2" y="406.89" width="7.13" height="9.58" fill="#2a2e82" />
<rect x="607.13" y="406.89" width="7.24" height="9.58" fill="#2a2e82" />
<rect x="614.17" y="406.89" width="6.92" height="9.58" fill="#2a2e82" />
<rect x="620.89" y="406.89" width="7.87" height="9.58" fill="#2a2e82" />
<rect x="628.56" y="406.89" width="6.92" height="9.58" fill="#2a2e82" />
<rect x="635.28" y="406.89" width="7.45" height="9.58" fill="#2a2e82" />
<rect x="642.52" y="406.89" width="6.92" height="9.58" fill="#2a2e82" />
<rect x="649.25" y="406.89" width="7.34" height="9.58" fill="#2a2e82" />
<rect x="656.39" y="406.89" width="7.24" height="9.58" fill="#2a2e82" />
<rect x="663.43" y="406.89" width="6.92" height="9.58" fill="#2a2e82" />
<rect x="670.15" y="406.89" width="6.92" height="9.58" fill="#3a50b0" />
<rect x="676.87" y="406.89" width="7.13" height="9.58" fill="#3a50b0" />
<rect x="560.5" y="416.27" width="14.59" height="8.73" fill="#32409c" />
<rect x="574.89" y="416.27" width="9.44" height="8.73" fill="#2e3890" />
<rect x="584.13" y="416.27" width="9.76" height="8.73" fill="#2a2e82" />
<rect x="593.69" y="416.27" width="6.71" height="8.73" fill="#2a2e82" />
<rect x="600.2" y="416.27" width="7.13" height="8.73" fill="#2a2e82" />
<rect x="607.13" y="416.27" width="7.24" height="8.73" fill="#2a2e82" />
<rect x="614.17" y="416.27" width="6.92" height="8.73" fill="#2a2e82" />
<rect x="620.89" y="416.27" width="7.87" height="8.73" fill="#2a2e82" />
<rect x="628.56" y="416.27" width="6.92" height="8.73" fill="#2a2e82" />
<rect x="635.28" y="416.27" width="7.45" height="8.73" fill="#2a2e82" />
<rect x="642.52" y="416.27" width="6.92" height="8.73" fill="#2a2e82" />
<rect x="649.25" y="416.27" width="7.34" height="8.73" fill="#2a2e82" />
<rect x="656.39" y="416.27" width="7.24" height="8.73" fill="#2a2e82" />
<rect x="663.43" y="416.27" width="6.92" height="8.73" fill="#2a2e82" />
<rect x="670.15" y="416.27" width="6.92" height="8.73" fill="#50b0e0" />
<rect x="676.87" y="416.27" width="7.13" height="8.73" fill="#3a50b0" />
<line x1="560.5" y1="363.32" x2="683.8" y2="363.32" stroke="#16162e" stroke-width="0.9" />
<line x1="560.5" y1="372.49" x2="683.8" y2="372.49" stroke="#16162e" stroke-width="0.9" />
<line x1="560.5" y1="378.76" x2="683.8" y2="378.76" stroke="#16162e" stroke-width="0.9" />
<line x1="560.5" y1="384.76" x2="683.8" y2="384.76" stroke="#16162e" stroke-width="0.9" />
<line x1="560.5" y1="389.27" x2="683.8" y2="389.27" stroke="#16162e" stroke-width="1.3" />
<line x1="560.5" y1="394.34" x2="683.8" y2="394.34" stroke="#16162e" stroke-width="0.9" />
<line x1="560.5" y1="400.34" x2="683.8" y2="400.34" stroke="#16162e" stroke-width="0.9" />
<line x1="560.5" y1="406.89" x2="683.8" y2="406.89" stroke="#16162e" stroke-width="0.9" />
<line x1="560.5" y1="416.27" x2="683.8" y2="416.27" stroke="#16162e" stroke-width="0.9" />
<line x1="574.89" y1="354.3" x2="574.89" y2="424.8" stroke="#16162e" stroke-width="0.8" />
<line x1="584.13" y1="354.3" x2="584.13" y2="424.8" stroke="#16162e" stroke-width="1.2" />
<line x1="593.69" y1="354.3" x2="593.69" y2="424.8" stroke="#16162e" stroke-width="0.8" />
<line x1="600.2" y1="354.3" x2="600.2" y2="424.8" stroke="#16162e" stroke-width="0.8" />
<line x1="607.13" y1="354.3" x2="607.13" y2="424.8" stroke="#16162e" stroke-width="0.8" />
<line x1="614.17" y1="354.3" x2="614.17" y2="424.8" stroke="#16162e" stroke-width="0.8" />
<line x1="620.89" y1="354.3" x2="620.89" y2="424.8" stroke="#16162e" stroke-width="0.8" />
<line x1="628.56" y1="354.3" x2="628.56" y2="424.8" stroke="#16162e" stroke-width="1.2" />
<line x1="635.28" y1="354.3" x2="635.28" y2="424.8" stroke="#16162e" stroke-width="0.8" />
<line x1="642.52" y1="354.3" x2="642.52" y2="424.8" stroke="#16162e" stroke-width="0.8" />
<line x1="649.25" y1="354.3" x2="649.25" y2="424.8" stroke="#16162e" stroke-width="0.8" />
<line x1="656.39" y1="354.3" x2="656.39" y2="424.8" stroke="#16162e" stroke-width="0.8" />
<line x1="663.43" y1="354.3" x2="663.43" y2="424.8" stroke="#16162e" stroke-width="0.8" />
<line x1="670.15" y1="354.3" x2="670.15" y2="424.8" stroke="#16162e" stroke-width="1.2" />
<line x1="676.87" y1="354.3" x2="676.87" y2="424.8" stroke="#16162e" stroke-width="0.8" />
<line x1="560.5" y1="350.1" x2="560.5" y2="429" stroke="#222" stroke-width="0.8" />
<line x1="683.8" y1="350.1" x2="683.8" y2="429" stroke="#444" stroke-width="0.8" />
<rect x="560.5" y="350.2" width="21.74" height="4.1" fill="#f09018" stroke="#3a2020" stroke-width="0.5"/>
<rect x="560.5" y="424.8" width="21.74" height="4.1" fill="#a81818" stroke="#3a2020" stroke-width="0.5"/>
<rect x="582.24" y="350.2" width="23.32" height="4.1" fill="#f8c818" stroke="#3a2020" stroke-width="0.5"/>
<rect x="582.24" y="424.8" width="23.32" height="4.1" fill="#e01820" stroke="#3a2020" stroke-width="0.5"/>
<rect x="605.56" y="350.2" width="22.69" height="4.1" fill="#b8d838" stroke="#3a2020" stroke-width="0.5"/>
<rect x="605.56" y="424.8" width="22.69" height="4.1" fill="#f08010" stroke="#3a2020" stroke-width="0.5"/>
<rect x="628.24" y="350.2" width="19.11" height="4.1" fill="#a8d048" stroke="#3a2020" stroke-width="0.5"/>
<rect x="628.24" y="424.8" width="19.11" height="4.1" fill="#f59a18" stroke="#3a2020" stroke-width="0.5"/>
<rect x="647.36" y="350.2" width="19.11" height="4.1" fill="#b0d040" stroke="#3a2020" stroke-width="0.5"/>
<rect x="647.36" y="424.8" width="19.11" height="4.1" fill="#f5b018" stroke="#3a2020" stroke-width="0.5"/>
<rect x="666.47" y="350.2" width="17.33" height="4.1" fill="#b0d040" stroke="#3a2020" stroke-width="0.5"/>
<rect x="666.47" y="424.8" width="17.33" height="4.1" fill="#f8b818" stroke="#3a2020" stroke-width="0.5"/>
<text x="158.6" y="210.3" font-size="14" text-anchor="middle" fill="#161616" stroke="#161616" stroke-width="0.38"><tspan font-style="italic">k</tspan> = 1</text>
<text x="528.3" y="210.3" font-size="14" text-anchor="middle" fill="#161616" stroke="#161616" stroke-width="0.38"><tspan font-style="italic">k</tspan> = 0.5</text>
<text x="160.2" y="442.8" font-size="14" text-anchor="middle" fill="#161616" stroke="#161616" stroke-width="0.38"><tspan font-style="italic">k</tspan> = 1</text>
<text x="528.3" y="442.6" font-size="14" text-anchor="middle" fill="#161616" stroke="#161616" stroke-width="0.38"><tspan font-style="italic">k</tspan> = 0.5</text>
<defs><linearGradient id="jet" x1="0" x2="1"><stop offset="0" stop-color="#2a2a78"/><stop offset="0.06" stop-color="#2e2e88"/><stop offset="0.12" stop-color="#3a48a0"/><stop offset="0.18" stop-color="#3e50a8"/><stop offset="0.25" stop-color="#3a68b8"/><stop offset="0.29" stop-color="#48a8e0"/><stop offset="0.33" stop-color="#50c0f0"/><stop offset="0.375" stop-color="#68c8e0"/><stop offset="0.43" stop-color="#90d0b0"/><stop offset="0.5" stop-color="#a8d060"/><stop offset="0.555" stop-color="#c8dc30"/><stop offset="0.63" stop-color="#f0e020"/><stop offset="0.69" stop-color="#f8c818"/><stop offset="0.75" stop-color="#f09018"/><stop offset="0.82" stop-color="#e84020"/><stop offset="0.88" stop-color="#e0141e"/><stop offset="0.94" stop-color="#b01818"/><stop offset="1" stop-color="#8b1a1a"/></linearGradient></defs>
<rect x="195.3" y="458.3" width="293.4" height="11" fill="url(#jet)" />
<rect x="231.48" y="458.3" width="1" height="1.3" fill="#3a3a3a" opacity="0.6"/>
<rect x="231.48" y="468" width="1" height="1.3" fill="#3a3a3a" opacity="0.6"/>
<rect x="268.15" y="458.3" width="1" height="1.3" fill="#3a3a3a" opacity="0.6"/>
<rect x="268.15" y="468" width="1" height="1.3" fill="#3a3a3a" opacity="0.6"/>
<rect x="304.82" y="458.3" width="1" height="1.3" fill="#3a3a3a" opacity="0.6"/>
<rect x="304.82" y="468" width="1" height="1.3" fill="#3a3a3a" opacity="0.6"/>
<rect x="341.5" y="458.3" width="1" height="1.3" fill="#3a3a3a" opacity="0.6"/>
<rect x="341.5" y="468" width="1" height="1.3" fill="#3a3a3a" opacity="0.6"/>
<rect x="378.18" y="458.3" width="1" height="1.3" fill="#3a3a3a" opacity="0.6"/>
<rect x="378.18" y="468" width="1" height="1.3" fill="#3a3a3a" opacity="0.6"/>
<rect x="414.85" y="458.3" width="1" height="1.3" fill="#3a3a3a" opacity="0.6"/>
<rect x="414.85" y="468" width="1" height="1.3" fill="#3a3a3a" opacity="0.6"/>
<rect x="451.52" y="458.3" width="1" height="1.3" fill="#3a3a3a" opacity="0.6"/>
<rect x="451.52" y="468" width="1" height="1.3" fill="#3a3a3a" opacity="0.6"/>
<text x="164.6" y="469.3" font-size="14" text-anchor="start" fill="#161616" stroke="#161616" stroke-width="0.38" >Min.</text>
<text x="494.2" y="469.3" font-size="14" text-anchor="start" fill="#161616" stroke="#161616" stroke-width="0.38" >Max.</text>
<text x="297.8" y="484" font-size="12" fill="#161616" stroke="#161616" stroke-width="0.38">Relative [IAA]<tspan font-size="8.2" dy="3" stroke-width="0.1">cell</tspan></text>
<line x1="98.5" y1="526.6" x2="136.5" y2="526.6" stroke="#3a5fb0" stroke-width="2" />
<line x1="98.5" y1="546.2" x2="136.5" y2="546.2" stroke="#6cbd3c" stroke-width="2" />
<text x="143.5" y="530.8" font-size="12" fill="#161616" stroke="#161616" stroke-width="0.38">[IAA]<tspan font-size="8.2" dy="3" stroke-width="0.1">cell upper side</tspan></text>
<text x="143.5" y="551.2" font-size="12" fill="#161616" stroke="#161616" stroke-width="0.38">[IAA]<tspan font-size="8.2" dy="3" stroke-width="0.1">cell lower side</tspan></text>
<line x1="151.2" y1="560.1" x2="151.2" y2="666.3" stroke="#404040" stroke-width="1.2" stroke-dasharray="3.6,2.6"/>
<polyline points="86,601.34 151.2,601.34 151.2,601.34 152.5,602.12 153.81,602.91 155.11,603.67 156.42,604.41 157.72,605.12 159.02,605.8 160.33,606.45 161.63,607.06 162.94,607.65 164.24,608.21 165.54,608.73 166.85,609.23 168.15,609.71 169.46,610.16 170.76,610.58 172.06,610.98 173.37,611.36 174.67,611.72 175.98,612.06 177.28,612.38 178.58,612.69 179.89,612.97 181.19,613.24 182.5,613.5 183.8,613.74 185.1,613.97 186.41,614.18 187.71,614.38 189.02,614.57 190.32,614.75 191.62,614.92 192.93,615.08 194.23,615.23 195.54,615.37 196.84,615.51 198.14,615.63 199.45,615.75 200.75,615.86 202.06,615.97 203.36,616.07 204.66,616.16 205.97,616.25 207.27,616.33 208.58,616.41 209.88,616.48 211.18,616.55 212.49,616.61 213.79,616.68 215.1,616.73 216.4,616.79 217.7,616.84 219.01,616.89 220.31,616.93 221.62,616.97 222.92,617.01 224.22,617.05 225.53,617.08 226.83,617.12 228.14,617.15 229.44,617.18 230.74,617.2 232.05,617.23 233.35,617.25 234.66,617.28 235.96,617.3 237.26,617.32 238.57,617.34 239.87,617.35 241.18,617.37 242.48,617.39 243.78,617.4 245.09,617.41 246.39,617.43 247.7,617.44 249,617.45 250.3,617.46 251.61,617.47 252.91,617.48 254.22,617.49 255.52,617.5 256.82,617.51 258.13,617.51 259.43,617.52 260.74,617.53 262.04,617.53 263.34,617.54 264.65,617.54 265.95,617.55 267.26,617.55 268.56,617.56 269.86,617.56 271.17,617.57 272.47,617.57 273.78,617.57 275.08,617.58 276.38,617.58 277.69,617.58 278.99,617.59 280.3,617.59 281.6,617.59" fill="none" stroke="#6cbd3c" stroke-width="2"/>
<polyline points="86,601.34 151.2,601.34 151.2,601.34 152.5,601.16 153.81,600.85 155.11,600.49 156.42,600.08 157.72,599.63 159.02,599.16 160.33,598.67 161.63,598.16 162.94,597.64 164.24,597.11 165.54,596.57 166.85,596.03 168.15,595.49 169.46,594.95 170.76,594.41 172.06,593.87 173.37,593.34 174.67,592.82 175.98,592.3 177.28,591.79 178.58,591.3 179.89,590.81 181.19,590.33 182.5,589.86 183.8,589.4 185.1,588.96 186.41,588.52 187.71,588.1 189.02,587.69 190.32,587.29 191.62,586.91 192.93,586.53 194.23,586.17 195.54,585.82 196.84,585.49 198.14,585.16 199.45,584.85 200.75,584.55 202.06,584.26 203.36,583.98 204.66,583.71 205.97,583.45 207.27,583.21 208.58,582.97 209.88,582.74 211.18,582.53 212.49,582.32 213.79,582.12 215.1,581.93 216.4,581.75 217.7,581.57 219.01,581.41 220.31,581.25 221.62,581.1 222.92,580.96 224.22,580.82 225.53,580.69 226.83,580.57 228.14,580.45 229.44,580.34 230.74,580.24 232.05,580.14 233.35,580.04 234.66,579.95 235.96,579.87 237.26,579.79 238.57,579.71 239.87,579.64 241.18,579.57 242.48,579.51 243.78,579.45 245.09,579.39 246.39,579.34 247.7,579.28 249,579.24 250.3,579.19 251.61,579.15 252.91,579.11 254.22,579.07 255.52,579.03 256.82,579 258.13,578.97 259.43,578.94 260.74,578.91 262.04,578.88 263.34,578.86 264.65,578.84 265.95,578.82 267.26,578.79 268.56,578.78 269.86,578.76 271.17,578.74 272.47,578.73 273.78,578.71 275.08,578.7 276.38,578.68 277.69,578.67 278.99,578.66 280.3,578.65 281.6,578.64" fill="none" stroke="#3a5fb0" stroke-width="2"/>
<rect x="85.6" y="560.1" width="195.9" height="106.2" fill="none" stroke="#231f20" stroke-width="1"/>
<line x1="81.6" y1="666.3" x2="85.6" y2="666.3" stroke="#231f20" stroke-width="1" />
<line x1="81.6" y1="648.6" x2="85.6" y2="648.6" stroke="#231f20" stroke-width="1" />
<line x1="81.6" y1="630.9" x2="85.6" y2="630.9" stroke="#231f20" stroke-width="1" />
<line x1="81.6" y1="613.2" x2="85.6" y2="613.2" stroke="#231f20" stroke-width="1" />
<line x1="81.6" y1="595.5" x2="85.6" y2="595.5" stroke="#231f20" stroke-width="1" />
<line x1="81.6" y1="577.8" x2="85.6" y2="577.8" stroke="#231f20" stroke-width="1" />
<line x1="81.6" y1="560.1" x2="85.6" y2="560.1" stroke="#231f20" stroke-width="1" />
<text x="76.1" y="564.9" font-size="13.5" text-anchor="end" fill="#161616" stroke="#161616" stroke-width="0.38" >0.6</text>
<text x="76.1" y="600.3" font-size="13.5" text-anchor="end" fill="#161616" stroke="#161616" stroke-width="0.38" >0.4</text>
<text x="76.1" y="635.7" font-size="13.5" text-anchor="end" fill="#161616" stroke="#161616" stroke-width="0.38" >0.2</text>
<text x="76.1" y="671.1" font-size="13.5" text-anchor="end" fill="#161616" stroke="#161616" stroke-width="0.38" >0</text>
<line x1="86" y1="666.3" x2="86" y2="670.8" stroke="#231f20" stroke-width="1" />
<line x1="118.6" y1="666.3" x2="118.6" y2="670.8" stroke="#231f20" stroke-width="1" />
<line x1="151.2" y1="666.3" x2="151.2" y2="670.8" stroke="#231f20" stroke-width="1" />
<line x1="183.8" y1="666.3" x2="183.8" y2="670.8" stroke="#231f20" stroke-width="1" />
<line x1="216.4" y1="666.3" x2="216.4" y2="670.8" stroke="#231f20" stroke-width="1" />
<line x1="249" y1="666.3" x2="249" y2="670.8" stroke="#231f20" stroke-width="1" />
<line x1="281.6" y1="666.3" x2="281.6" y2="670.8" stroke="#231f20" stroke-width="1" />
<text x="86" y="688.3" font-size="13.5" text-anchor="middle" fill="#161616" stroke="#161616" stroke-width="0.38" >−1000</text>
<text x="151.2" y="688.3" font-size="13.5" text-anchor="middle" fill="#161616" stroke="#161616" stroke-width="0.38" >0</text>
<text x="183.8" y="688.3" font-size="13.5" text-anchor="middle" fill="#161616" stroke="#161616" stroke-width="0.38" >500</text>
<text x="249" y="688.3" font-size="13.5" text-anchor="middle" fill="#161616" stroke="#161616" stroke-width="0.38" >1500</text>
<text x="184.5" y="706.8" font-size="13.5" text-anchor="middle" fill="#161616" stroke="#161616" stroke-width="0.38"><tspan font-style="italic">t</tspan> (s)</text>
<text x="117.8" y="661" font-size="12.2" text-anchor="middle" fill="#161616" stroke="#161616" stroke-width="0.38"><tspan font-style="italic">k</tspan> = 1</text>
<text x="215.7" y="661" font-size="12.2" text-anchor="middle" fill="#161616" stroke="#161616" stroke-width="0.38"><tspan font-style="italic">k</tspan> = 0.5</text>
<text transform="translate(43.6,613.7) rotate(-90)" x="0" y="0" font-size="14" text-anchor="middle" fill="#161616" stroke="#161616" stroke-width="0.38">[IAA]<tspan font-size="9.5" dy="3.2" stroke-width="0.12">cell</tspan></text>
<line x1="466.7" y1="526.6" x2="504.7" y2="526.6" stroke="#3a5fb0" stroke-width="2" />
<line x1="466.7" y1="546.2" x2="504.7" y2="546.2" stroke="#6cbd3c" stroke-width="2" />
<text x="511.7" y="530.8" font-size="12" fill="#161616" stroke="#161616" stroke-width="0.38">[IAA]<tspan font-size="8.2" dy="3" stroke-width="0.1">cell upper side</tspan></text>
<text x="511.7" y="551.2" font-size="12" fill="#161616" stroke="#161616" stroke-width="0.38">[IAA]<tspan font-size="8.2" dy="3" stroke-width="0.1">cell lower side</tspan></text>
<line x1="519.4" y1="560.1" x2="519.4" y2="666.3" stroke="#404040" stroke-width="1.2" stroke-dasharray="3.6,2.6"/>
<polyline points="454.2,571.43 519.4,571.43 519.4,571.43 520.7,572.17 522.01,573.1 523.31,574.08 524.62,575.08 525.92,576.09 527.22,577.08 528.53,578.05 529.83,578.99 531.14,579.9 532.44,580.77 533.74,581.62 535.05,582.42 536.35,583.19 537.66,583.92 538.96,584.62 540.26,585.27 541.57,585.9 542.87,586.49 544.18,587.04 545.48,587.57 546.78,588.06 548.09,588.53 549.39,588.96 550.7,589.37 552,589.75 553.3,590.11 554.61,590.45 555.91,590.76 557.22,591.06 558.52,591.33 559.82,591.59 561.13,591.82 562.43,592.05 563.74,592.25 565.04,592.44 566.34,592.62 567.65,592.79 568.95,592.94 570.26,593.08 571.56,593.22 572.86,593.34 574.17,593.45 575.47,593.56 576.78,593.66 578.08,593.75 579.38,593.83 580.69,593.91 581.99,593.98 583.3,594.04 584.6,594.1 585.9,594.16 587.21,594.21 588.51,594.26 589.82,594.3 591.12,594.34 592.42,594.38 593.73,594.41 595.03,594.45 596.34,594.47 597.64,594.5 598.94,594.53 600.25,594.55 601.55,594.57 602.86,594.59 604.16,594.61 605.46,594.62 606.77,594.64 608.07,594.65 609.38,594.66 610.68,594.67 611.98,594.68 613.29,594.69 614.59,594.7 615.9,594.71 617.2,594.72 618.5,594.72 619.81,594.73 621.11,594.73 622.42,594.74 623.72,594.74 625.02,594.75 626.33,594.75 627.63,594.76 628.94,594.76 630.24,594.76 631.54,594.76 632.85,594.77 634.15,594.77 635.46,594.77 636.76,594.77 638.06,594.78 639.37,594.78 640.67,594.78 641.98,594.78 643.28,594.78 644.58,594.78 645.89,594.78 647.19,594.78 648.5,594.78 649.8,594.78" fill="none" stroke="#6cbd3c" stroke-width="2"/>
<polyline points="454.2,627.89 519.4,627.89 519.4,627.89 520.7,627.57 522.01,627.2 523.31,626.81 524.62,626.41 525.92,626.01 527.22,625.61 528.53,625.22 529.83,624.84 531.14,624.46 532.44,624.1 533.74,623.74 535.05,623.4 536.35,623.06 537.66,622.74 538.96,622.42 540.26,622.12 541.57,621.82 542.87,621.54 544.18,621.27 545.48,621.01 546.78,620.76 548.09,620.51 549.39,620.28 550.7,620.06 552,619.85 553.3,619.64 554.61,619.44 555.91,619.26 557.22,619.08 558.52,618.9 559.82,618.74 561.13,618.58 562.43,618.43 563.74,618.29 565.04,618.15 566.34,618.02 567.65,617.89 568.95,617.77 570.26,617.66 571.56,617.55 572.86,617.45 574.17,617.35 575.47,617.25 576.78,617.16 578.08,617.08 579.38,617 580.69,616.92 581.99,616.85 583.3,616.78 584.6,616.71 585.9,616.65 587.21,616.59 588.51,616.53 589.82,616.48 591.12,616.43 592.42,616.38 593.73,616.33 595.03,616.29 596.34,616.24 597.64,616.2 598.94,616.17 600.25,616.13 601.55,616.1 602.86,616.07 604.16,616.03 605.46,616.01 606.77,615.98 608.07,615.95 609.38,615.93 610.68,615.9 611.98,615.88 613.29,615.86 614.59,615.84 615.9,615.82 617.2,615.81 618.5,615.79 619.81,615.77 621.11,615.76 622.42,615.74 623.72,615.73 625.02,615.72 626.33,615.7 627.63,615.69 628.94,615.68 630.24,615.67 631.54,615.66 632.85,615.65 634.15,615.64 635.46,615.64 636.76,615.63 638.06,615.62 639.37,615.61 640.67,615.61 641.98,615.6 643.28,615.6 644.58,615.59 645.89,615.59 647.19,615.58 648.5,615.58 649.8,615.57" fill="none" stroke="#3a5fb0" stroke-width="2"/>
<rect x="453.8" y="560.1" width="195.9" height="106.2" fill="none" stroke="#231f20" stroke-width="1"/>
<line x1="449.8" y1="666.3" x2="453.8" y2="666.3" stroke="#231f20" stroke-width="1" />
<line x1="449.8" y1="648.6" x2="453.8" y2="648.6" stroke="#231f20" stroke-width="1" />
<line x1="449.8" y1="630.9" x2="453.8" y2="630.9" stroke="#231f20" stroke-width="1" />
<line x1="449.8" y1="613.2" x2="453.8" y2="613.2" stroke="#231f20" stroke-width="1" />
<line x1="449.8" y1="595.5" x2="453.8" y2="595.5" stroke="#231f20" stroke-width="1" />
<line x1="449.8" y1="577.8" x2="453.8" y2="577.8" stroke="#231f20" stroke-width="1" />
<line x1="449.8" y1="560.1" x2="453.8" y2="560.1" stroke="#231f20" stroke-width="1" />
<text x="444.3" y="564.9" font-size="13.5" text-anchor="end" fill="#161616" stroke="#161616" stroke-width="0.38" >0.6</text>
<text x="444.3" y="600.3" font-size="13.5" text-anchor="end" fill="#161616" stroke="#161616" stroke-width="0.38" >0.4</text>
<text x="444.3" y="635.7" font-size="13.5" text-anchor="end" fill="#161616" stroke="#161616" stroke-width="0.38" >0.2</text>
<text x="444.3" y="671.1" font-size="13.5" text-anchor="end" fill="#161616" stroke="#161616" stroke-width="0.38" >0</text>
<line x1="454.2" y1="666.3" x2="454.2" y2="670.8" stroke="#231f20" stroke-width="1" />
<line x1="486.8" y1="666.3" x2="486.8" y2="670.8" stroke="#231f20" stroke-width="1" />
<line x1="519.4" y1="666.3" x2="519.4" y2="670.8" stroke="#231f20" stroke-width="1" />
<line x1="552" y1="666.3" x2="552" y2="670.8" stroke="#231f20" stroke-width="1" />
<line x1="584.6" y1="666.3" x2="584.6" y2="670.8" stroke="#231f20" stroke-width="1" />
<line x1="617.2" y1="666.3" x2="617.2" y2="670.8" stroke="#231f20" stroke-width="1" />
<line x1="649.8" y1="666.3" x2="649.8" y2="670.8" stroke="#231f20" stroke-width="1" />
<text x="454.2" y="688.3" font-size="13.5" text-anchor="middle" fill="#161616" stroke="#161616" stroke-width="0.38" >−1000</text>
<text x="519.4" y="688.3" font-size="13.5" text-anchor="middle" fill="#161616" stroke="#161616" stroke-width="0.38" >0</text>
<text x="552" y="688.3" font-size="13.5" text-anchor="middle" fill="#161616" stroke="#161616" stroke-width="0.38" >500</text>
<text x="617.2" y="688.3" font-size="13.5" text-anchor="middle" fill="#161616" stroke="#161616" stroke-width="0.38" >1500</text>
<text x="552.7" y="706.8" font-size="13.5" text-anchor="middle" fill="#161616" stroke="#161616" stroke-width="0.38"><tspan font-style="italic">t</tspan> (s)</text>
<text x="486" y="661" font-size="12.2" text-anchor="middle" fill="#161616" stroke="#161616" stroke-width="0.38"><tspan font-style="italic">k</tspan> = 1</text>
<text x="583.9" y="661" font-size="12.2" text-anchor="middle" fill="#161616" stroke="#161616" stroke-width="0.38"><tspan font-style="italic">k</tspan> = 0.5</text>
<text transform="translate(411.8,613.7) rotate(-90)" x="0" y="0" font-size="14" text-anchor="middle" fill="#161616" stroke="#161616" stroke-width="0.38">[IAA]<tspan font-size="9.5" dy="3.2" stroke-width="0.12">cell</tspan></text>
<line x1="45.5" y1="897.7" x2="110.1" y2="897.7" stroke="#e5323e" stroke-width="1.1" stroke-dasharray="1.3,1.4"/>
<line x1="238.9" y1="897.7" x2="325.8" y2="897.7" stroke="#e5323e" stroke-width="1.1" stroke-dasharray="1.3,1.4"/>
<line x1="45.5" y1="933.4" x2="96.3" y2="933.4" stroke="#231f20" stroke-width="1" stroke-dasharray="1.2,1.4"/>
<line x1="201.7" y1="933.4" x2="325.8" y2="933.4" stroke="#231f20" stroke-width="1" stroke-dasharray="1.2,1.4"/>
<line x1="45.5" y1="967.2" x2="159" y2="967.2" stroke="#231f20" stroke-width="1" stroke-dasharray="2.2,2.8"/>
<line x1="173.6" y1="978" x2="173.6" y2="1020.4" stroke="#231f20" stroke-width="1" stroke-dasharray="1.5,2.2"/>
<rect x="130.8" y="903.4" width="40.8" height="44.7" fill="#8a8a8a" stroke="#2a2a2a" stroke-width="1"/>
<line x1="156.1" y1="806.6" x2="156.1" y2="972.6" stroke="#4a4a4a" stroke-width="1" />
<line x1="153.5" y1="806.6" x2="158.7" y2="806.6" stroke="#4a4a4a" stroke-width="1.3" />
<line x1="153.5" y1="972.6" x2="158.7" y2="972.6" stroke="#4a4a4a" stroke-width="1.3" />
<line x1="96.3" y1="933.3" x2="201.7" y2="933.3" stroke="#3a3a3a" stroke-width="1" />
<line x1="96.3" y1="930.5" x2="96.3" y2="936.1" stroke="#3a3a3a" stroke-width="1.4" />
<line x1="201.7" y1="930.5" x2="201.7" y2="936.1" stroke="#3a3a3a" stroke-width="1.4" />
<rect x="167.6" y="863" width="12.8" height="56.2" fill="#f8d4da" stroke="#e5323e" stroke-width="1"/>
<line x1="173.6" y1="770" x2="173.6" y2="977.2" stroke="#e5323e" stroke-width="1" />
<line x1="171" y1="770" x2="176.2" y2="770" stroke="#e5323e" stroke-width="1" />
<line x1="110.1" y1="897.7" x2="238.9" y2="897.7" stroke="#e8404c" stroke-width="1.3" />
<line x1="110.1" y1="894.7" x2="110.1" y2="900.7" stroke="#e8404c" stroke-width="1.82" />
<line x1="238.9" y1="894.7" x2="238.9" y2="900.7" stroke="#e8404c" stroke-width="1.82" />
<line x1="169.3" y1="907.6" x2="169.3" y2="990.4" stroke="#3a3a3a" stroke-width="1" />
<line x1="166.7" y1="907.6" x2="171.9" y2="907.6" stroke="#3a3a3a" stroke-width="1.3" />
<line x1="166.7" y1="990.4" x2="171.9" y2="990.4" stroke="#3a3a3a" stroke-width="1.3" />
<line x1="180.4" y1="925.7" x2="180.4" y2="994.6" stroke="#e5323e" stroke-width="1" />
<line x1="177.8" y1="925.7" x2="183" y2="925.7" stroke="#e5323e" stroke-width="1.3" />
<line x1="177.8" y1="994.6" x2="183" y2="994.6" stroke="#e5323e" stroke-width="1.3" />
<rect x="172.6" y="958.2" width="21.2" height="16.7" fill="#f8d4da" stroke="#e5323e" stroke-width="1"/>
<line x1="125.3" y1="969.3" x2="267.1" y2="969.3" stroke="#3a3a3a" stroke-width="1" />
<line x1="125.3" y1="966.5" x2="125.3" y2="972.1" stroke="#3a3a3a" stroke-width="1.4" />
<line x1="267.1" y1="966.5" x2="267.1" y2="972.1" stroke="#3a3a3a" stroke-width="1.4" />
<line x1="141" y1="968.3" x2="300.8" y2="968.3" stroke="#e5323e" stroke-width="1.4" />
<line x1="141" y1="965.5" x2="141" y2="971.1" stroke="#e5323e" stroke-width="1.96" />
<line x1="300.8" y1="965.5" x2="300.8" y2="971.1" stroke="#e5323e" stroke-width="1.96" />
<polyline points="50.8,1013 57.37,1006.54 63.94,1000.97 70.51,995.49 77.08,990.21 83.65,984.96 90.22,979.98 96.79,975.11 103.36,970.15 109.93,965.27 116.5,960.13 123.07,955.62 129.64,950.94 136.21,946.11 142.79,941.71 149.36,937.39 155.93,932.69 162.5,928.47 169.07,923.96 175.64,920.14 182.21,916.02 188.78,911.42 195.35,906.91 201.92,902.72 208.49,898.21 215.06,894.01 221.63,890.44 228.2,886.4" fill="none" stroke="#e0651c" stroke-width="1.8"/>
<circle cx="50.8" cy="1013" r="2.4" fill="#e0651c"/>
<circle cx="57.37" cy="1006.54" r="2.4" fill="#e0651c"/>
<circle cx="63.94" cy="1000.97" r="2.4" fill="#e0651c"/>
<circle cx="70.51" cy="995.49" r="2.4" fill="#e0651c"/>
<circle cx="77.08" cy="990.21" r="2.4" fill="#e0651c"/>
<circle cx="83.65" cy="984.96" r="2.4" fill="#e0651c"/>
<circle cx="90.22" cy="979.98" r="2.4" fill="#e0651c"/>
<circle cx="96.79" cy="975.11" r="2.4" fill="#e0651c"/>
<circle cx="103.36" cy="970.15" r="2.4" fill="#e0651c"/>
<circle cx="109.93" cy="965.27" r="2.4" fill="#e0651c"/>
<circle cx="116.5" cy="960.13" r="2.4" fill="#e0651c"/>
<circle cx="123.07" cy="955.62" r="2.4" fill="#e0651c"/>
<circle cx="129.64" cy="950.94" r="2.4" fill="#e0651c"/>
<circle cx="136.21" cy="946.11" r="2.4" fill="#e0651c"/>
<circle cx="142.79" cy="941.71" r="2.4" fill="#e0651c"/>
<circle cx="149.36" cy="937.39" r="2.4" fill="#e0651c"/>
<circle cx="155.93" cy="932.69" r="2.4" fill="#e0651c"/>
<circle cx="162.5" cy="928.47" r="2.4" fill="#e0651c"/>
<circle cx="169.07" cy="923.96" r="2.4" fill="#e0651c"/>
<circle cx="175.64" cy="920.14" r="2.4" fill="#e0651c"/>
<circle cx="182.21" cy="916.02" r="2.4" fill="#e0651c"/>
<circle cx="188.78" cy="911.42" r="2.4" fill="#e0651c"/>
<circle cx="195.35" cy="906.91" r="2.4" fill="#e0651c"/>
<circle cx="201.92" cy="902.72" r="2.4" fill="#e0651c"/>
<circle cx="208.49" cy="898.21" r="2.4" fill="#e0651c"/>
<circle cx="215.06" cy="894.01" r="2.4" fill="#e0651c"/>
<circle cx="221.63" cy="890.44" r="2.4" fill="#e0651c"/>
<circle cx="228.2" cy="886.4" r="2.4" fill="#e0651c"/>
<polyline points="50.8,1018.2 57.26,1015.12 63.73,1012.14 70.19,1008.91 76.65,1005.93 83.11,1003.09 89.58,1000.55 96.04,997.33 102.5,994.44 108.97,991.44 115.43,989.19 121.89,986.9 128.36,984.36 134.82,981.81 141.28,979.37 147.74,976.75 154.21,974.46 160.67,972.03 167.13,969.61 173.6,967.18 180.06,964.76 186.52,962.33 192.99,959.83 199.45,957.46 205.91,955.46 212.37,952.88 218.84,950.82 225.3,948.7" fill="none" stroke="#1a8ccc" stroke-width="1.8"/>
<circle cx="50.8" cy="1018.2" r="2.4" fill="#1a8ccc"/>
<circle cx="57.26" cy="1015.12" r="2.4" fill="#1a8ccc"/>
<circle cx="63.73" cy="1012.14" r="2.4" fill="#1a8ccc"/>
<circle cx="70.19" cy="1008.91" r="2.4" fill="#1a8ccc"/>
<circle cx="76.65" cy="1005.93" r="2.4" fill="#1a8ccc"/>
<circle cx="83.11" cy="1003.09" r="2.4" fill="#1a8ccc"/>
<circle cx="89.58" cy="1000.55" r="2.4" fill="#1a8ccc"/>
<circle cx="96.04" cy="997.33" r="2.4" fill="#1a8ccc"/>
<circle cx="102.5" cy="994.44" r="2.4" fill="#1a8ccc"/>
<circle cx="108.97" cy="991.44" r="2.4" fill="#1a8ccc"/>
<circle cx="115.43" cy="989.19" r="2.4" fill="#1a8ccc"/>
<circle cx="121.89" cy="986.9" r="2.4" fill="#1a8ccc"/>
<circle cx="128.36" cy="984.36" r="2.4" fill="#1a8ccc"/>
<circle cx="134.82" cy="981.81" r="2.4" fill="#1a8ccc"/>
<circle cx="141.28" cy="979.37" r="2.4" fill="#1a8ccc"/>
<circle cx="147.74" cy="976.75" r="2.4" fill="#1a8ccc"/>
<circle cx="154.21" cy="974.46" r="2.4" fill="#1a8ccc"/>
<circle cx="160.67" cy="972.03" r="2.4" fill="#1a8ccc"/>
<circle cx="167.13" cy="969.61" r="2.4" fill="#1a8ccc"/>
<circle cx="173.6" cy="967.18" r="2.4" fill="#1a8ccc"/>
<circle cx="180.06" cy="964.76" r="2.4" fill="#1a8ccc"/>
<circle cx="186.52" cy="962.33" r="2.4" fill="#1a8ccc"/>
<circle cx="192.99" cy="959.83" r="2.4" fill="#1a8ccc"/>
<circle cx="199.45" cy="957.46" r="2.4" fill="#1a8ccc"/>
<circle cx="205.91" cy="955.46" r="2.4" fill="#1a8ccc"/>
<circle cx="212.37" cy="952.88" r="2.4" fill="#1a8ccc"/>
<circle cx="218.84" cy="950.82" r="2.4" fill="#1a8ccc"/>
<circle cx="225.3" cy="948.7" r="2.4" fill="#1a8ccc"/>
<rect x="159.4" y="956.9" width="25.4" height="21" fill="#7a7a7a" stroke="#2a2a2a" stroke-width="1" fill-opacity="0.8"/>
<rect x="45.5" y="748.6" width="255.5" height="271.8" fill="none" stroke="#231f20" stroke-width="1"/>
<line x1="37.5" y1="1020.4" x2="45.5" y2="1020.4" stroke="#231f20" stroke-width="1.1" />
<text x="32.6" y="1025.3" font-size="13.5" text-anchor="end" fill="#161616" stroke="#161616" stroke-width="0.38" >0</text>
<line x1="37.5" y1="966.04" x2="45.5" y2="966.04" stroke="#231f20" stroke-width="1.1" />
<text x="32.6" y="970.94" font-size="13.5" text-anchor="end" fill="#161616" stroke="#161616" stroke-width="0.38" >1</text>
<line x1="37.5" y1="911.68" x2="45.5" y2="911.68" stroke="#231f20" stroke-width="1.1" />
<text x="32.6" y="916.58" font-size="13.5" text-anchor="end" fill="#161616" stroke="#161616" stroke-width="0.38" >2</text>
<line x1="37.5" y1="857.32" x2="45.5" y2="857.32" stroke="#231f20" stroke-width="1.1" />
<text x="32.6" y="862.22" font-size="13.5" text-anchor="end" fill="#161616" stroke="#161616" stroke-width="0.38" >3</text>
<line x1="37.5" y1="802.96" x2="45.5" y2="802.96" stroke="#231f20" stroke-width="1.1" />
<text x="32.6" y="807.86" font-size="13.5" text-anchor="end" fill="#161616" stroke="#161616" stroke-width="0.38" >4</text>
<line x1="37.5" y1="748.6" x2="45.5" y2="748.6" stroke="#231f20" stroke-width="1.1" />
<text x="32.6" y="753.5" font-size="13.5" text-anchor="end" fill="#161616" stroke="#161616" stroke-width="0.38" >5</text>
<line x1="45.6" y1="1020.4" x2="45.6" y2="1028.4" stroke="#231f20" stroke-width="1.1" />
<text x="45.6" y="1045" font-size="13.5" text-anchor="middle" fill="#161616" stroke="#161616" stroke-width="0.38" >0</text>
<line x1="109.4" y1="1020.4" x2="109.4" y2="1028.4" stroke="#231f20" stroke-width="1.1" />
<text x="109.4" y="1045" font-size="13.5" text-anchor="middle" fill="#161616" stroke="#161616" stroke-width="0.38" >0.5</text>
<line x1="173.2" y1="1020.4" x2="173.2" y2="1028.4" stroke="#231f20" stroke-width="1.1" />
<text x="173.2" y="1045" font-size="13.5" text-anchor="middle" fill="#161616" stroke="#161616" stroke-width="0.38" >1</text>
<line x1="237" y1="1020.4" x2="237" y2="1028.4" stroke="#231f20" stroke-width="1.1" />
<text x="237" y="1045" font-size="13.5" text-anchor="middle" fill="#161616" stroke="#161616" stroke-width="0.38" >1.5</text>
<line x1="300.8" y1="1020.4" x2="300.8" y2="1028.4" stroke="#231f20" stroke-width="1.1" />
<text x="300.8" y="1045" font-size="13.5" text-anchor="middle" fill="#161616" stroke="#161616" stroke-width="0.38" >2</text>
<text x="174" y="1067.3" font-size="14" text-anchor="middle" fill="#161616" stroke="#161616" stroke-width="0.38"><tspan font-style="italic">k</tspan>, signal ratio</text>
<text x="174" y="1084.6" font-size="14" text-anchor="middle" fill="#161616" stroke="#161616" stroke-width="0.38" >PIN2 upper/lower</text>
<text transform="translate(13.6,884.5) rotate(-90)" font-size="14" text-anchor="middle" fill="#161616" stroke="#161616" stroke-width="0.38">[IAA] lower/upper</text>
<text x="52.6" y="766.4" font-size="12.3" text-anchor="start" fill="#161616" stroke="#161616" stroke-width="0.38" >Simulation</text>
<line x1="53.4" y1="775.9" x2="65" y2="775.9" stroke="#e0651c" stroke-width="1.6" />
<circle cx="59.2" cy="775.9" r="2" fill="#e0651c"/>
<text x="71.2" y="780.2" font-size="12.3" text-anchor="start" fill="#161616" stroke="#161616" stroke-width="0.38" >Stimulus 90′</text>
<line x1="53.4" y1="790.3" x2="65" y2="790.3" stroke="#1a8ccc" stroke-width="1.6" />
<circle cx="59.2" cy="790.3" r="2" fill="#1a8ccc"/>
<text x="71.2" y="794.6" font-size="12.3" text-anchor="start" fill="#161616" stroke="#161616" stroke-width="0.38" >No stimulus</text>
<text x="217.1" y="764.8" font-size="12.3" text-anchor="start" fill="#161616" stroke="#161616" stroke-width="0.38" >Experiment</text>
<rect x="217.9" y="771.4" width="8.6" height="8.3" fill="#8a8a8a" stroke="#2a2a2a" stroke-width="1"/>
<text x="232.3" y="779.7" font-size="12.3" text-anchor="start" fill="#161616" stroke="#161616" stroke-width="0.38" >Control</text>
<rect x="217.9" y="785.7" width="8.6" height="8.3" fill="#f4a6ae" stroke="#e5323e" stroke-width="1"/>
<text x="232.3" y="794.6" font-size="12.3" text-anchor="start" fill="#161616" stroke="#161616" stroke-width="0.38" >eBL</text>
<rect x="413.3" y="749" width="12.9" height="273.3" fill="#7a7878" />
<rect x="426.2" y="749" width="6.8" height="273.3" fill="#b2dcf2" />
<rect x="433" y="749" width="14.6" height="273.3" fill="#c6b8c2" />
<rect x="447.6" y="749" width="56" height="273.3" fill="#f4a8a8" />
<line x1="413.3" y1="749" x2="413.3" y2="1022.3" stroke="#9a8a90" stroke-width="0.6" stroke-dasharray="1,1"/>
<line x1="426.2" y1="749" x2="426.2" y2="1022.3" stroke="#9a8a90" stroke-width="0.6" stroke-dasharray="1,1"/>
<line x1="433" y1="749" x2="433" y2="1022.3" stroke="#9a8a90" stroke-width="0.6" stroke-dasharray="1,1"/>
<line x1="447.6" y1="749" x2="447.6" y2="1022.3" stroke="#9a8a90" stroke-width="0.6" stroke-dasharray="1,1"/>
<line x1="503.6" y1="749" x2="503.6" y2="1022.3" stroke="#9a8a90" stroke-width="0.6" stroke-dasharray="1,1"/>
<line x1="453.2" y1="749" x2="453.2" y2="1022.3" stroke="#231f20" stroke-width="1" stroke-dasharray="3.5,2.5"/>
<line x1="325.8" y1="897.7" x2="573" y2="897.7" stroke="#e5323e" stroke-width="1.1" />
<line x1="325.8" y1="933.6" x2="573" y2="933.6" stroke="#231f20" stroke-width="1" />
<text x="327" y="896.6" font-size="12" fill="#e5323e" stroke="#e5323e" stroke-width="0.38">Median</text>
<text x="327" y="908.6" font-size="12" fill="#e5323e" stroke="#e5323e" stroke-width="0.38">R2D2 eBL 90′</text>
<text x="327" y="931.6" font-size="12" text-anchor="start" fill="#161616" stroke="#161616" stroke-width="0.38" >Median</text>
<text x="327" y="944.2" font-size="12" text-anchor="start" fill="#161616" stroke="#161616" stroke-width="0.38" >R2D2 control</text>
<text x="327" y="958.7" font-size="12" text-anchor="start" fill="#161616" stroke="#161616" stroke-width="0.38" >90′</text>
<line x1="336.8" y1="967.6" x2="569.8" y2="967.6" stroke="#a2a4a4" stroke-width="4.6" />
<line x1="336.8" y1="967.6" x2="569.8" y2="967.6" stroke="#3c6c6e" stroke-width="1.6" />
<clipPath id="hclip"><rect x="325.8" y="749.0" width="247.2" height="273.29999999999995"/></clipPath>
<g clip-path="url(#hclip)">
<circle cx="336.7" cy="967.6" r="2.6" fill="#1ab2ba"/>
<circle cx="348.38" cy="967.6" r="2.6" fill="#1ab2ba"/>
<circle cx="363.82" cy="967.6" r="2.6" fill="#1ab2ba"/>
<circle cx="375.5" cy="967.6" r="2.6" fill="#1ab2ba"/>
<circle cx="387.18" cy="967.6" r="2.6" fill="#1ab2ba"/>
<circle cx="402.62" cy="967.6" r="2.6" fill="#1ab2ba"/>
<circle cx="414.3" cy="967.6" r="2.6" fill="#1ab2ba"/>
<circle cx="425.98" cy="967.6" r="2.6" fill="#1ab2ba"/>
<circle cx="441.42" cy="967.6" r="2.6" fill="#1ab2ba"/>
<circle cx="453.1" cy="967.6" r="2.6" fill="#1ab2ba"/>
<circle cx="464.78" cy="967.6" r="2.6" fill="#1ab2ba"/>
<circle cx="480.22" cy="967.6" r="2.6" fill="#1ab2ba"/>
<circle cx="491.9" cy="967.6" r="2.6" fill="#1ab2ba"/>
<circle cx="503.58" cy="967.6" r="2.6" fill="#1ab2ba"/>
<circle cx="519.02" cy="967.6" r="2.6" fill="#1ab2ba"/>
<circle cx="530.7" cy="967.6" r="2.6" fill="#1ab2ba"/>
<circle cx="542.38" cy="967.6" r="2.6" fill="#1ab2ba"/>
<circle cx="557.82" cy="967.6" r="2.6" fill="#1ab2ba"/>
<circle cx="569.5" cy="967.6" r="2.6" fill="#1ab2ba"/>
<polyline points="336.7,967 348.38,967 363.82,966.8 375.5,966.5 387.18,964 402.62,960.4 414.3,954.3 425.98,942 441.42,925.4 453.1,915.2 464.78,907.9 480.22,902.9 491.9,900.6 503.58,900 519.02,900 530.7,901.2 542.38,902 557.82,904.1 569.5,905" fill="none" stroke="#14b6be" stroke-width="1.5"/>
<circle cx="336.7" cy="967" r="2.4" fill="#14b6be"/>
<circle cx="348.38" cy="967" r="2.4" fill="#14b6be"/>
<circle cx="363.82" cy="966.8" r="2.4" fill="#14b6be"/>
<circle cx="375.5" cy="966.5" r="2.4" fill="#14b6be"/>
<circle cx="387.18" cy="964" r="2.4" fill="#14b6be"/>
<circle cx="402.62" cy="960.4" r="2.4" fill="#14b6be"/>
<circle cx="414.3" cy="954.3" r="2.4" fill="#14b6be"/>
<circle cx="425.98" cy="942" r="2.4" fill="#14b6be"/>
<circle cx="441.42" cy="925.4" r="2.4" fill="#14b6be"/>
<circle cx="453.1" cy="915.2" r="2.4" fill="#14b6be"/>
<circle cx="464.78" cy="907.9" r="2.4" fill="#14b6be"/>
<circle cx="480.22" cy="902.9" r="2.4" fill="#14b6be"/>
<circle cx="491.9" cy="900.6" r="2.4" fill="#14b6be"/>
<circle cx="503.58" cy="900" r="2.4" fill="#14b6be"/>
<circle cx="519.02" cy="900" r="2.4" fill="#14b6be"/>
<circle cx="530.7" cy="901.2" r="2.4" fill="#14b6be"/>
<circle cx="542.38" cy="902" r="2.4" fill="#14b6be"/>
<circle cx="557.82" cy="904.1" r="2.4" fill="#14b6be"/>
<circle cx="569.5" cy="905" r="2.4" fill="#14b6be"/>
<polyline points="336.7,966.3 348.38,966.3 363.82,966 375.5,965.5 387.18,963 402.62,958.7 414.3,950.8 425.98,937.7 441.42,916.6 453.1,902.9 464.78,893.3 480.22,886.6 491.9,884 503.58,883.1 519.02,883.1 530.7,884 542.38,885.1 557.82,886.9 569.5,888" fill="none" stroke="#1a9ea0" stroke-width="1.5"/>
<circle cx="336.7" cy="966.3" r="2.4" fill="#1a9ea0"/>
<circle cx="348.38" cy="966.3" r="2.4" fill="#1a9ea0"/>
<circle cx="363.82" cy="966" r="2.4" fill="#1a9ea0"/>
<circle cx="375.5" cy="965.5" r="2.4" fill="#1a9ea0"/>
<circle cx="387.18" cy="963" r="2.4" fill="#1a9ea0"/>
<circle cx="402.62" cy="958.7" r="2.4" fill="#1a9ea0"/>
<circle cx="414.3" cy="950.8" r="2.4" fill="#1a9ea0"/>
<circle cx="425.98" cy="937.7" r="2.4" fill="#1a9ea0"/>
<circle cx="441.42" cy="916.6" r="2.4" fill="#1a9ea0"/>
<circle cx="453.1" cy="902.9" r="2.4" fill="#1a9ea0"/>
<circle cx="464.78" cy="893.3" r="2.4" fill="#1a9ea0"/>
<circle cx="480.22" cy="886.6" r="2.4" fill="#1a9ea0"/>
<circle cx="491.9" cy="884" r="2.4" fill="#1a9ea0"/>
<circle cx="503.58" cy="883.1" r="2.4" fill="#1a9ea0"/>
<circle cx="519.02" cy="883.1" r="2.4" fill="#1a9ea0"/>
<circle cx="530.7" cy="884" r="2.4" fill="#1a9ea0"/>
<circle cx="542.38" cy="885.1" r="2.4" fill="#1a9ea0"/>
<circle cx="557.82" cy="886.9" r="2.4" fill="#1a9ea0"/>
<circle cx="569.5" cy="888" r="2.4" fill="#1a9ea0"/>
<polyline points="336.7,965.5 348.38,965.5 363.82,965 375.5,964.5 387.18,962 402.62,956 414.3,947.3 425.98,932.4 441.42,907.3 453.1,891 464.78,879.3 480.22,870.5 491.9,867.6 503.58,865.5 519.02,865.5 530.7,866.4 542.38,867.9 557.82,869.9 569.5,870.8" fill="none" stroke="#146a68" stroke-width="1.5"/>
<circle cx="336.7" cy="965.5" r="2.4" fill="#146a68"/>
<circle cx="348.38" cy="965.5" r="2.4" fill="#146a68"/>
<circle cx="363.82" cy="965" r="2.4" fill="#146a68"/>
<circle cx="375.5" cy="964.5" r="2.4" fill="#146a68"/>
<circle cx="387.18" cy="962" r="2.4" fill="#146a68"/>
<circle cx="402.62" cy="956" r="2.4" fill="#146a68"/>
<circle cx="414.3" cy="947.3" r="2.4" fill="#146a68"/>
<circle cx="425.98" cy="932.4" r="2.4" fill="#146a68"/>
<circle cx="441.42" cy="907.3" r="2.4" fill="#146a68"/>
<circle cx="453.1" cy="891" r="2.4" fill="#146a68"/>
<circle cx="464.78" cy="879.3" r="2.4" fill="#146a68"/>
<circle cx="480.22" cy="870.5" r="2.4" fill="#146a68"/>
<circle cx="491.9" cy="867.6" r="2.4" fill="#146a68"/>
<circle cx="503.58" cy="865.5" r="2.4" fill="#146a68"/>
<circle cx="519.02" cy="865.5" r="2.4" fill="#146a68"/>
<circle cx="530.7" cy="866.4" r="2.4" fill="#146a68"/>
<circle cx="542.38" cy="867.9" r="2.4" fill="#146a68"/>
<circle cx="557.82" cy="869.9" r="2.4" fill="#146a68"/>
<circle cx="569.5" cy="870.8" r="2.4" fill="#146a68"/>
<polyline points="336.7,964.5 348.38,964.5 363.82,963.8 375.5,963 387.18,960.4 402.62,952.6 414.3,940 425.98,918.4 441.42,881.6 453.1,855.3 464.78,835.5 480.22,820.3 491.9,814.5 503.58,811.5 519.02,810.7 530.7,811.5 542.38,813 557.82,815.3 569.5,817.4" fill="none" stroke="#0d5452" stroke-width="1.5"/>
<circle cx="336.7" cy="964.5" r="2.4" fill="#0d5452"/>
<circle cx="348.38" cy="964.5" r="2.4" fill="#0d5452"/>
<circle cx="363.82" cy="963.8" r="2.4" fill="#0d5452"/>
<circle cx="375.5" cy="963" r="2.4" fill="#0d5452"/>
<circle cx="387.18" cy="960.4" r="2.4" fill="#0d5452"/>
<circle cx="402.62" cy="952.6" r="2.4" fill="#0d5452"/>
<circle cx="414.3" cy="940" r="2.4" fill="#0d5452"/>
<circle cx="425.98" cy="918.4" r="2.4" fill="#0d5452"/>
<circle cx="441.42" cy="881.6" r="2.4" fill="#0d5452"/>
<circle cx="453.1" cy="855.3" r="2.4" fill="#0d5452"/>
<circle cx="464.78" cy="835.5" r="2.4" fill="#0d5452"/>
<circle cx="480.22" cy="820.3" r="2.4" fill="#0d5452"/>
<circle cx="491.9" cy="814.5" r="2.4" fill="#0d5452"/>
<circle cx="503.58" cy="811.5" r="2.4" fill="#0d5452"/>
<circle cx="519.02" cy="810.7" r="2.4" fill="#0d5452"/>
<circle cx="530.7" cy="811.5" r="2.4" fill="#0d5452"/>
<circle cx="542.38" cy="813" r="2.4" fill="#0d5452"/>
<circle cx="557.82" cy="815.3" r="2.4" fill="#0d5452"/>
<circle cx="569.5" cy="817.4" r="2.4" fill="#0d5452"/>
<polyline points="336.7,963 348.38,963 363.82,962.2 375.5,961.3 387.18,957.8 402.62,947.3 414.3,929.8 425.98,900 441.42,848 453.1,808.6 464.78,778 480.22,753.1 491.9,728" fill="none" stroke="#1f4644" stroke-width="1.5"/>
<circle cx="336.7" cy="963" r="2.4" fill="#0a2a28"/>
<circle cx="348.38" cy="963" r="2.4" fill="#0a2a28"/>
<circle cx="363.82" cy="962.2" r="2.4" fill="#0a2a28"/>
<circle cx="375.5" cy="961.3" r="2.4" fill="#0a2a28"/>
<circle cx="387.18" cy="957.8" r="2.4" fill="#0a2a28"/>
<circle cx="402.62" cy="947.3" r="2.4" fill="#0a2a28"/>
<circle cx="414.3" cy="929.8" r="2.4" fill="#0a2a28"/>
<circle cx="425.98" cy="900" r="2.4" fill="#0a2a28"/>
<circle cx="441.42" cy="848" r="2.4" fill="#0a2a28"/>
<circle cx="453.1" cy="808.6" r="2.4" fill="#0a2a28"/>
<circle cx="464.78" cy="778" r="2.4" fill="#0a2a28"/>
<circle cx="480.22" cy="753.1" r="2.4" fill="#0a2a28"/>
<circle cx="491.9" cy="728" r="2.4" fill="#0a2a28"/>
</g>
<circle cx="447.7" cy="897.9" r="2.5" fill="#4848b0"/>
<circle cx="426.1" cy="932.9" r="2.5" fill="#4848b0"/>
<circle cx="433.4" cy="933.4" r="2.5" fill="#e8302a"/>
<circle cx="503.5" cy="900" r="2.5" fill="#e8302a"/>
<rect x="325.8" y="749" width="247.2" height="273.3" fill="none" stroke="#231f20" stroke-width="1"/>
<line x1="315.5" y1="1022.2" x2="325.8" y2="1022.2" stroke="#231f20" stroke-width="1" />
<line x1="315.5" y1="967.6" x2="325.8" y2="967.6" stroke="#231f20" stroke-width="1" />
<line x1="315.5" y1="913" x2="325.8" y2="913" stroke="#231f20" stroke-width="1" />
<line x1="315.5" y1="858.4" x2="325.8" y2="858.4" stroke="#231f20" stroke-width="1" />
<line x1="315.5" y1="803.8" x2="325.8" y2="803.8" stroke="#231f20" stroke-width="1" />
<line x1="315.5" y1="749.2" x2="325.8" y2="749.2" stroke="#231f20" stroke-width="1" />
<line x1="328.09" y1="1022.3" x2="328.09" y2="1026.8" stroke="#231f20" stroke-width="0.9" />
<line x1="330.69" y1="1022.3" x2="330.69" y2="1026.8" stroke="#231f20" stroke-width="0.9" />
<line x1="332.94" y1="1022.3" x2="332.94" y2="1026.8" stroke="#231f20" stroke-width="0.9" />
<line x1="334.92" y1="1022.3" x2="334.92" y2="1026.8" stroke="#231f20" stroke-width="0.9" />
<line x1="336.7" y1="1022.3" x2="336.7" y2="1031.3" stroke="#231f20" stroke-width="0.9" />
<line x1="348.38" y1="1022.3" x2="348.38" y2="1026.8" stroke="#231f20" stroke-width="0.9" />
<line x1="355.21" y1="1022.3" x2="355.21" y2="1026.8" stroke="#231f20" stroke-width="0.9" />
<line x1="360.06" y1="1022.3" x2="360.06" y2="1026.8" stroke="#231f20" stroke-width="0.9" />
<line x1="363.82" y1="1022.3" x2="363.82" y2="1026.8" stroke="#231f20" stroke-width="0.9" />
<line x1="366.89" y1="1022.3" x2="366.89" y2="1026.8" stroke="#231f20" stroke-width="0.9" />
<line x1="369.49" y1="1022.3" x2="369.49" y2="1026.8" stroke="#231f20" stroke-width="0.9" />
<line x1="371.74" y1="1022.3" x2="371.74" y2="1026.8" stroke="#231f20" stroke-width="0.9" />
<line x1="373.72" y1="1022.3" x2="373.72" y2="1026.8" stroke="#231f20" stroke-width="0.9" />
<line x1="375.5" y1="1022.3" x2="375.5" y2="1031.3" stroke="#231f20" stroke-width="0.9" />
<line x1="387.18" y1="1022.3" x2="387.18" y2="1026.8" stroke="#231f20" stroke-width="0.9" />
<line x1="394.01" y1="1022.3" x2="394.01" y2="1026.8" stroke="#231f20" stroke-width="0.9" />
<line x1="398.86" y1="1022.3" x2="398.86" y2="1026.8" stroke="#231f20" stroke-width="0.9" />
<line x1="402.62" y1="1022.3" x2="402.62" y2="1026.8" stroke="#231f20" stroke-width="0.9" />
<line x1="405.69" y1="1022.3" x2="405.69" y2="1026.8" stroke="#231f20" stroke-width="0.9" />
<line x1="408.29" y1="1022.3" x2="408.29" y2="1026.8" stroke="#231f20" stroke-width="0.9" />
<line x1="410.54" y1="1022.3" x2="410.54" y2="1026.8" stroke="#231f20" stroke-width="0.9" />
<line x1="412.52" y1="1022.3" x2="412.52" y2="1026.8" stroke="#231f20" stroke-width="0.9" />
<line x1="414.3" y1="1022.3" x2="414.3" y2="1031.3" stroke="#231f20" stroke-width="0.9" />
<line x1="425.98" y1="1022.3" x2="425.98" y2="1026.8" stroke="#231f20" stroke-width="0.9" />
<line x1="432.81" y1="1022.3" x2="432.81" y2="1026.8" stroke="#231f20" stroke-width="0.9" />
<line x1="437.66" y1="1022.3" x2="437.66" y2="1026.8" stroke="#231f20" stroke-width="0.9" />
<line x1="441.42" y1="1022.3" x2="441.42" y2="1026.8" stroke="#231f20" stroke-width="0.9" />
<line x1="444.49" y1="1022.3" x2="444.49" y2="1026.8" stroke="#231f20" stroke-width="0.9" />
<line x1="447.09" y1="1022.3" x2="447.09" y2="1026.8" stroke="#231f20" stroke-width="0.9" />
<line x1="449.34" y1="1022.3" x2="449.34" y2="1026.8" stroke="#231f20" stroke-width="0.9" />
<line x1="451.32" y1="1022.3" x2="451.32" y2="1026.8" stroke="#231f20" stroke-width="0.9" />
<line x1="453.1" y1="1022.3" x2="453.1" y2="1031.3" stroke="#231f20" stroke-width="0.9" />
<line x1="464.78" y1="1022.3" x2="464.78" y2="1026.8" stroke="#231f20" stroke-width="0.9" />
<line x1="471.61" y1="1022.3" x2="471.61" y2="1026.8" stroke="#231f20" stroke-width="0.9" />
<line x1="476.46" y1="1022.3" x2="476.46" y2="1026.8" stroke="#231f20" stroke-width="0.9" />
<line x1="480.22" y1="1022.3" x2="480.22" y2="1026.8" stroke="#231f20" stroke-width="0.9" />
<line x1="483.29" y1="1022.3" x2="483.29" y2="1026.8" stroke="#231f20" stroke-width="0.9" />
<line x1="485.89" y1="1022.3" x2="485.89" y2="1026.8" stroke="#231f20" stroke-width="0.9" />
<line x1="488.14" y1="1022.3" x2="488.14" y2="1026.8" stroke="#231f20" stroke-width="0.9" />
<line x1="490.12" y1="1022.3" x2="490.12" y2="1026.8" stroke="#231f20" stroke-width="0.9" />
<line x1="491.9" y1="1022.3" x2="491.9" y2="1031.3" stroke="#231f20" stroke-width="0.9" />
<line x1="503.58" y1="1022.3" x2="503.58" y2="1026.8" stroke="#231f20" stroke-width="0.9" />
<line x1="510.41" y1="1022.3" x2="510.41" y2="1026.8" stroke="#231f20" stroke-width="0.9" />
<line x1="515.26" y1="1022.3" x2="515.26" y2="1026.8" stroke="#231f20" stroke-width="0.9" />
<line x1="519.02" y1="1022.3" x2="519.02" y2="1026.8" stroke="#231f20" stroke-width="0.9" />
<line x1="522.09" y1="1022.3" x2="522.09" y2="1026.8" stroke="#231f20" stroke-width="0.9" />
<line x1="524.69" y1="1022.3" x2="524.69" y2="1026.8" stroke="#231f20" stroke-width="0.9" />
<line x1="526.94" y1="1022.3" x2="526.94" y2="1026.8" stroke="#231f20" stroke-width="0.9" />
<line x1="528.92" y1="1022.3" x2="528.92" y2="1026.8" stroke="#231f20" stroke-width="0.9" />
<line x1="530.7" y1="1022.3" x2="530.7" y2="1031.3" stroke="#231f20" stroke-width="0.9" />
<line x1="542.38" y1="1022.3" x2="542.38" y2="1026.8" stroke="#231f20" stroke-width="0.9" />
<line x1="549.21" y1="1022.3" x2="549.21" y2="1026.8" stroke="#231f20" stroke-width="0.9" />
<line x1="554.06" y1="1022.3" x2="554.06" y2="1026.8" stroke="#231f20" stroke-width="0.9" />
<line x1="557.82" y1="1022.3" x2="557.82" y2="1026.8" stroke="#231f20" stroke-width="0.9" />
<line x1="560.89" y1="1022.3" x2="560.89" y2="1026.8" stroke="#231f20" stroke-width="0.9" />
<line x1="563.49" y1="1022.3" x2="563.49" y2="1026.8" stroke="#231f20" stroke-width="0.9" />
<line x1="565.74" y1="1022.3" x2="565.74" y2="1026.8" stroke="#231f20" stroke-width="0.9" />
<line x1="567.72" y1="1022.3" x2="567.72" y2="1026.8" stroke="#231f20" stroke-width="0.9" />
<line x1="569.5" y1="1022.3" x2="569.5" y2="1031.3" stroke="#231f20" stroke-width="0.9" />
<text x="336.7" y="1047.6" font-size="13.5" text-anchor="middle" fill="#161616" stroke="#161616" stroke-width="0.38" >0.001</text>
<text x="375.5" y="1047.6" font-size="13.5" text-anchor="middle" fill="#161616" stroke="#161616" stroke-width="0.38" >0.01</text>
<text x="414.3" y="1047.6" font-size="13.5" text-anchor="middle" fill="#161616" stroke="#161616" stroke-width="0.38" >0.1</text>
<text x="453.1" y="1047.6" font-size="13.5" text-anchor="middle" fill="#161616" stroke="#161616" stroke-width="0.38" >1</text>
<text x="491.9" y="1047.6" font-size="13.5" text-anchor="middle" fill="#161616" stroke="#161616" stroke-width="0.38" >10</text>
<text x="530.7" y="1047.6" font-size="13.5" text-anchor="middle" fill="#161616" stroke="#161616" stroke-width="0.38" >100</text>
<text x="569.5" y="1047.6" font-size="13.5" text-anchor="middle" fill="#161616" stroke="#161616" stroke-width="0.38" >1000</text>
<text x="454" y="1070.4" font-size="14" text-anchor="middle" fill="#161616" stroke="#161616" stroke-width="0.38" >PIN2 permeability, normalized</text>
<text x="453" y="1087" font-size="14" text-anchor="middle" fill="#161616" stroke="#161616" stroke-width="0.38">at <tspan font-style="italic">k</tspan> = PIN2 upper/lower = 1</text>
<text x="578.8" y="764.3" font-size="12.2" text-anchor="start" fill="#161616" stroke="#161616" stroke-width="0.38" >Gravistimulation</text>
<text x="578.8" y="778.8" font-size="12.2" text-anchor="start" fill="#161616" stroke="#161616" stroke-width="0.38" >Auxin fluxes in</text>
<text x="578.8" y="793.3" font-size="12.2" text-anchor="start" fill="#161616" stroke="#161616" stroke-width="0.38" >Columella</text>
<text x="578.8" y="807.8" font-size="12.2" text-anchor="start" fill="#161616" stroke="#161616" stroke-width="0.38" >Lower/upper ratio :</text>
<line x1="577.3" y1="837" x2="605.6" y2="837" stroke="#2a4a48" stroke-width="1.5" />
<circle cx="591.4" cy="837" r="2.4" fill="#0a2a28"/>
<text x="612.5" y="841.5" font-size="12.2" text-anchor="start" fill="#161616" stroke="#161616" stroke-width="0.38" >95%/5%</text>
<line x1="577.3" y1="854.3" x2="605.6" y2="854.3" stroke="#0d5452" stroke-width="1.5" />
<circle cx="591.4" cy="854.3" r="2.4" fill="#0d5452"/>
<text x="612.5" y="858.8" font-size="12.2" text-anchor="start" fill="#161616" stroke="#161616" stroke-width="0.38" >85%/15%</text>
<line x1="577.3" y1="872.4" x2="605.6" y2="872.4" stroke="#146a68" stroke-width="1.5" />
<circle cx="591.4" cy="872.4" r="2.4" fill="#146a68"/>
<text x="612.5" y="876.9" font-size="12.2" text-anchor="start" fill="#161616" stroke="#161616" stroke-width="0.38" >70%/30%</text>
<line x1="577.3" y1="889.3" x2="605.6" y2="889.3" stroke="#1a9ea0" stroke-width="1.5" />
<circle cx="591.4" cy="889.3" r="2.4" fill="#1a9ea0"/>
<text x="612.5" y="893.8" font-size="12.2" text-anchor="start" fill="#161616" stroke="#161616" stroke-width="0.38" >65%/35%</text>
<line x1="577.3" y1="907.2" x2="605.6" y2="907.2" stroke="#14b6be" stroke-width="1.5" />
<circle cx="591.4" cy="907.2" r="2.4" fill="#14b6be"/>
<text x="612.5" y="911.7" font-size="12.2" text-anchor="start" fill="#161616" stroke="#161616" stroke-width="0.38" >60%/40%</text>
<line x1="577.3" y1="967.4" x2="605.6" y2="967.4" stroke="#20b8c2" stroke-width="1.5" />
<circle cx="591.4" cy="967.4" r="2.4" fill="#20b8c2"/>
<text x="612.5" y="971.9" font-size="12.2" text-anchor="start" fill="#161616" stroke="#161616" stroke-width="0.38" >50%/50%</text>
<text x="612.5" y="985.3" font-size="12.2" text-anchor="start" fill="#161616" stroke="#161616" stroke-width="0.38" >No stimulus</text>
</svg></body></html>
